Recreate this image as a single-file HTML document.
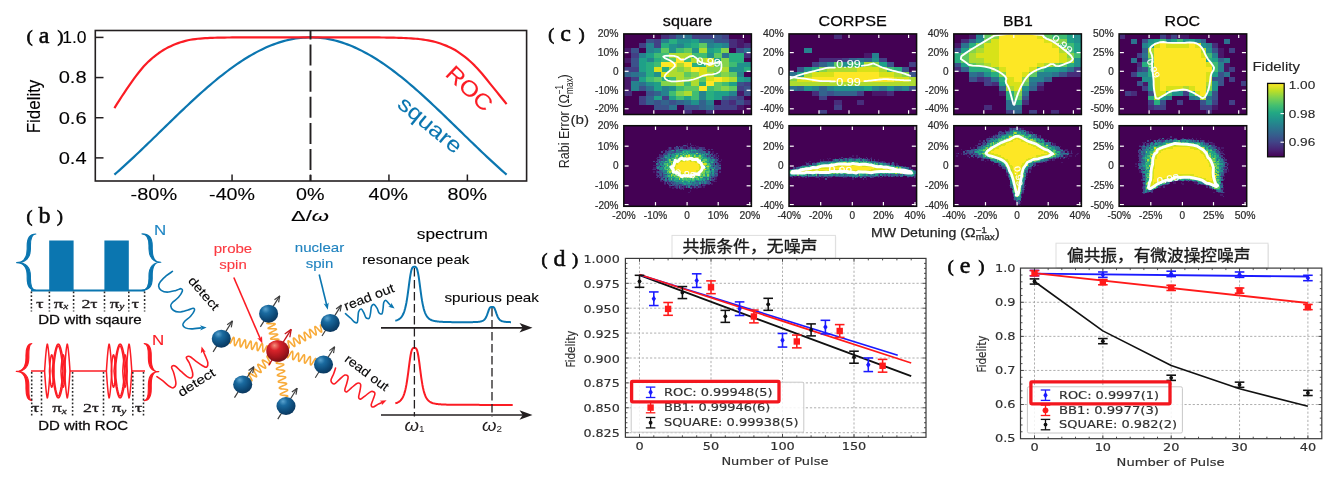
<!DOCTYPE html>
<html lang="zh">
<head>
<meta charset="utf-8">
<title>Figure</title>
<style>
html,body{margin:0;padding:0;background:#fff;}
body{width:1331px;height:492px;overflow:hidden;}
svg{display:block;font-family:"Liberation Sans",sans-serif;filter:blur(0.5px);}
</style>
</head>
<body>
<svg width="1331" height="492" viewBox="0 0 1331 492">
<rect width="1331" height="492" fill="#fff"/>
<g id="panel-a">
<path d="M114.4 174.63 L116.85 172.48 L119.3 170.31 L121.75 168.11 L124.21 165.89 L126.66 163.66 L129.11 161.4 L131.56 159.12 L134.01 156.83 L136.46 154.52 L138.91 152.2 L141.36 149.87 L143.81 147.52 L146.27 145.16 L148.72 142.8 L151.17 140.43 L153.62 138.05 L156.07 135.67 L158.52 133.28 L160.97 130.9 L163.43 128.51 L165.88 126.12 L168.33 123.74 L170.78 121.36 L173.23 118.99 L175.68 116.62 L178.13 114.26 L180.58 111.92 L183.04 109.58 L185.49 107.26 L187.94 104.95 L190.39 102.66 L192.84 100.39 L195.29 98.13 L197.74 95.9 L200.19 93.69 L202.64 91.5 L205.1 89.34 L207.55 87.2 L210 85.1 L212.45 83.02 L214.9 80.97 L217.35 78.96 L219.8 76.98 L222.25 75.03 L224.71 73.12 L227.16 71.25 L229.61 69.41 L232.06 67.62 L234.51 65.87 L236.96 64.16 L239.41 62.49 L241.87 60.87 L244.32 59.3 L246.77 57.77 L249.22 56.29 L251.67 54.86 L254.12 53.48 L256.57 52.15 L259.02 50.88 L261.48 49.65 L263.93 48.48 L266.38 47.37 L268.83 46.31 L271.28 45.31 L273.73 44.36 L276.18 43.48 L278.63 42.65 L281.09 41.88 L283.54 41.17 L285.99 40.52 L288.44 39.93 L290.89 39.4 L293.34 38.93 L295.79 38.53 L298.24 38.18 L300.69 37.9 L303.15 37.68 L305.6 37.53 L308.05 37.43 L310.5 37.4 L312.95 37.43 L315.4 37.53 L317.85 37.68 L320.31 37.9 L322.76 38.18 L325.21 38.53 L327.66 38.93 L330.11 39.4 L332.56 39.93 L335.01 40.52 L337.46 41.17 L339.92 41.88 L342.37 42.65 L344.82 43.48 L347.27 44.36 L349.72 45.31 L352.17 46.31 L354.62 47.37 L357.07 48.48 L359.52 49.65 L361.98 50.88 L364.43 52.15 L366.88 53.48 L369.33 54.86 L371.78 56.29 L374.23 57.77 L376.68 59.3 L379.13 60.87 L381.59 62.49 L384.04 64.16 L386.49 65.87 L388.94 67.62 L391.39 69.41 L393.84 71.25 L396.29 73.12 L398.75 75.03 L401.2 76.98 L403.65 78.96 L406.1 80.97 L408.55 83.02 L411 85.1 L413.45 87.2 L415.9 89.34 L418.36 91.5 L420.81 93.69 L423.26 95.9 L425.71 98.13 L428.16 100.39 L430.61 102.66 L433.06 104.95 L435.51 107.26 L437.97 109.58 L440.42 111.92 L442.87 114.26 L445.32 116.62 L447.77 118.99 L450.22 121.36 L452.67 123.74 L455.12 126.12 L457.57 128.51 L460.03 130.9 L462.48 133.28 L464.93 135.67 L467.38 138.05 L469.83 140.43 L472.28 142.8 L474.73 145.16 L477.19 147.52 L479.64 149.87 L482.09 152.2 L484.54 154.52 L486.99 156.83 L489.44 159.12 L491.89 161.4 L494.34 163.66 L496.8 165.89 L499.25 168.11 L501.7 170.31 L504.15 172.48 L506.6 174.63" fill="none" stroke="#0b76b0" stroke-width="2.2" stroke-linejoin="round"/>
<path d="M114.4 108.08 L116.85 104.16 L119.3 100.3 L121.75 96.5 L124.21 92.77 L126.66 89.09 L129.11 85.51 L131.56 82.02 L134.01 78.62 L136.46 75.37 L138.91 72.24 L141.36 69.2 L143.81 66.34 L146.27 63.73 L148.72 61.33 L151.17 59.11 L153.62 57.03 L156.07 55.1 L158.52 53.27 L160.97 51.56 L163.43 50 L165.88 48.6 L168.33 47.32 L170.78 46.14 L173.23 45.07 L175.68 44.08 L178.13 43.15 L180.58 42.31 L183.04 41.58 L185.49 40.9 L187.94 40.29 L190.39 39.78 L192.84 39.39 L195.29 39.06 L197.74 38.78 L200.19 38.55 L202.64 38.35 L205.1 38.18 L207.55 38.04 L210 37.94 L212.45 37.85 L214.9 37.77 L217.35 37.7 L219.8 37.63 L222.25 37.58 L224.71 37.54 L227.16 37.51 L229.61 37.49 L232.06 37.47 L234.51 37.46 L236.96 37.44 L239.41 37.43 L241.87 37.42 L244.32 37.41 L246.77 37.41 L249.22 37.4 L251.67 37.4 L254.12 37.4 L256.57 37.4 L259.02 37.4 L261.48 37.4 L263.93 37.4 L266.38 37.4 L268.83 37.4 L271.28 37.4 L273.73 37.4 L276.18 37.4 L278.63 37.4 L281.09 37.4 L283.54 37.4 L285.99 37.4 L288.44 37.4 L290.89 37.4 L293.34 37.4 L295.79 37.4 L298.24 37.4 L300.69 37.4 L303.15 37.4 L305.6 37.4 L308.05 37.4 L310.5 37.4 L312.95 37.4 L315.4 37.4 L317.85 37.4 L320.31 37.4 L322.76 37.4 L325.21 37.4 L327.66 37.4 L330.11 37.4 L332.56 37.4 L335.01 37.4 L337.46 37.4 L339.92 37.4 L342.37 37.4 L344.82 37.4 L347.27 37.4 L349.72 37.4 L352.17 37.4 L354.62 37.4 L357.07 37.4 L359.52 37.4 L361.98 37.4 L364.43 37.4 L366.88 37.4 L369.33 37.4 L371.78 37.4 L374.23 37.41 L376.68 37.43 L379.13 37.46 L381.59 37.49 L384.04 37.52 L386.49 37.56 L388.94 37.6 L391.39 37.65 L393.84 37.7 L396.29 37.75 L398.75 37.81 L401.2 37.88 L403.65 37.98 L406.1 38.09 L408.55 38.23 L411 38.39 L413.45 38.56 L415.9 38.75 L418.36 38.97 L420.81 39.25 L423.26 39.59 L425.71 39.98 L428.16 40.42 L430.61 40.9 L433.06 41.42 L435.51 41.98 L437.97 42.69 L440.42 43.54 L442.87 44.46 L445.32 45.4 L447.77 46.39 L450.22 47.47 L452.67 48.67 L455.12 50.03 L457.57 51.59 L460.03 53.29 L462.48 55.07 L464.93 56.92 L467.38 58.9 L469.83 61 L472.28 63.23 L474.73 65.65 L477.19 68.23 L479.64 70.93 L482.09 73.72 L484.54 76.69 L486.99 79.76 L489.44 82.82 L491.89 85.85 L494.34 88.88 L496.8 91.92 L499.25 94.96 L501.7 97.99 L504.15 101.03 L506.6 104.07" fill="none" stroke="#fb1c24" stroke-width="2.2" stroke-linejoin="round"/>
<line x1="310.5" y1="31" x2="310.5" y2="181" stroke="#231f20" stroke-width="1.9" stroke-dasharray="21 5.1" stroke-dashoffset="12.5"/>
<rect x="95.3" y="30.5" width="431.3" height="150.5" fill="none" stroke="#231f20" stroke-width="1.6"/>
<line x1="95.3" y1="37.4" x2="103.5" y2="37.4" stroke="#231f20" stroke-width="1.5" />
<line x1="95.3" y1="77.56" x2="103.5" y2="77.56" stroke="#231f20" stroke-width="1.5" />
<line x1="95.3" y1="117.72" x2="103.5" y2="117.72" stroke="#231f20" stroke-width="1.5" />
<line x1="95.3" y1="157.88" x2="103.5" y2="157.88" stroke="#231f20" stroke-width="1.5" />
<line x1="153.62" y1="181" x2="153.62" y2="174.5" stroke="#231f20" stroke-width="1.5" />
<line x1="232.06" y1="181" x2="232.06" y2="174.5" stroke="#231f20" stroke-width="1.5" />
<line x1="310.5" y1="181" x2="310.5" y2="174.5" stroke="#231f20" stroke-width="1.5" />
<line x1="388.94" y1="181" x2="388.94" y2="174.5" stroke="#231f20" stroke-width="1.5" />
<line x1="467.38" y1="181" x2="467.38" y2="174.5" stroke="#231f20" stroke-width="1.5" />
<text x="62.3" y="43.2" font-size="16" textLength="24.3" lengthAdjust="spacingAndGlyphs" stroke="#231f20" stroke-width="0.12">1.0</text>
<text x="58.7" y="83.36" font-size="16" textLength="27.9" lengthAdjust="spacingAndGlyphs" stroke="#231f20" stroke-width="0.12">0.8</text>
<text x="58.7" y="123.52" font-size="16" textLength="27.9" lengthAdjust="spacingAndGlyphs" stroke="#231f20" stroke-width="0.12">0.6</text>
<text x="58.7" y="163.68" font-size="16" textLength="27.9" lengthAdjust="spacingAndGlyphs" stroke="#231f20" stroke-width="0.12">0.4</text>
<text x="130.6" y="200.2" font-size="16" textLength="46.5" lengthAdjust="spacingAndGlyphs" stroke="#231f20" stroke-width="0.12">-80%</text>
<text x="209.1" y="200.2" font-size="16" textLength="45.9" lengthAdjust="spacingAndGlyphs" stroke="#231f20" stroke-width="0.12">-40%</text>
<text x="296.1" y="200.2" font-size="16" textLength="28.5" lengthAdjust="spacingAndGlyphs" stroke="#231f20" stroke-width="0.12">0%</text>
<text x="368.6" y="200.2" font-size="16" textLength="39.4" lengthAdjust="spacingAndGlyphs" stroke="#231f20" stroke-width="0.12">40%</text>
<text x="447.5" y="200.2" font-size="16" textLength="39.5" lengthAdjust="spacingAndGlyphs" stroke="#231f20" stroke-width="0.12">80%</text>
<text transform="translate(40.3 133.2) rotate(-90)" x="0" y="0" font-size="18.2" textLength="53.5" lengthAdjust="spacingAndGlyphs" stroke="#231f20" stroke-width="0.12">Fidelity</text>
<text x="291" y="221.3" font-size="15.5" textLength="38" lengthAdjust="spacingAndGlyphs" stroke="#231f20" stroke-width="0.12">Δ/<tspan font-style="italic">ω</tspan></text>
<text transform="translate(444.2 75) rotate(43.5)" x="0" y="0" font-size="22" fill="#fb1c24" textLength="55" lengthAdjust="spacingAndGlyphs" stroke="#fb1c24" stroke-width="0.1">ROC</text>
<text transform="translate(396.2 106.2) rotate(39.5)" x="0" y="0" font-size="21.5" fill="#0b76b0" textLength="76" lengthAdjust="spacingAndGlyphs" stroke="#0b76b0" stroke-width="0.1">square</text>
<text y="43.6" font-family='"Liberation Serif", serif' fill="#0a0a0a" stroke="#0a0a0a" stroke-width="0.75"><tspan x="26.8" y="42" font-size="17.6">(</tspan><tspan x="32.8" y="42.7" font-size="24" stroke-width="0.55"> a </tspan><tspan x="57.4" y="42" font-size="17.6">)</tspan></text>
</g>
<g id="panel-b">
<defs>
<radialGradient id="gb" cx="0.38" cy="0.3" r="0.75" fx="0.34" fy="0.24">
<stop offset="0" stop-color="#5aa3cf"/><stop offset="0.3" stop-color="#1a6a9f"/><stop offset="0.7" stop-color="#0d4a78"/><stop offset="1" stop-color="#0a3358"/>
</radialGradient>
<radialGradient id="gr" cx="0.4" cy="0.3" r="0.75" fx="0.36" fy="0.24">
<stop offset="0" stop-color="#f58f7c"/><stop offset="0.3" stop-color="#d8232a"/><stop offset="0.7" stop-color="#a3151c"/><stop offset="1" stop-color="#6e0d12"/>
</radialGradient>
</defs>
<text y="223.4" font-family='"Liberation Serif", serif' fill="#0a0a0a" stroke="#0a0a0a" stroke-width="0.75"><tspan x="26.4" y="221.8" font-size="17.6">(</tspan><tspan x="32.4" y="222.5" font-size="24" stroke-width="0.55"> b </tspan><tspan x="57" y="221.8" font-size="17.6">)</tspan></text>
<rect x="49.2" y="240.5" width="24.4" height="50.5" fill="#0b76b0"/>
<rect x="104.4" y="240.5" width="24.4" height="50.5" fill="#0b76b0"/>
<line x1="31" y1="290.5" x2="145" y2="290.5" stroke="#0b76b0" stroke-width="1.8" />
<path d="M35.8 234C31.06 234 27.19 236.7 27.19 245.71L27.19 249.09C27.19 258.1 22.95 262.6 16.6 262.6C22.95 262.6 27.19 267.1 27.19 276.11L27.19 278.59C27.19 287.6 31.06 290.3 35.8 290.3C32.84 290.3 30.41 287.6 30.41 278.59L30.41 276.11C30.41 267.1 25.4 262.6 17.89 262.6C25.4 262.6 30.41 258.1 30.41 249.09L30.41 245.71C30.41 236.7 32.84 234 35.8 234Z" fill="#0b76b0" stroke="#0b76b0" stroke-width="1.15" stroke-linejoin="round"/>
<path d="M142 233.8C145.84 233.8 148.99 236.51 148.99 245.55L148.99 248.64C148.99 257.68 153.71 262.2 160.8 262.2C153.71 262.2 148.99 266.72 148.99 275.76L148.99 278.55C148.99 287.59 145.84 290.3 142 290.3C147.62 290.3 152.21 287.59 152.21 278.55L152.21 275.76C152.21 266.72 155.13 262.2 159.51 262.2C155.13 262.2 152.21 257.68 152.21 248.64L152.21 245.55C152.21 236.51 147.62 233.8 142 233.8Z" fill="#0b76b0" stroke="#0b76b0" stroke-width="1.15" stroke-linejoin="round"/>
<line x1="31.4" y1="291.5" x2="31.4" y2="311.5" stroke="#2a2a2a" stroke-width="1.55" stroke-dasharray="1.8 2.0"/>
<line x1="49.4" y1="291.5" x2="49.4" y2="311.5" stroke="#2a2a2a" stroke-width="1.55" stroke-dasharray="1.8 2.0"/>
<line x1="73.6" y1="291.5" x2="73.6" y2="311.5" stroke="#2a2a2a" stroke-width="1.55" stroke-dasharray="1.8 2.0"/>
<line x1="104.5" y1="291.5" x2="104.5" y2="311.5" stroke="#2a2a2a" stroke-width="1.55" stroke-dasharray="1.8 2.0"/>
<line x1="128.8" y1="291.5" x2="128.8" y2="311.5" stroke="#2a2a2a" stroke-width="1.55" stroke-dasharray="1.8 2.0"/>
<line x1="144.6" y1="291.5" x2="144.6" y2="311.5" stroke="#2a2a2a" stroke-width="1.55" stroke-dasharray="1.8 2.0"/>
<text x="36" y="308.2" font-size="12.8" font-family='"Liberation Serif", serif' fill="#231f20" stroke="#231f20" stroke-width="0.3" textLength="7.6" lengthAdjust="spacingAndGlyphs">τ</text>
<text x="53.7" y="308.2" font-size="12.8" font-family='"Liberation Serif", serif' fill="#231f20" stroke="#231f20" stroke-width="0.3" textLength="14.6" lengthAdjust="spacingAndGlyphs">π<tspan font-size="7.68" font-style="italic" dy="1.2">x</tspan></text>
<text x="81.4" y="308.2" font-size="12.8" font-family='"Liberation Serif", serif' fill="#231f20" stroke="#231f20" stroke-width="0.3" textLength="16.2" lengthAdjust="spacingAndGlyphs">2τ</text>
<text x="109.7" y="308.2" font-size="12.8" font-family='"Liberation Serif", serif' fill="#231f20" stroke="#231f20" stroke-width="0.3" textLength="14.6" lengthAdjust="spacingAndGlyphs">π<tspan font-size="7.68" font-style="italic" dy="1.2">y</tspan></text>
<text x="131.6" y="308.2" font-size="12.8" font-family='"Liberation Serif", serif' fill="#231f20" stroke="#231f20" stroke-width="0.3" textLength="7.6" lengthAdjust="spacingAndGlyphs">τ</text>
<text x="38.2" y="323.8" font-size="13.6" textLength="103.5" lengthAdjust="spacingAndGlyphs" stroke="#231f20" stroke-width="0.28">DD with sqaure</text>
<text x="153.9" y="234.5" font-size="14.4" fill="#1f86c4" textLength="12.2" lengthAdjust="spacingAndGlyphs" stroke="#1f86c4" stroke-width="0.12">N</text>
<line x1="31" y1="371" x2="44.5" y2="371" stroke="#fb1c24" stroke-width="1.5" />
<line x1="69.8" y1="371" x2="106.6" y2="371" stroke="#fb1c24" stroke-width="1.5" />
<line x1="131.6" y1="371" x2="145" y2="371" stroke="#fb1c24" stroke-width="1.5" />
<path d="M44.6 371 L44.94 365.83 L45.28 361.08 L45.62 356.78 L45.97 352.97 L46.31 349.7 L46.65 347.03 L46.99 345.07 L47.33 344.1 L47.67 345.07 L48.01 347.03 L48.35 349.7 L48.7 352.97 L49.04 356.78 L49.38 361.08 L49.72 365.83 L50.06 371" fill="none" stroke="#fb1c24" stroke-width="1.5" stroke-linejoin="round"/><path d="M44.6 371 L44.94 376.17 L45.28 380.92 L45.62 385.22 L45.97 389.03 L46.31 392.3 L46.65 394.97 L46.99 396.93 L47.33 397.9 L47.67 396.93 L48.01 394.97 L48.35 392.3 L48.7 389.03 L49.04 385.22 L49.38 380.92 L49.72 376.17 L50.06 371" fill="none" stroke="#fb1c24" stroke-width="1.5" stroke-linejoin="round"/><path d="M49.43 371 L49.71 366.63 L50 363.52 L50.28 360.91 L50.57 358.77 L50.85 357.08 L51.14 355.85 L51.43 355.11 L51.71 354.86 L52 355.11 L52.28 355.85 L52.57 357.08 L52.86 358.77 L53.14 360.91 L53.43 363.52 L53.71 366.63 L54 371" fill="none" stroke="#fb1c24" stroke-width="1.5" stroke-linejoin="round"/><path d="M49.43 371 L49.71 375.37 L50 378.48 L50.28 381.09 L50.57 383.23 L50.85 384.92 L51.14 386.15 L51.43 386.89 L51.71 387.14 L52 386.89 L52.28 386.15 L52.57 384.92 L52.86 383.23 L53.14 381.09 L53.43 378.48 L53.71 375.37 L54 371" fill="none" stroke="#fb1c24" stroke-width="1.5" stroke-linejoin="round"/><path d="M52.22 371 L52.98 363.72 L53.74 358.53 L54.51 354.19 L55.27 350.61 L56.03 347.79 L56.79 345.75 L57.55 344.51 L58.32 344.1 L59.08 344.51 L59.84 345.75 L60.6 347.79 L61.36 350.61 L62.13 354.19 L62.89 358.53 L63.65 363.72 L64.41 371" fill="none" stroke="#fb1c24" stroke-width="1.5" stroke-linejoin="round"/><path d="M52.22 371 L52.98 378.28 L53.74 383.47 L54.51 387.81 L55.27 391.39 L56.03 394.21 L56.79 396.25 L57.55 397.49 L58.32 397.9 L59.08 397.49 L59.84 396.25 L60.6 394.21 L61.36 391.39 L62.13 387.81 L62.89 383.47 L63.65 378.28 L64.41 371" fill="none" stroke="#fb1c24" stroke-width="1.5" stroke-linejoin="round"/><path d="M53.49 371 L54.08 364.23 L54.66 359.4 L55.25 355.37 L55.84 352.04 L56.43 349.42 L57.01 347.52 L57.6 346.37 L58.19 345.98 L58.78 346.37 L59.36 347.52 L59.95 349.42 L60.54 352.04 L61.13 355.37 L61.71 359.4 L62.3 364.23 L62.89 371" fill="none" stroke="#fb1c24" stroke-width="1.5" stroke-linejoin="round"/><path d="M53.49 371 L54.08 377.77 L54.66 382.6 L55.25 386.63 L55.84 389.96 L56.43 392.58 L57.01 394.48 L57.6 395.63 L58.19 396.02 L58.78 395.63 L59.36 394.48 L59.95 392.58 L60.54 389.96 L61.13 386.63 L61.71 382.6 L62.3 377.77 L62.89 371" fill="none" stroke="#fb1c24" stroke-width="1.5" stroke-linejoin="round"/><path d="M60.98 371 L61.26 366.63 L61.54 363.52 L61.82 360.91 L62.09 358.77 L62.37 357.08 L62.65 355.85 L62.93 355.11 L63.21 354.86 L63.48 355.11 L63.76 355.85 L64.04 357.08 L64.32 358.77 L64.59 360.91 L64.87 363.52 L65.15 366.63 L65.43 371" fill="none" stroke="#fb1c24" stroke-width="1.5" stroke-linejoin="round"/><path d="M60.98 371 L61.26 375.37 L61.54 378.48 L61.82 381.09 L62.09 383.23 L62.37 384.92 L62.65 386.15 L62.93 386.89 L63.21 387.14 L63.48 386.89 L63.76 386.15 L64.04 384.92 L64.32 383.23 L64.59 381.09 L64.87 378.48 L65.15 375.37 L65.43 371" fill="none" stroke="#fb1c24" stroke-width="1.5" stroke-linejoin="round"/><path d="M64.54 371 L64.88 365.83 L65.22 361.08 L65.56 356.78 L65.9 352.97 L66.25 349.7 L66.59 347.03 L66.93 345.07 L67.27 344.1 L67.61 345.07 L67.95 347.03 L68.29 349.7 L68.63 352.97 L68.98 356.78 L69.32 361.08 L69.66 365.83 L70 371" fill="none" stroke="#fb1c24" stroke-width="1.5" stroke-linejoin="round"/><path d="M64.54 371 L64.88 376.17 L65.22 380.92 L65.56 385.22 L65.9 389.03 L66.25 392.3 L66.59 394.97 L66.93 396.93 L67.27 397.9 L67.61 396.93 L67.95 394.97 L68.29 392.3 L68.63 389.03 L68.98 385.22 L69.32 380.92 L69.66 376.17 L70 371" fill="none" stroke="#fb1c24" stroke-width="1.5" stroke-linejoin="round"/>
<path d="M106.4 371 L106.74 365.83 L107.08 361.08 L107.42 356.78 L107.77 352.97 L108.11 349.7 L108.45 347.03 L108.79 345.07 L109.13 344.1 L109.47 345.07 L109.81 347.03 L110.15 349.7 L110.5 352.97 L110.84 356.78 L111.18 361.08 L111.52 365.83 L111.86 371" fill="none" stroke="#fb1c24" stroke-width="1.5" stroke-linejoin="round"/><path d="M106.4 371 L106.74 376.17 L107.08 380.92 L107.42 385.22 L107.77 389.03 L108.11 392.3 L108.45 394.97 L108.79 396.93 L109.13 397.9 L109.47 396.93 L109.81 394.97 L110.15 392.3 L110.5 389.03 L110.84 385.22 L111.18 380.92 L111.52 376.17 L111.86 371" fill="none" stroke="#fb1c24" stroke-width="1.5" stroke-linejoin="round"/><path d="M111.23 371 L111.51 366.63 L111.8 363.52 L112.08 360.91 L112.37 358.77 L112.65 357.08 L112.94 355.85 L113.23 355.11 L113.51 354.86 L113.8 355.11 L114.08 355.85 L114.37 357.08 L114.66 358.77 L114.94 360.91 L115.23 363.52 L115.51 366.63 L115.8 371" fill="none" stroke="#fb1c24" stroke-width="1.5" stroke-linejoin="round"/><path d="M111.23 371 L111.51 375.37 L111.8 378.48 L112.08 381.09 L112.37 383.23 L112.65 384.92 L112.94 386.15 L113.23 386.89 L113.51 387.14 L113.8 386.89 L114.08 386.15 L114.37 384.92 L114.66 383.23 L114.94 381.09 L115.23 378.48 L115.51 375.37 L115.8 371" fill="none" stroke="#fb1c24" stroke-width="1.5" stroke-linejoin="round"/><path d="M114.02 371 L114.78 363.72 L115.54 358.53 L116.31 354.19 L117.07 350.61 L117.83 347.79 L118.59 345.75 L119.35 344.51 L120.12 344.1 L120.88 344.51 L121.64 345.75 L122.4 347.79 L123.16 350.61 L123.93 354.19 L124.69 358.53 L125.45 363.72 L126.21 371" fill="none" stroke="#fb1c24" stroke-width="1.5" stroke-linejoin="round"/><path d="M114.02 371 L114.78 378.28 L115.54 383.47 L116.31 387.81 L117.07 391.39 L117.83 394.21 L118.59 396.25 L119.35 397.49 L120.12 397.9 L120.88 397.49 L121.64 396.25 L122.4 394.21 L123.16 391.39 L123.93 387.81 L124.69 383.47 L125.45 378.28 L126.21 371" fill="none" stroke="#fb1c24" stroke-width="1.5" stroke-linejoin="round"/><path d="M115.29 371 L115.88 364.23 L116.46 359.4 L117.05 355.37 L117.64 352.04 L118.23 349.42 L118.81 347.52 L119.4 346.37 L119.99 345.98 L120.58 346.37 L121.16 347.52 L121.75 349.42 L122.34 352.04 L122.93 355.37 L123.51 359.4 L124.1 364.23 L124.69 371" fill="none" stroke="#fb1c24" stroke-width="1.5" stroke-linejoin="round"/><path d="M115.29 371 L115.88 377.77 L116.46 382.6 L117.05 386.63 L117.64 389.96 L118.23 392.58 L118.81 394.48 L119.4 395.63 L119.99 396.02 L120.58 395.63 L121.16 394.48 L121.75 392.58 L122.34 389.96 L122.93 386.63 L123.51 382.6 L124.1 377.77 L124.69 371" fill="none" stroke="#fb1c24" stroke-width="1.5" stroke-linejoin="round"/><path d="M122.78 371 L123.06 366.63 L123.34 363.52 L123.62 360.91 L123.89 358.77 L124.17 357.08 L124.45 355.85 L124.73 355.11 L125.01 354.86 L125.28 355.11 L125.56 355.85 L125.84 357.08 L126.12 358.77 L126.39 360.91 L126.67 363.52 L126.95 366.63 L127.23 371" fill="none" stroke="#fb1c24" stroke-width="1.5" stroke-linejoin="round"/><path d="M122.78 371 L123.06 375.37 L123.34 378.48 L123.62 381.09 L123.89 383.23 L124.17 384.92 L124.45 386.15 L124.73 386.89 L125.01 387.14 L125.28 386.89 L125.56 386.15 L125.84 384.92 L126.12 383.23 L126.39 381.09 L126.67 378.48 L126.95 375.37 L127.23 371" fill="none" stroke="#fb1c24" stroke-width="1.5" stroke-linejoin="round"/><path d="M126.34 371 L126.68 365.83 L127.02 361.08 L127.36 356.78 L127.7 352.97 L128.05 349.7 L128.39 347.03 L128.73 345.07 L129.07 344.1 L129.41 345.07 L129.75 347.03 L130.09 349.7 L130.43 352.97 L130.78 356.78 L131.12 361.08 L131.46 365.83 L131.8 371" fill="none" stroke="#fb1c24" stroke-width="1.5" stroke-linejoin="round"/><path d="M126.34 371 L126.68 376.17 L127.02 380.92 L127.36 385.22 L127.7 389.03 L128.05 392.3 L128.39 394.97 L128.73 396.93 L129.07 397.9 L129.41 396.93 L129.75 394.97 L130.09 392.3 L130.43 389.03 L130.78 385.22 L131.12 380.92 L131.46 376.17 L131.8 371" fill="none" stroke="#fb1c24" stroke-width="1.5" stroke-linejoin="round"/>
<path d="M31.8 343.6C28.6 343.6 25.97 346.34 25.97 355.46L25.97 357.72C25.97 366.84 22.1 371.4 16.3 371.4C22.1 371.4 25.97 375.96 25.97 385.08L25.97 388.74C25.97 397.86 28.6 400.6 31.8 400.6C30.16 400.6 28.83 397.86 28.83 388.74L28.83 385.08C28.83 375.96 24.27 371.4 17.44 371.4C24.27 371.4 28.83 366.84 28.83 357.72L28.83 355.46C28.83 346.34 30.16 343.6 31.8 343.6Z" fill="#fb1c24" stroke="#fb1c24" stroke-width="1.15" stroke-linejoin="round"/>
<path d="M144.2 343.6C146.5 343.6 148.37 346.34 148.37 355.46L148.37 357.92C148.37 367.04 152.54 371.6 158.8 371.6C152.54 371.6 148.37 376.16 148.37 385.28L148.37 388.74C148.37 397.86 146.5 400.6 144.2 400.6C148.06 400.6 151.23 397.86 151.23 388.74L151.23 385.28C151.23 376.16 153.8 371.6 157.66 371.6C153.8 371.6 151.23 367.04 151.23 357.92L151.23 355.46C151.23 346.34 148.06 343.6 144.2 343.6Z" fill="#fb1c24" stroke="#fb1c24" stroke-width="1.15" stroke-linejoin="round"/>
<line x1="31.7" y1="372" x2="31.7" y2="416" stroke="#2a2a2a" stroke-width="1.55" stroke-dasharray="1.8 2.0"/>
<line x1="41.5" y1="372" x2="41.5" y2="416" stroke="#2a2a2a" stroke-width="1.55" stroke-dasharray="1.8 2.0"/>
<line x1="72.6" y1="372" x2="72.6" y2="416" stroke="#2a2a2a" stroke-width="1.55" stroke-dasharray="1.8 2.0"/>
<line x1="103.5" y1="372" x2="103.5" y2="416" stroke="#2a2a2a" stroke-width="1.55" stroke-dasharray="1.8 2.0"/>
<line x1="132.8" y1="372" x2="132.8" y2="416" stroke="#2a2a2a" stroke-width="1.55" stroke-dasharray="1.8 2.0"/>
<line x1="143.5" y1="372" x2="143.5" y2="416" stroke="#2a2a2a" stroke-width="1.55" stroke-dasharray="1.8 2.0"/>
<text x="31.8" y="412.4" font-size="12.8" font-family='"Liberation Serif", serif' fill="#231f20" stroke="#231f20" stroke-width="0.3" textLength="7.6" lengthAdjust="spacingAndGlyphs">τ</text>
<text x="52.2" y="412.4" font-size="12.8" font-family='"Liberation Serif", serif' fill="#231f20" stroke="#231f20" stroke-width="0.3" textLength="14.6" lengthAdjust="spacingAndGlyphs">π<tspan font-size="7.68" font-style="italic" dy="1.2">x</tspan></text>
<text x="82.9" y="412.4" font-size="12.8" font-family='"Liberation Serif", serif' fill="#231f20" stroke="#231f20" stroke-width="0.3" textLength="16.2" lengthAdjust="spacingAndGlyphs">2τ</text>
<text x="111.7" y="412.4" font-size="12.8" font-family='"Liberation Serif", serif' fill="#231f20" stroke="#231f20" stroke-width="0.3" textLength="14.6" lengthAdjust="spacingAndGlyphs">π<tspan font-size="7.68" font-style="italic" dy="1.2">y</tspan></text>
<text x="134.8" y="412.4" font-size="12.8" font-family='"Liberation Serif", serif' fill="#231f20" stroke="#231f20" stroke-width="0.3" textLength="7.6" lengthAdjust="spacingAndGlyphs">τ</text>
<text x="38.2" y="430.2" font-size="13.6" textLength="90" lengthAdjust="spacingAndGlyphs" stroke="#231f20" stroke-width="0.28">DD with ROC</text>
<text x="151.9" y="344.8" font-size="14.4" fill="#fb1c24" textLength="12.2" lengthAdjust="spacingAndGlyphs" stroke="#fb1c24" stroke-width="0.12">N</text>
<path d="M172.45 271.41C171.45 272.13 168.42 274 166.41 275.73C164.39 277.45 161.66 280.04 160.36 281.77C159.07 283.5 158.49 284.65 158.64 286.09C158.78 287.53 159.79 289.4 161.23 290.41C162.67 291.41 164.82 292.13 167.27 292.13C169.72 292.13 173.6 290.98 175.91 290.41C178.21 289.83 180.02 288.53 181.09 288.68C182.15 288.82 182.73 289.83 182.3 291.27C181.87 292.71 180.14 295.44 178.5 297.31C176.86 299.19 173.75 301.06 172.45 302.5C171.16 303.93 170.58 304.65 170.73 305.95C170.87 307.25 171.88 309.26 173.32 310.27C174.76 311.28 176.91 312.05 179.36 311.99C181.81 311.94 185.69 310.56 188 309.92C190.3 309.29 192.11 308.08 193.18 308.2C194.24 308.31 194.82 309.26 194.39 310.61C193.96 311.97 192.23 314.5 190.59 316.31C188.95 318.13 185.84 320.05 184.54 321.49C183.25 322.93 182.67 323.88 182.82 324.95C182.96 326.01 183.97 327.22 185.41 327.88C186.85 328.55 188.86 328.92 191.45 328.92C194.04 328.92 199.37 328.06 200.95 327.88" fill="none" stroke="#0b76b0" stroke-width="1.6" stroke-linecap="round" stroke-linejoin="round" />
<path d="M206.6 327.6 L200.18 330.39 L201.73 327.75 L200.02 325.2 Z" fill="#0b76b0"/>
<text transform="translate(187.4 281.2) rotate(49)" x="0" y="0" font-size="12.6" textLength="40" lengthAdjust="spacingAndGlyphs" stroke="#231f20" stroke-width="0.12">detect</text>
<path d="M156.91 376.63C157.92 377.35 160.94 379.37 162.95 380.95C164.97 382.53 167.27 384.98 169 386.13C170.73 387.28 172.16 388.29 173.32 387.86C174.47 387.43 175.82 385.99 175.91 383.54C175.99 381.09 174.55 375.91 173.83 373.18C173.11 370.44 171.39 368.34 171.59 367.13C171.79 365.92 173.46 365.2 175.04 365.92C176.63 366.64 179.07 369.67 181.09 371.45C183.1 373.24 185.41 375.57 187.13 376.63C188.86 377.7 190.53 378.42 191.45 377.84C192.37 377.27 193.03 375.68 192.66 373.18C192.29 370.67 190.27 365.41 189.21 362.82C188.14 360.22 186.18 358.7 186.27 357.63C186.36 356.57 188.14 355.85 189.72 356.42C191.31 357 193.47 359.45 195.77 361.09C198.07 362.73 201.73 365.26 203.54 366.27C205.35 367.28 205.93 367.71 206.65 367.13C207.37 366.56 208.09 364.69 207.86 362.82C207.63 360.94 206.1 357.98 205.27 355.91C204.43 353.83 203.25 351.3 202.85 350.38" fill="none" stroke="#fb1c24" stroke-width="1.6" stroke-linecap="round" stroke-linejoin="round" />
<path d="M201.6 346.6 L205.79 352.21 L202.86 351.31 L200.77 353.55 Z" fill="#fb1c24"/>
<text transform="translate(181.2 397.2) rotate(-32.5)" x="0" y="0" font-size="12.6" textLength="41.5" lengthAdjust="spacingAndGlyphs" stroke="#231f20" stroke-width="0.12">detect</text>
<path d="M275.45 341.77 L275.86 341.28 L277.08 340.59 L278.56 339.83 L278.87 339.36 L278.03 339.17 L276.59 339.13 L274.81 339.17 L273.04 339.21 L271.6 339.17 L270.75 338.98 L270.66 338.61 L271.32 338.06 L272.59 337.36 L274.18 336.57 L275.78 335.79 L277.04 335.09 L277.7 334.54 L277.61 334.17 L276.77 333.98 L275.32 333.94 L273.55 333.98 L271.77 334.02 L270.33 333.98 L269.49 333.79 L269.4 333.42 L270.06 332.86 L271.32 332.16 L272.91 331.38 L274.51 330.6 L275.77 329.89 L276.43 329.34 L276.34 328.97 L275.5 328.78 L274.06 328.74 L272.28 328.78 L270.5 328.82 L269.06 328.78 L268.22 328.59 L268.13 328.22 L268.79 327.67 L270.05 326.96 L271.65 326.18 L273.24 325.4 L274.5 324.7 L275.16 324.14 L275.07 323.77 L274.23 323.59 L272.79 323.54 L271.01 323.58 L269.23 323.62 L267.79 323.58 L266.95 323.4 L267.27 322.93 L268.75 322.17 L269.97 321.48 L270.38 320.99" fill="none" stroke="#f8ab3a" stroke-width="1.6" stroke-linejoin="round" stroke-linecap="round"/>
<path d="M268.42 348.98 L268.08 348.6 L267.83 347.76 L267.62 346.77 L267.36 346.03 L266.95 345.93 L266.35 346.75 L265.58 348.36 L264.8 349.96 L264.1 351.23 L263.53 351.9 L263.12 351.81 L262.88 350.97 L262.77 349.52 L262.73 347.74 L262.7 345.95 L262.59 344.5 L262.35 343.66 L261.94 343.57 L261.37 344.24 L260.67 345.51 L259.89 347.12 L259.12 348.72 L258.41 349.99 L257.84 350.66 L257.44 350.57 L257.2 349.73 L257.09 348.28 L257.05 346.5 L257.01 344.71 L256.9 343.26 L256.66 342.42 L256.26 342.33 L255.69 343 L254.98 344.27 L254.21 345.88 L253.43 347.48 L252.73 348.76 L252.16 349.42 L251.75 349.33 L251.51 348.49 L251.4 347.04 L251.37 345.26 L251.33 343.47 L251.22 342.02 L250.98 341.18 L250.57 341.09 L250 341.76 L249.3 343.03 L248.52 344.64 L247.75 346.24 L247.04 347.52 L246.47 348.18 L246.07 348.09 L245.83 347.25 L245.72 345.8 L245.68 344.02 L245.64 342.23 L245.54 340.78 L245.29 339.94 L244.89 339.85 L244.32 340.52 L243.61 341.79 L242.84 343.4 L242.06 345 L241.36 346.28 L240.79 346.94 L240.38 346.85 L240.14 346.01 L240.03 344.56 L240 342.78 L239.96 340.99 L239.85 339.54 L239.61 338.7 L239.2 338.61 L238.63 339.28 L237.93 340.55 L237.15 342.16 L236.38 343.76 L235.68 345.04 L235.11 345.7 L234.7 345.61 L234.46 344.77 L234.35 343.32 L234.31 341.54 L234.28 339.75 L234.17 338.31 L233.92 337.46 L233.52 337.37 L232.95 338.04 L232.25 339.31 L231.47 340.92 L230.69 342.53 L230.09 343.34 L229.69 343.24 L229.42 342.51 L229.21 341.51 L228.97 340.68 L228.63 340.3" fill="none" stroke="#f8ab3a" stroke-width="1.6" stroke-linejoin="round" stroke-linecap="round"/>
<path d="M286.08 346.52 L286.6 346.57 L287.34 347.05 L288.16 347.66 L288.86 348.04 L289.24 347.84 L289.19 346.82 L288.76 345.08 L288.32 343.35 L288.04 341.92 L288.06 341.03 L288.45 340.83 L289.19 341.3 L290.23 342.32 L291.43 343.65 L292.64 344.97 L293.68 346 L294.42 346.47 L294.81 346.27 L294.82 345.38 L294.55 343.95 L294.11 342.21 L293.68 340.48 L293.4 339.05 L293.42 338.16 L293.8 337.96 L294.55 338.43 L295.59 339.46 L296.79 340.78 L298 342.11 L299.03 343.13 L299.78 343.6 L300.16 343.4 L300.18 342.51 L299.91 341.08 L299.47 339.35 L299.04 337.61 L298.76 336.18 L298.78 335.29 L299.16 335.09 L299.91 335.56 L300.95 336.59 L302.15 337.91 L303.35 339.24 L304.39 340.26 L305.14 340.74 L305.52 340.53 L305.54 339.65 L305.27 338.21 L304.83 336.48 L304.4 334.74 L304.12 333.31 L304.14 332.43 L304.52 332.22 L305.27 332.7 L306.31 333.72 L307.51 335.04 L308.71 336.37 L309.75 337.39 L310.5 337.87 L310.88 337.66 L310.9 336.78 L310.63 335.34 L310.19 333.61 L309.75 331.87 L309.48 330.44 L309.5 329.56 L309.88 329.35 L310.63 329.83 L311.67 330.85 L312.87 332.18 L314.07 333.5 L315.11 334.52 L315.86 335 L316.24 334.79 L316.26 333.91 L315.99 332.48 L315.55 330.74 L315.11 329.01 L314.84 327.57 L314.86 326.69 L315.24 326.48 L315.99 326.96 L317.03 327.98 L318.23 329.31 L319.43 330.63 L320.47 331.65 L321.22 332.13 L321.6 331.93 L321.62 331.04 L321.34 329.61 L320.91 327.87 L320.47 326.14 L320.42 325.12 L320.8 324.92 L321.5 325.3 L322.32 325.91 L323.07 326.38 L323.59 326.44" fill="none" stroke="#f8ab3a" stroke-width="1.6" stroke-linejoin="round" stroke-linecap="round"/>
<path d="M286.81 353.7 L287.11 354.23 L287.23 355.38 L287.28 356.75 L287.44 357.77 L288.02 357.33 L288.84 356.12 L289.76 354.58 L290.67 353.04 L291.49 351.83 L292.13 351.22 L292.55 351.34 L292.75 352.21 L292.78 353.67 L292.71 355.46 L292.64 357.25 L292.66 358.7 L292.86 359.57 L293.28 359.7 L293.92 359.08 L294.74 357.87 L295.66 356.33 L296.57 354.79 L297.39 353.58 L298.03 352.97 L298.45 353.09 L298.66 353.96 L298.68 355.42 L298.61 357.21 L298.54 359 L298.56 360.46 L298.76 361.32 L299.18 361.45 L299.83 360.83 L300.64 359.62 L301.56 358.08 L302.47 356.55 L303.29 355.34 L303.93 354.72 L304.35 354.85 L304.56 355.71 L304.58 357.17 L304.51 358.96 L304.44 360.75 L304.46 362.21 L304.66 363.07 L305.08 363.2 L305.73 362.58 L306.54 361.38 L307.46 359.84 L308.37 358.3 L309.19 357.09 L309.83 356.47 L310.26 356.6 L310.46 357.46 L310.48 358.92 L310.41 360.71 L310.34 362.5 L310.36 363.96 L310.56 364.83 L310.99 364.95 L311.63 364.34 L312.44 363.13 L313.36 361.59 L314.28 360.05 L315.09 358.84 L315.68 358.4 L315.84 359.42 L315.89 360.79 L316.01 361.94 L316.31 362.47" fill="none" stroke="#f8ab3a" stroke-width="1.6" stroke-linejoin="round" stroke-linecap="round"/>
<path d="M270.84 357.57 L270.23 357.58 L269.16 357.11 L267.94 356.49 L266.97 356.13 L267.05 356.86 L267.69 358.18 L268.57 359.74 L269.44 361.31 L270.08 362.62 L270.29 363.49 L269.96 363.8 L269.1 363.56 L267.82 362.86 L266.29 361.92 L264.77 360.97 L263.48 360.28 L262.62 360.03 L262.3 360.34 L262.51 361.21 L263.15 362.53 L264.02 364.09 L264.9 365.66 L265.53 366.97 L265.74 367.84 L265.42 368.15 L264.56 367.9 L263.27 367.21 L261.75 366.27 L260.22 365.32 L258.94 364.63 L258.08 364.38 L257.75 364.69 L257.96 365.56 L258.6 366.88 L259.48 368.44 L260.35 370.01 L260.99 371.32 L261.2 372.19 L260.88 372.5 L260.02 372.25 L258.73 371.56 L257.21 370.62 L255.68 369.67 L254.39 368.98 L253.54 368.73 L253.21 369.04 L253.42 369.91 L254.06 371.23 L254.93 372.79 L255.81 374.35 L256.45 375.67 L256.66 376.54 L256.33 376.85 L255.47 376.6 L254.19 375.91 L252.66 374.97 L251.14 374.02 L249.85 373.33 L248.99 373.08 L248.67 373.39 L248.88 374.26 L249.51 375.58 L250.39 377.14 L251.27 378.7 L251.9 380.02 L251.98 380.75 L251.02 380.39 L249.8 379.77 L248.73 379.3 L248.12 379.31" fill="none" stroke="#f8ab3a" stroke-width="1.6" stroke-linejoin="round" stroke-linecap="round"/>
<path d="M279.12 360.39 L278.85 360.9 L278.03 361.49 L277.03 362.1 L276.33 362.67 L276.39 363.13 L277.81 363.38 L279.6 363.58 L281.38 363.77 L282.83 364.02 L283.66 364.36 L283.73 364.81 L283.03 365.38 L281.73 366.05 L280.08 366.76 L278.43 367.47 L277.12 368.13 L276.43 368.7 L276.5 369.16 L277.33 369.5 L278.77 369.75 L280.56 369.94 L282.34 370.14 L283.79 370.38 L284.62 370.72 L284.69 371.18 L283.99 371.75 L282.69 372.41 L281.04 373.12 L279.39 373.84 L278.08 374.5 L277.39 375.07 L277.46 375.52 L278.29 375.86 L279.73 376.11 L281.52 376.31 L283.3 376.5 L284.75 376.75 L285.58 377.09 L285.65 377.54 L284.95 378.11 L283.65 378.78 L282 379.49 L280.35 380.2 L279.04 380.86 L278.35 381.43 L278.42 381.89 L279.25 382.23 L280.69 382.48 L282.48 382.67 L284.26 382.87 L285.71 383.11 L286.54 383.45 L286.61 383.91 L285.91 384.48 L284.61 385.14 L282.96 385.85 L281.31 386.57 L280 387.23 L279.31 387.8 L279.38 388.25 L280.21 388.59 L281.66 388.84 L283.44 389.04 L285.22 389.23 L286.67 389.48 L287.5 389.82 L287.57 390.27 L286.88 390.84 L285.57 391.51 L283.92 392.22 L282.27 392.93 L280.97 393.59 L280.27 394.16 L280.34 394.62 L281.17 394.96 L282.62 395.21 L284.4 395.4 L286.19 395.6 L287.61 395.85 L287.67 396.3 L286.97 396.87 L285.97 397.49 L285.15 398.08 L284.88 398.58" fill="none" stroke="#f8ab3a" stroke-width="1.6" stroke-linejoin="round" stroke-linecap="round"/>
<line x1="260.39" y1="326.84" x2="279.73" y2="295.89" stroke="#3c3c3c" stroke-width="1.15" /><line x1="279.73" y1="295.89" x2="274.47" y2="299.71" stroke="#3c3c3c" stroke-width="1.15" /><line x1="279.73" y1="295.89" x2="278.6" y2="302.29" stroke="#3c3c3c" stroke-width="1.15" />
<line x1="213.09" y1="351.84" x2="232.43" y2="320.89" stroke="#3c3c3c" stroke-width="1.15" /><line x1="232.43" y1="320.89" x2="227.17" y2="324.71" stroke="#3c3c3c" stroke-width="1.15" /><line x1="232.43" y1="320.89" x2="231.3" y2="327.29" stroke="#3c3c3c" stroke-width="1.15" />
<line x1="321.99" y1="336.04" x2="341.33" y2="305.09" stroke="#3c3c3c" stroke-width="1.15" /><line x1="341.33" y1="305.09" x2="336.07" y2="308.91" stroke="#3c3c3c" stroke-width="1.15" /><line x1="341.33" y1="305.09" x2="340.2" y2="311.49" stroke="#3c3c3c" stroke-width="1.15" />
<line x1="315.29" y1="377.74" x2="334.63" y2="346.79" stroke="#3c3c3c" stroke-width="1.15" /><line x1="334.63" y1="346.79" x2="329.37" y2="350.61" stroke="#3c3c3c" stroke-width="1.15" /><line x1="334.63" y1="346.79" x2="333.5" y2="353.19" stroke="#3c3c3c" stroke-width="1.15" />
<line x1="234.49" y1="397.64" x2="253.83" y2="366.69" stroke="#3c3c3c" stroke-width="1.15" /><line x1="253.83" y1="366.69" x2="248.57" y2="370.51" stroke="#3c3c3c" stroke-width="1.15" /><line x1="253.83" y1="366.69" x2="252.7" y2="373.09" stroke="#3c3c3c" stroke-width="1.15" />
<line x1="277.79" y1="419.14" x2="297.13" y2="388.19" stroke="#3c3c3c" stroke-width="1.15" /><line x1="297.13" y1="388.19" x2="291.87" y2="392.01" stroke="#3c3c3c" stroke-width="1.15" /><line x1="297.13" y1="388.19" x2="296" y2="394.59" stroke="#3c3c3c" stroke-width="1.15" />
<line x1="268.69" y1="365.42" x2="291.21" y2="329.37" stroke="#c4161c" stroke-width="1.3" /><line x1="291.21" y1="329.37" x2="284.74" y2="334.08" stroke="#c4161c" stroke-width="1.3" /><line x1="291.21" y1="329.37" x2="289.82" y2="337.25" stroke="#c4161c" stroke-width="1.3" />
<ellipse cx="268.6" cy="313.7" rx="9.54" ry="9" fill="url(#gb)"/>
<ellipse cx="221.3" cy="338.7" rx="9.54" ry="9" fill="url(#gb)"/>
<ellipse cx="330.2" cy="322.9" rx="9.54" ry="9" fill="url(#gb)"/>
<ellipse cx="323.5" cy="364.6" rx="9.54" ry="9" fill="url(#gb)"/>
<ellipse cx="242.7" cy="384.5" rx="9.54" ry="9" fill="url(#gb)"/>
<ellipse cx="286" cy="406" rx="9.54" ry="9" fill="url(#gb)"/>
<ellipse cx="277.7" cy="351" rx="11.45" ry="10.8" fill="url(#gr)"/>
<text x="233" y="253.2" font-size="12.8" fill="#fb3a41" text-anchor="middle" textLength="38.5" lengthAdjust="spacingAndGlyphs" stroke="#fb3a41" stroke-width="0.12">probe</text>
<text x="233" y="269" font-size="12.8" fill="#fb3a41" text-anchor="middle" textLength="27.5" lengthAdjust="spacingAndGlyphs" stroke="#fb3a41" stroke-width="0.12">spin</text>
<text x="319.5" y="252.2" font-size="12.8" fill="#2083bf" text-anchor="middle" textLength="49.5" lengthAdjust="spacingAndGlyphs" stroke="#2083bf" stroke-width="0.12">nuclear</text>
<text x="319.5" y="268.2" font-size="12.8" fill="#2083bf" text-anchor="middle" textLength="27.5" lengthAdjust="spacingAndGlyphs" stroke="#2083bf" stroke-width="0.12">spin</text>
<line x1="233.8" y1="277.5" x2="260.6" y2="339.5" stroke="#fb1c24" stroke-width="1.6" />
<path d="M262.4 343.5 L257.24 338.1 L260.32 338.68 L262.01 336.04 Z" fill="#fb1c24"/>
<line x1="319.2" y1="274.5" x2="326.8" y2="305.5" stroke="#0b76b0" stroke-width="1.6" />
<path d="M327.8 309.8 L323.62 303.61 L326.56 304.7 L328.67 302.38 Z" fill="#0b76b0"/>
<path d="M345.46 313.66C346.34 314.43 349.2 316.85 350.74 318.28C352.28 319.71 353.6 321.58 354.7 322.24C355.8 322.9 356.79 323.12 357.34 322.24C357.89 321.36 357.78 318.72 358 316.96C358.22 315.2 358.11 313 358.66 311.68C359.21 310.36 360.42 308.82 361.3 309.04C362.18 309.26 363.17 311.57 363.94 313C364.71 314.43 365.04 316.74 365.92 317.62C366.8 318.5 368.45 319.05 369.22 318.28C369.99 317.51 370.17 314.98 370.54 313C370.92 311.02 370.87 307.83 371.47 306.4C372.06 304.97 373.16 304.09 374.11 304.42C375.06 304.75 376.31 306.95 377.15 308.38C377.98 309.81 378.31 312.12 379.13 313C379.94 313.88 381.37 314.43 382.03 313.66C382.69 312.89 382.8 310.25 383.09 308.38C383.37 306.51 383.26 303.76 383.75 302.44C384.23 301.12 385.11 300.24 385.99 300.46C386.87 300.68 388.08 302.77 389.03 303.76C389.97 304.75 391.23 305.96 391.67 306.4" fill="none" stroke="#0b76b0" stroke-width="1.6" stroke-linecap="round" stroke-linejoin="round" />
<path d="M394.6 308.6 L388.18 306.75 L390.94 305.74 L391.25 302.81 Z" fill="#0b76b0"/>
<text transform="translate(345.9 310.8) rotate(-21.4)" x="0" y="0" font-size="12.8" textLength="53" lengthAdjust="spacingAndGlyphs" stroke="#231f20" stroke-width="0.12">read out</text>
<path d="M335.56 368.1C335.23 369.09 334.35 371.95 333.58 374.04C332.81 376.13 330.83 378.99 330.94 380.64C331.05 382.29 332.81 384.16 334.24 383.94C335.67 383.72 337.76 380.8 339.52 379.32C341.28 377.85 343.37 375.54 344.8 375.1C346.23 374.66 347.77 375.32 348.1 376.68C348.43 378.05 347.33 381.08 346.78 383.28C346.23 385.48 344.8 388.45 344.8 389.88C344.8 391.31 345.68 392.19 346.78 391.86C347.88 391.53 349.64 389.33 351.4 387.9C353.16 386.47 355.8 383.83 357.34 383.28C358.88 382.73 360.2 383.39 360.64 384.6C361.08 385.81 360.31 388.45 359.98 390.54C359.65 392.63 358.55 395.72 358.66 397.15C358.77 398.58 359.54 399.35 360.64 399.13C361.74 398.91 363.5 397.1 365.26 395.83C367.02 394.55 369.6 391.91 371.2 391.47C372.81 391.03 374.57 391.91 374.9 393.18C375.23 394.46 373.8 397.15 373.18 399.13C372.57 401.11 371.2 403.75 371.2 405.07C371.2 406.39 372.08 407.16 373.18 407.05C374.28 406.94 376.38 405.15 377.81 404.41C379.24 403.66 381.11 402.87 381.77 402.56" fill="none" stroke="#fb1c24" stroke-width="1.6" stroke-linecap="round" stroke-linejoin="round" />
<path d="M386.6 400.2 L381.77 405.21 L382.18 402.26 L379.65 400.68 Z" fill="#fb1c24"/>
<text transform="translate(343.7 360.8) rotate(36.8)" x="0" y="0" font-size="12.8" textLength="51.5" lengthAdjust="spacingAndGlyphs" stroke="#231f20" stroke-width="0.12">read out</text>
<text x="452.3" y="239.3" font-size="14" text-anchor="middle" textLength="71" lengthAdjust="spacingAndGlyphs" stroke="#231f20" stroke-width="0.12">spectrum</text>
<text x="362.3" y="263.5" font-size="13.4" textLength="107" lengthAdjust="spacingAndGlyphs" stroke="#231f20" stroke-width="0.12">resonance peak</text>
<text x="444.4" y="302.2" font-size="13.4" textLength="94.5" lengthAdjust="spacingAndGlyphs" stroke="#231f20" stroke-width="0.12">spurious peak</text>
<path d="M395.3 320.77 L395.88 320.6 L396.46 320.41 L397.04 320.2 L397.63 319.95 L398.21 319.67 L398.79 319.34 L399.37 318.96 L399.95 318.51 L400.53 317.98 L401.11 317.37 L401.7 316.64 L402.28 315.78 L402.86 314.75 L403.44 313.53 L404.02 312.08 L404.6 310.34 L405.18 308.27 L405.77 305.83 L406.35 302.96 L406.93 299.63 L407.51 295.87 L408.09 291.72 L408.67 287.32 L409.25 282.87 L409.84 278.64 L410.42 274.89 L411 271.84 L411.58 269.58 L412.16 268.1 L412.74 267.28 L413.32 266.91 L413.91 266.81 L414.49 266.8 L415.07 266.82 L415.65 266.98 L416.23 267.46 L416.81 268.47 L417.39 270.17 L417.97 272.66 L418.56 275.94 L419.14 279.86 L419.72 284.19 L420.3 288.65 L420.88 292.99 L421.46 297.03 L422.04 300.67 L422.63 303.85 L423.21 306.59 L423.79 308.92 L424.37 310.89 L424.95 312.53 L425.53 313.92 L426.11 315.07 L426.7 316.05 L427.28 316.87 L427.86 317.56 L428.44 318.15 L429.02 318.65 L429.6 319.07 L430.18 319.44 L430.77 319.76 L431.35 320.03 L431.93 320.26 L432.51 320.47 L433.09 320.65 L433.67 320.81 L434.25 320.95 L434.84 321.07 L435.42 321.18 L436 321.28 L436.58 321.36 L437.16 321.44 L437.74 321.51 L438.32 321.57 L438.91 321.63 L439.49 321.68 L440.07 321.72 L440.65 321.77 L441.23 321.8 L441.81 321.84 L442.39 321.87 L442.98 321.9 L443.56 321.92 L444.14 321.95 L444.72 321.97 L445.3 321.99 L445.88 322.01 L446.46 322.02 L447.05 322.04 L447.63 322.05 L448.21 322.07 L448.79 322.08 L449.37 322.09 L449.95 322.1 L450.53 322.11 L451.12 322.12 L451.7 322.13 L452.28 322.14 L452.86 322.14 L453.44 322.15 L454.02 322.15 L454.6 322.16 L455.18 322.17 L455.77 322.17 L456.35 322.17 L456.93 322.18 L457.51 322.18 L458.09 322.19 L458.67 322.19 L459.25 322.19 L459.84 322.19 L460.42 322.2 L461 322.2 L461.58 322.2 L462.16 322.2 L462.74 322.2 L463.32 322.2 L463.91 322.2 L464.49 322.2 L465.07 322.2 L465.65 322.2 L466.23 322.2 L466.81 322.19 L467.39 322.19 L467.98 322.19 L468.56 322.18 L469.14 322.18 L469.72 322.17 L470.3 322.17 L470.88 322.16 L471.46 322.15 L472.05 322.14 L472.63 322.13 L473.21 322.12 L473.79 322.1 L474.37 322.09 L474.95 322.06 L475.53 322.04 L476.12 322.01 L476.7 321.98 L477.28 321.94 L477.86 321.89 L478.44 321.84 L479.02 321.77 L479.6 321.69 L480.19 321.59 L480.77 321.47 L481.35 321.32 L481.93 321.13 L482.51 320.9 L483.09 320.6 L483.67 320.23 L484.26 319.75 L484.84 319.14 L485.42 318.36 L486 317.37 L486.58 316.15 L487.16 314.69 L487.74 313.03 L488.33 311.31 L488.91 309.71 L489.49 308.42 L490.07 307.55 L490.65 307.09 L491.23 306.92 L491.81 306.89 L492.39 306.89 L492.98 306.96 L493.56 307.22 L494.14 307.81 L494.72 308.84 L495.3 310.26 L495.88 311.93 L496.46 313.65 L497.05 315.24 L497.63 316.62 L498.21 317.76 L498.79 318.67 L499.37 319.38 L499.95 319.95 L500.53 320.38 L501.12 320.73 L501.7 321 L502.28 321.22 L502.86 321.39 L503.44 321.53 L504.02 321.64 L504.6 321.73 L505.19 321.81 L505.77 321.88 L506.35 321.93 L506.93 321.97 L507.51 322.01 L508.09 322.05 L508.67 322.07 L509.26 322.1 L509.84 322.12 L510.42 322.14 L511 322.15" fill="none" stroke="#0b76b0" stroke-width="2" stroke-linejoin="round"/>
<path d="M395.3 403.33 L395.89 403.15 L396.48 402.96 L397.07 402.73 L397.66 402.47 L398.25 402.17 L398.84 401.83 L399.43 401.42 L400.02 400.95 L400.61 400.39 L401.2 399.73 L401.79 398.95 L402.38 398.03 L402.97 396.93 L403.56 395.61 L404.15 394.03 L404.74 392.15 L405.33 389.9 L405.92 387.25 L406.51 384.13 L407.1 380.53 L407.69 376.48 L408.28 372.06 L408.87 367.43 L409.46 362.84 L410.05 358.58 L410.64 354.92 L411.23 352.06 L411.82 350.04 L412.41 348.81 L413 348.18 L413.59 347.94 L414.18 347.9 L414.77 347.9 L415.36 347.98 L415.95 348.29 L416.54 349.05 L417.13 350.47 L417.72 352.69 L418.31 355.76 L418.9 359.59 L419.49 363.96 L420.08 368.59 L420.67 373.18 L421.26 377.53 L421.85 381.47 L422.44 384.95 L423.03 387.95 L423.62 390.5 L424.21 392.65 L424.8 394.45 L425.39 395.96 L425.98 397.22 L426.57 398.27 L427.16 399.16 L427.75 399.91 L428.34 400.54 L428.93 401.07 L429.52 401.53 L430.11 401.92 L430.7 402.25 L431.29 402.54 L431.88 402.79 L432.47 403.01 L433.06 403.2 L433.65 403.37 L434.24 403.51 L434.83 403.64 L435.42 403.75 L436.01 403.86 L436.6 403.95 L437.19 404.03 L437.78 404.1 L438.37 404.16 L438.96 404.22 L439.55 404.27 L440.14 404.32 L440.73 404.36 L441.32 404.4 L441.91 404.44 L442.5 404.47 L443.09 404.5 L443.68 404.52 L444.27 404.55 L444.86 404.57 L445.45 404.59 L446.04 404.61 L446.63 404.63 L447.22 404.64 L447.81 404.66 L448.4 404.67 L448.99 404.69 L449.58 404.7 L450.17 404.71 L450.76 404.72 L451.35 404.73 L451.94 404.74 L452.53 404.75 L453.12 404.75 L453.71 404.76 L454.29 404.77 L454.88 404.77 L455.47 404.78 L456.06 404.79 L456.65 404.79 L457.24 404.8 L457.83 404.8 L458.42 404.81 L459.01 404.81 L459.6 404.81 L460.19 404.82 L460.78 404.82 L461.37 404.82 L461.96 404.83 L462.55 404.83 L463.14 404.83 L463.73 404.84 L464.32 404.84 L464.91 404.84 L465.5 404.84 L466.09 404.85 L466.68 404.85 L467.27 404.85 L467.86 404.85 L468.45 404.85 L469.04 404.85 L469.63 404.86 L470.22 404.86 L470.81 404.86 L471.4 404.86 L471.99 404.86 L472.58 404.86 L473.17 404.86 L473.76 404.87 L474.35 404.87 L474.94 404.87 L475.53 404.87 L476.12 404.87 L476.71 404.87 L477.3 404.87 L477.89 404.87 L478.48 404.87 L479.07 404.87 L479.66 404.88 L480.25 404.88 L480.84 404.88 L481.43 404.88 L482.02 404.88 L482.61 404.88 L483.2 404.88 L483.79 404.88 L484.38 404.88 L484.97 404.88 L485.56 404.88 L486.15 404.88 L486.74 404.88 L487.33 404.88 L487.92 404.88 L488.51 404.88 L489.1 404.88 L489.69 404.88 L490.28 404.89 L490.87 404.89 L491.46 404.89 L492.05 404.89 L492.64 404.89 L493.23 404.89 L493.82 404.89 L494.41 404.89 L495 404.89 L495.59 404.89 L496.18 404.89 L496.77 404.89 L497.36 404.89 L497.95 404.89 L498.54 404.89 L499.13 404.89 L499.72 404.89 L500.31 404.89 L500.9 404.89 L501.49 404.89 L502.08 404.89 L502.67 404.89 L503.26 404.89 L503.85 404.89 L504.44 404.89 L505.03 404.89 L505.62 404.89 L506.21 404.89 L506.8 404.89 L507.39 404.89 L507.98 404.89 L508.57 404.89 L509.16 404.89 L509.75 404.89 L510.34 404.89 L510.93 404.89 L511.52 404.89 L512.11 404.89 L512.7 404.89" fill="none" stroke="#fb1c24" stroke-width="2" stroke-linejoin="round"/>
<line x1="381" y1="327.8" x2="524" y2="327.8" stroke="#231f20" stroke-width="1.7" />
<path d="M532.5 327.8 L519.5 332.6 L522.75 327.8 L519.5 323 Z" fill="#231f20"/>
<line x1="381" y1="415" x2="524" y2="415" stroke="#231f20" stroke-width="1.7" />
<path d="M532.5 415 L519.5 419.8 L522.75 415 L519.5 410.2 Z" fill="#231f20"/>
<line x1="414.4" y1="268" x2="414.4" y2="416.5" stroke="#231f20" stroke-width="1.3" stroke-dasharray="8.5 3.5"/>
<line x1="492" y1="308" x2="492" y2="416.5" stroke="#231f20" stroke-width="1.3" stroke-dasharray="8.5 3.5"/>
<text x="404.5" y="430.5" font-size="17" font-style="italic" fill="#231f20" textLength="20" lengthAdjust="spacingAndGlyphs">ω<tspan font-size="9" font-style="normal" dy="1">1</tspan></text>
<text x="482" y="430.5" font-size="17" font-style="italic" fill="#231f20" textLength="20" lengthAdjust="spacingAndGlyphs">ω<tspan font-size="9" font-style="normal" dy="1">2</tspan></text>
</g>
<g id="panel-c">
<rect x="623.8" y="33.9" width="127.6" height="80.6" fill="#440154"/>
<g shape-rendering="crispEdges"><path fill="#48186a" d="M736.39 38.64H744.09V43.58H736.39ZM736.39 43.38H744.09V48.32H736.39ZM623.8 48.12H631.51V53.06H623.8ZM623.8 57.61H631.51V62.55H623.8ZM623.8 76.57H631.51V81.51H623.8ZM623.8 81.31H631.51V86.25H623.8ZM623.8 86.05H631.51V90.99H623.8ZM736.39 90.79H744.09V95.74H736.39ZM736.39 105.02H744.09V109.96H736.39Z"/><path fill="#472d7b" d="M661.33 33.9H669.04V38.84H661.33ZM728.88 38.64H736.59V43.58H728.88ZM728.88 43.38H736.59V48.32H728.88ZM743.89 43.38H751.6V48.32H743.89ZM743.89 52.86H751.6V57.81H743.89ZM623.8 90.79H631.51V95.74H623.8ZM728.88 100.28H736.59V105.22H728.88ZM743.89 100.28H751.6V105.22H743.89ZM683.85 109.76H691.55V114.7H683.85ZM706.36 109.76H714.07V114.7H706.36Z"/><path fill="#424086" d="M668.84 33.9H676.54V38.84H668.84ZM691.35 33.9H714.07V38.84H691.35ZM721.38 33.9H729.08V38.84H721.38ZM653.82 38.64H661.53V43.58H653.82ZM638.81 43.38H646.52V48.32H638.81ZM653.82 43.38H661.53V48.32H653.82ZM631.31 52.86H639.01V57.81H631.31ZM623.8 67.09H639.01V72.03H623.8ZM631.31 76.57H639.01V81.51H631.31ZM743.89 81.31H751.6V86.25H743.89ZM736.39 86.05H744.09V90.99H736.39ZM638.81 95.54H646.52V100.48H638.81ZM661.33 95.54H669.04V100.48H661.33ZM736.39 95.54H744.09V100.48H736.39ZM638.81 100.28H646.52V105.22H638.81ZM721.38 100.28H729.08V105.22H721.38ZM713.87 105.02H736.59V109.96H713.87Z"/><path fill="#3b528b" d="M713.87 33.9H721.58V38.84H713.87ZM646.32 38.64H654.02V43.58H646.32ZM713.87 38.64H729.08V43.58H713.87ZM631.31 48.12H639.01V53.06H631.31ZM736.39 48.12H744.09V53.06H736.39ZM631.31 57.61H639.01V62.55H631.31ZM631.31 62.35H639.01V67.29H631.31ZM736.39 81.31H744.09V86.25H736.39ZM638.81 86.05H646.52V90.99H638.81ZM743.89 86.05H751.6V90.99H743.89ZM646.32 90.79H654.02V95.74H646.32ZM743.89 90.79H751.6V95.74H743.89ZM728.88 95.54H736.59V100.48H728.88ZM653.82 100.28H661.53V105.22H653.82ZM668.84 100.28H676.54V105.22H668.84ZM736.39 100.28H744.09V105.22H736.39ZM653.82 105.02H669.04V109.96H653.82ZM683.85 105.02H699.06V109.96H683.85Z"/><path fill="#33638d" d="M676.34 33.9H684.05V38.84H676.34ZM623.8 71.83H631.51V76.77H623.8ZM653.82 90.79H661.53V95.74H653.82ZM646.32 95.54H654.02V100.48H646.32ZM721.38 95.54H729.08V100.48H721.38ZM646.32 100.28H654.02V105.22H646.32ZM661.33 100.28H669.04V105.22H661.33ZM676.34 100.28H684.05V105.22H676.34ZM698.86 100.28H706.56V105.22H698.86ZM698.86 105.02H706.56V109.96H698.86Z"/><path fill="#2c728e" d="M683.85 33.9H691.55V38.84H683.85ZM698.86 38.64H714.07V43.58H698.86ZM743.89 48.12H751.6V53.06H743.89ZM721.38 52.86H729.08V57.81H721.38ZM631.31 71.83H639.01V76.77H631.31ZM638.81 81.31H646.52V86.25H638.81ZM646.32 86.05H654.02V90.99H646.32ZM683.85 100.28H691.55V105.22H683.85ZM668.84 105.02H676.54V109.96H668.84ZM706.36 105.02H714.07V109.96H706.36Z"/><path fill="#26828e" d="M661.33 38.64H669.04V43.58H661.33ZM646.32 43.38H654.02V48.32H646.32ZM676.34 43.38H684.05V48.32H676.34ZM706.36 43.38H714.07V48.32H706.36ZM721.38 43.38H729.08V48.32H721.38ZM646.32 48.12H654.02V53.06H646.32ZM638.81 52.86H646.52V57.81H638.81ZM646.32 57.61H654.02V62.55H646.32ZM638.81 71.83H646.52V76.77H638.81ZM736.39 71.83H744.09V76.77H736.39ZM631.31 81.31H639.01V86.25H631.31ZM631.31 86.05H639.01V90.99H631.31ZM661.33 86.05H669.04V90.99H661.33ZM661.33 90.79H669.04V95.74H661.33ZM698.86 90.79H706.56V95.74H698.86ZM728.88 90.79H736.59V95.74H728.88ZM698.86 95.54H706.56V100.48H698.86ZM706.36 100.28H714.07V105.22H706.36Z"/><path fill="#21918c" d="M676.34 38.64H691.55V43.58H676.34ZM668.84 43.38H676.54V48.32H668.84ZM713.87 43.38H721.58V48.32H713.87ZM653.82 48.12H661.53V53.06H653.82ZM668.84 48.12H676.54V53.06H668.84ZM691.35 48.12H699.06V53.06H691.35ZM706.36 52.86H714.07V57.81H706.36ZM736.39 62.35H751.6V67.29H736.39ZM728.88 67.09H744.09V72.03H728.88ZM653.82 71.83H661.53V76.77H653.82ZM743.89 76.57H751.6V81.51H743.89ZM646.32 81.31H654.02V86.25H646.32ZM668.84 86.05H676.54V90.99H668.84ZM691.35 100.28H699.06V105.22H691.35Z"/><path fill="#1fa088" d="M691.35 38.64H699.06V43.58H691.35ZM683.85 43.38H691.55V48.32H683.85ZM706.36 48.12H714.07V53.06H706.36ZM646.32 52.86H654.02V57.81H646.32ZM638.81 57.61H646.52V62.55H638.81ZM713.87 57.61H721.58V62.55H713.87ZM638.81 62.35H646.52V67.29H638.81ZM638.81 67.09H646.52V72.03H638.81ZM638.81 76.57H646.52V81.51H638.81ZM736.39 76.57H744.09V81.51H736.39ZM653.82 81.31H661.53V86.25H653.82ZM728.88 81.31H736.59V86.25H728.88ZM653.82 86.05H661.53V90.99H653.82ZM713.87 90.79H729.08V95.74H713.87ZM653.82 95.54H661.53V100.48H653.82ZM668.84 95.54H676.54V100.48H668.84ZM683.85 95.54H691.55V100.48H683.85ZM713.87 95.54H721.58V100.48H713.87Z"/><path fill="#28ae80" d="M668.84 38.64H676.54V43.58H668.84ZM661.33 43.38H669.04V48.32H661.33ZM691.35 43.38H699.06V48.32H691.35ZM713.87 48.12H721.58V53.06H713.87ZM728.88 52.86H744.09V57.81H728.88ZM653.82 57.61H661.53V62.55H653.82ZM728.88 57.61H744.09V62.55H728.88ZM646.32 62.35H654.02V67.29H646.32ZM691.35 62.35H706.56V67.29H691.35ZM646.32 67.09H654.02V72.03H646.32ZM661.33 67.09H669.04V72.03H661.33ZM743.89 67.09H751.6V72.03H743.89ZM646.32 71.83H654.02V76.77H646.32ZM661.33 76.57H669.04V81.51H661.33ZM698.86 81.31H706.56V86.25H698.86ZM706.36 90.79H714.07V95.74H706.36ZM706.36 95.54H714.07V100.48H706.36Z"/><path fill="#3fbc73" d="M676.34 48.12H684.05V53.06H676.34ZM653.82 52.86H669.04V57.81H653.82ZM691.35 52.86H706.56V57.81H691.35ZM661.33 57.61H669.04V62.55H661.33ZM683.85 57.61H691.55V62.55H683.85ZM653.82 62.35H661.53V67.29H653.82ZM728.88 62.35H736.59V67.29H728.88ZM646.32 76.57H654.02V81.51H646.32ZM668.84 76.57H676.54V81.51H668.84ZM683.85 81.31H691.55V86.25H683.85ZM721.38 81.31H729.08V86.25H721.38ZM676.34 86.05H684.05V90.99H676.34ZM706.36 86.05H714.07V90.99H706.36ZM668.84 90.79H676.54V95.74H668.84ZM691.35 90.79H699.06V95.74H691.35ZM676.34 95.54H684.05V100.48H676.34ZM691.35 95.54H699.06V100.48H691.35Z"/><path fill="#5ec962" d="M698.86 43.38H706.56V48.32H698.86ZM661.33 48.12H669.04V53.06H661.33ZM683.85 48.12H691.55V53.06H683.85ZM713.87 52.86H721.58V57.81H713.87ZM668.84 57.61H676.54V62.55H668.84ZM713.87 62.35H721.58V67.29H713.87ZM683.85 71.83H691.55V76.77H683.85ZM713.87 71.83H721.58V76.77H713.87ZM728.88 71.83H736.59V76.77H728.88ZM653.82 76.57H661.53V81.51H653.82ZM698.86 76.57H706.56V81.51H698.86ZM713.87 81.31H721.58V86.25H713.87ZM683.85 86.05H699.06V90.99H683.85ZM713.87 86.05H721.58V90.99H713.87ZM728.88 86.05H736.59V90.99H728.88Z"/><path fill="#84d44b" d="M721.38 48.12H729.08V53.06H721.38ZM721.38 57.61H729.08V62.55H721.38ZM721.38 62.35H729.08V67.29H721.38ZM676.34 67.09H684.05V72.03H676.34ZM706.36 67.09H721.58V72.03H706.36ZM691.35 71.83H699.06V76.77H691.35ZM721.38 71.83H729.08V76.77H721.38ZM683.85 76.57H691.55V81.51H683.85ZM661.33 81.31H676.54V86.25H661.33ZM721.38 86.05H729.08V90.99H721.38ZM676.34 90.79H684.05V95.74H676.34Z"/><path fill="#addc30" d="M698.86 48.12H706.56V53.06H698.86ZM668.84 52.86H691.55V57.81H668.84ZM691.35 57.61H706.56V62.55H691.35ZM676.34 62.35H684.05V67.29H676.34ZM668.84 67.09H676.54V72.03H668.84ZM683.85 67.09H691.55V72.03H683.85ZM721.38 67.09H729.08V72.03H721.38ZM668.84 71.83H684.05V76.77H668.84ZM706.36 71.83H714.07V76.77H706.36ZM676.34 76.57H684.05V81.51H676.34ZM691.35 76.57H699.06V81.51H691.35ZM728.88 76.57H736.59V81.51H728.88ZM676.34 81.31H684.05V86.25H676.34ZM691.35 81.31H699.06V86.25H691.35ZM683.85 90.79H691.55V95.74H683.85Z"/><path fill="#d8e219" d="M706.36 57.61H714.07V62.55H706.36ZM706.36 62.35H714.07V67.29H706.36ZM653.82 67.09H661.53V72.03H653.82ZM698.86 67.09H706.56V72.03H698.86ZM661.33 71.83H669.04V76.77H661.33ZM698.86 71.83H706.56V76.77H698.86ZM706.36 76.57H714.07V81.51H706.36ZM721.38 76.57H729.08V81.51H721.38Z"/><path fill="#fde725" d="M676.34 57.61H684.05V62.55H676.34ZM661.33 62.35H676.54V67.29H661.33ZM683.85 62.35H691.55V67.29H683.85ZM691.35 67.09H699.06V72.03H691.35ZM713.87 76.57H721.58V81.51H713.87ZM706.36 81.31H714.07V86.25H706.36ZM698.86 86.05H706.56V90.99H698.86Z"/></g>
<rect x="623.8" y="125.7" width="127.6" height="80.6" fill="#440154"/>
<g shape-rendering="crispEdges"><path fill="#48186a" d="M686.93 143.16H688.42V144.66H686.93ZM686.93 144.51H688.42V146H686.93ZM692.3 144.51H693.79V146H692.3ZM694.99 144.51H696.48V146H694.99ZM680.21 145.85H681.71V147.34H680.21ZM682.9 145.85H687.08V147.34H682.9ZM690.96 145.85H692.45V147.34H690.96ZM696.33 145.85H699.17V147.34H696.33ZM668.12 147.19H669.62V148.69H668.12ZM670.81 147.19H672.3V148.69H670.81ZM682.9 147.19H685.74V148.69H682.9ZM694.99 147.19H699.17V148.69H694.99ZM666.78 148.54H669.62V150.03H666.78ZM670.81 148.54H674.99V150.03H670.81ZM662.75 149.88H664.24V151.37H662.75ZM703.05 149.88H704.54V151.37H703.05ZM705.73 149.88H708.57V151.37H705.73ZM705.73 151.22H708.57V152.72H705.73ZM709.76 151.22H711.26V152.72H709.76ZM712.45 151.22H713.94V152.72H712.45ZM662.75 152.57H664.24V154.06H662.75ZM712.45 152.57H713.94V154.06H712.45ZM660.07 153.91H661.56V155.4H660.07ZM715.13 153.91H716.63V155.4H715.13ZM711.11 155.25H712.6V156.75H711.11ZM715.13 155.25H716.63V156.75H715.13ZM713.79 156.6H716.63V158.09H713.79ZM656.04 157.94H657.53V159.43H656.04ZM658.72 157.94H660.22V159.43H658.72ZM717.82 159.28H719.31V160.78H717.82ZM720.51 159.28H722V160.78H720.51ZM716.48 160.63H717.97V162.12H716.48ZM654.69 161.97H656.19V163.46H654.69ZM717.82 161.97H719.31V163.46H717.82ZM719.16 163.31H720.66V164.81H719.16ZM653.35 164.66H657.53V166.15H653.35ZM719.16 166H720.66V167.49H719.16ZM653.35 167.34H656.19V168.84H653.35ZM652.01 168.69H653.5V170.18H652.01ZM656.04 170.03H657.53V171.52H656.04ZM653.35 171.37H654.84V172.87H653.35ZM656.04 172.72H658.87V174.21H656.04ZM658.72 175.4H660.22V176.9H658.72ZM716.48 175.4H717.97V176.9H716.48ZM715.13 176.75H716.63V178.24H715.13ZM660.07 178.09H661.56V179.58H660.07ZM664.09 178.09H665.59V179.58H664.09ZM666.78 178.09H668.27V179.58H666.78ZM715.13 178.09H716.63V179.58H715.13ZM713.79 179.43H715.28V180.93H713.79ZM660.07 180.78H662.9V182.27H660.07ZM712.45 180.78H713.94V182.27H712.45ZM715.13 180.78H716.63V182.27H715.13ZM668.12 182.12H669.62V183.61H668.12ZM664.09 183.46H665.59V184.96H664.09ZM701.7 183.46H703.2V184.96H701.7ZM705.73 183.46H708.57V184.96H705.73ZM711.11 183.46H712.6V184.96H711.11ZM704.39 184.81H705.88V186.3H704.39ZM669.47 186.15H670.96V187.64H669.47ZM673.5 186.15H674.99V187.64H673.5ZM677.53 186.15H679.02V187.64H677.53ZM684.24 186.15H685.74V187.64H684.24ZM689.61 186.15H693.79V187.64H689.61ZM696.33 186.15H697.82V187.64H696.33ZM700.36 186.15H701.85V187.64H700.36ZM703.05 186.15H704.54V187.64H703.05ZM672.15 187.49H673.65V188.99H672.15ZM693.64 187.49H695.14V188.99H693.64ZM696.33 187.49H697.82V188.99H696.33ZM680.21 188.84H681.71V190.33H680.21ZM689.61 190.18H691.11V191.67H689.61ZM688.27 191.52H689.76V193.02H688.27Z"/><path fill="#472d7b" d="M689.61 143.16H691.11V144.66H689.61ZM685.59 144.51H687.08V146H685.59ZM690.96 144.51H692.45V146H690.96ZM681.56 145.85H683.05V147.34H681.56ZM674.84 147.19H676.33V148.69H674.84ZM686.93 147.19H689.76V148.69H686.93ZM692.3 147.19H693.79V148.69H692.3ZM701.7 147.19H704.54V148.69H701.7ZM669.47 148.54H670.96V150.03H669.47ZM696.33 148.54H697.82V150.03H696.33ZM701.7 148.54H703.2V150.03H701.7ZM708.42 148.54H709.91V150.03H708.42ZM711.11 148.54H712.6V150.03H711.11ZM665.44 149.88H666.93V151.37H665.44ZM668.12 149.88H669.62V151.37H668.12ZM674.84 149.88H676.33V151.37H674.84ZM665.44 152.57H666.93V154.06H665.44ZM711.11 152.57H712.6V154.06H711.11ZM716.48 152.57H717.97V154.06H716.48ZM658.72 153.91H660.22V155.4H658.72ZM713.79 153.91H715.28V155.4H713.79ZM658.72 155.25H662.9V156.75H658.72ZM707.08 155.25H708.57V156.75H707.08ZM712.45 155.25H713.94V156.75H712.45ZM717.82 155.25H719.31V156.75H717.82ZM657.38 156.6H658.87V158.09H657.38ZM661.41 156.6H662.9V158.09H661.41ZM709.76 156.6H711.26V158.09H709.76ZM716.48 156.6H717.97V158.09H716.48ZM713.79 157.94H716.63V159.43H713.79ZM657.38 160.63H658.87V162.12H657.38ZM719.16 160.63H720.66V162.12H719.16ZM660.07 166H661.56V167.49H660.07ZM712.45 166H713.94V167.49H712.45ZM653.35 168.69H656.19V170.18H653.35ZM657.38 168.69H658.87V170.18H657.38ZM709.76 168.69H711.26V170.18H709.76ZM719.16 168.69H720.66V170.18H719.16ZM656.04 171.37H657.53V172.87H656.04ZM716.48 171.37H717.97V172.87H716.48ZM719.16 171.37H720.66V172.87H719.16ZM661.41 172.72H662.9V174.21H661.41ZM656.04 174.06H657.53V175.55H656.04ZM661.41 174.06H662.9V175.55H661.41ZM661.41 175.4H662.9V176.9H661.41ZM711.11 175.4H712.6V176.9H711.11ZM656.04 176.75H657.53V178.24H656.04ZM660.07 176.75H661.56V178.24H660.07ZM713.79 176.75H715.28V178.24H713.79ZM662.75 178.09H664.24V179.58H662.75ZM711.11 178.09H712.6V179.58H711.11ZM660.07 179.43H661.56V180.93H660.07ZM708.42 179.43H709.91V180.93H708.42ZM664.09 180.78H665.59V182.27H664.09ZM666.78 180.78H668.27V182.27H666.78ZM670.81 180.78H672.3V182.27H670.81ZM713.79 180.78H715.28V182.27H713.79ZM664.09 182.12H665.59V183.61H664.09ZM669.47 182.12H670.96V183.61H669.47ZM668.12 183.46H670.96V184.96H668.12ZM678.87 183.46H680.36V184.96H678.87ZM703.05 183.46H705.88V184.96H703.05ZM708.42 183.46H709.91V184.96H708.42ZM673.5 184.81H674.99V186.3H673.5ZM677.53 184.81H679.02V186.3H677.53ZM690.96 184.81H692.45V186.3H690.96ZM697.67 184.81H700.51V186.3H697.67ZM701.7 184.81H703.2V186.3H701.7ZM674.84 186.15H676.33V187.64H674.84ZM680.21 186.15H681.71V187.64H680.21ZM682.9 186.15H684.39V187.64H682.9ZM686.93 186.15H688.42V187.64H686.93ZM699.02 186.15H700.51V187.64H699.02ZM676.18 187.49H677.68V188.99H676.18ZM680.21 187.49H684.39V188.99H680.21ZM682.9 188.84H684.39V190.33H682.9Z"/><path fill="#424086" d="M682.9 144.51H684.39V146H682.9ZM678.87 145.85H680.36V147.34H678.87ZM686.93 145.85H688.42V147.34H686.93ZM689.61 145.85H691.11V147.34H689.61ZM669.47 147.19H670.96V148.69H669.47ZM673.5 147.19H674.99V148.69H673.5ZM676.18 147.19H677.68V148.69H676.18ZM680.21 147.19H683.05V148.69H680.21ZM689.61 147.19H691.11V148.69H689.61ZM693.64 147.19H695.14V148.69H693.64ZM699.02 147.19H701.85V148.69H699.02ZM674.84 148.54H676.33V150.03H674.84ZM686.93 148.54H688.42V150.03H686.93ZM689.61 148.54H691.11V150.03H689.61ZM703.05 148.54H705.88V150.03H703.05ZM669.47 149.88H670.96V151.37H669.47ZM680.21 149.88H681.71V151.37H680.21ZM661.41 151.22H662.9V152.72H661.41ZM665.44 151.22H668.27V152.72H665.44ZM673.5 151.22H676.33V152.72H673.5ZM664.09 152.57H665.59V154.06H664.09ZM670.81 152.57H672.3V154.06H670.81ZM664.09 153.91H666.93V155.4H664.09ZM704.39 153.91H705.88V155.4H704.39ZM708.42 153.91H709.91V155.4H708.42ZM662.75 155.25H664.24V156.75H662.75ZM669.47 155.25H670.96V156.75H669.47ZM713.79 155.25H715.28V156.75H713.79ZM658.72 156.6H661.56V158.09H658.72ZM712.45 156.6H713.94V158.09H712.45ZM660.07 157.94H661.56V159.43H660.07ZM664.09 157.94H665.59V159.43H664.09ZM711.11 157.94H712.6V159.43H711.11ZM717.82 157.94H719.31V159.43H717.82ZM657.38 159.28H658.87V160.78H657.38ZM660.07 159.28H662.9V160.78H660.07ZM715.13 159.28H716.63V160.78H715.13ZM653.35 160.63H654.84V162.12H653.35ZM656.04 160.63H657.53V162.12H656.04ZM657.38 161.97H658.87V163.46H657.38ZM716.48 161.97H717.97V163.46H716.48ZM658.72 163.31H660.22V164.81H658.72ZM712.45 163.31H713.94V164.81H712.45ZM716.48 163.31H719.31V164.81H716.48ZM657.38 164.66H658.87V166.15H657.38ZM717.82 164.66H719.31V166.15H717.82ZM656.04 167.34H657.53V168.84H656.04ZM713.79 168.69H715.28V170.18H713.79ZM717.82 168.69H719.31V170.18H717.82ZM658.72 170.03H660.22V171.52H658.72ZM715.13 171.37H716.63V172.87H715.13ZM713.79 172.72H715.28V174.21H713.79ZM658.72 174.06H660.22V175.55H658.72ZM665.44 174.06H666.93V175.55H665.44ZM715.13 174.06H716.63V175.55H715.13ZM657.38 175.4H658.87V176.9H657.38ZM660.07 175.4H661.56V176.9H660.07ZM713.79 175.4H716.63V176.9H713.79ZM661.41 176.75H662.9V178.24H661.41ZM712.45 176.75H713.94V178.24H712.45ZM708.42 178.09H709.91V179.58H708.42ZM713.79 178.09H715.28V179.58H713.79ZM662.75 179.43H664.24V180.93H662.75ZM666.78 179.43H668.27V180.93H666.78ZM711.11 179.43H713.94V180.93H711.11ZM668.12 180.78H669.62V182.27H668.12ZM672.15 182.12H673.65V183.61H672.15ZM708.42 182.12H709.91V183.61H708.42ZM674.84 183.46H676.33V184.96H674.84ZM680.21 183.46H681.71V184.96H680.21ZM680.21 184.81H681.71V186.3H680.21ZM684.24 184.81H685.74V186.3H684.24ZM694.99 184.81H696.48V186.3H694.99ZM703.05 184.81H704.54V186.3H703.05ZM676.18 186.15H677.68V187.64H676.18ZM694.99 186.15H696.48V187.64H694.99ZM678.87 187.49H680.36V188.99H678.87ZM689.61 187.49H691.11V188.99H689.61Z"/><path fill="#3b528b" d="M684.24 144.51H685.74V146H684.24ZM676.18 145.85H677.68V147.34H676.18ZM677.53 147.19H679.02V148.69H677.53ZM676.18 148.54H677.68V150.03H676.18ZM678.87 148.54H680.36V150.03H678.87ZM684.24 148.54H685.74V150.03H684.24ZM699.02 148.54H700.51V150.03H699.02ZM673.5 149.88H674.99V151.37H673.5ZM678.87 149.88H680.36V151.37H678.87ZM681.56 149.88H683.05V151.37H681.56ZM697.67 149.88H699.17V151.37H697.67ZM701.7 149.88H703.2V151.37H701.7ZM668.12 151.22H669.62V152.72H668.12ZM672.15 151.22H673.65V152.72H672.15ZM699.02 151.22H700.51V152.72H699.02ZM704.39 151.22H705.88V152.72H704.39ZM703.05 152.57H704.54V154.06H703.05ZM662.75 153.91H664.24V155.4H662.75ZM666.78 153.91H668.27V155.4H666.78ZM711.11 153.91H712.6V155.4H711.11ZM708.42 155.25H709.91V156.75H708.42ZM712.45 157.94H713.94V159.43H712.45ZM658.72 159.28H660.22V160.78H658.72ZM664.09 159.28H665.59V160.78H664.09ZM716.48 159.28H717.97V160.78H716.48ZM713.79 160.63H716.63V162.12H713.79ZM713.79 161.97H715.28V163.46H713.79ZM657.38 163.31H658.87V164.81H657.38ZM716.48 164.66H717.97V166.15H716.48ZM716.48 166H719.31V167.49H716.48ZM715.13 167.34H719.31V168.84H715.13ZM660.07 170.03H661.56V171.52H660.07ZM715.13 170.03H717.97V171.52H715.13ZM657.38 171.37H662.9V172.87H657.38ZM711.11 171.37H712.6V172.87H711.11ZM658.72 172.72H660.22V174.21H658.72ZM716.48 172.72H717.97V174.21H716.48ZM664.09 174.06H665.59V175.55H664.09ZM716.48 174.06H717.97V175.55H716.48ZM662.75 175.4H664.24V176.9H662.75ZM658.72 176.75H660.22V178.24H658.72ZM711.11 176.75H712.6V178.24H711.11ZM705.73 178.09H707.23V179.58H705.73ZM709.76 178.09H711.26V179.58H709.76ZM664.09 179.43H665.59V180.93H664.09ZM668.12 179.43H669.62V180.93H668.12ZM704.39 179.43H705.88V180.93H704.39ZM707.08 179.43H708.57V180.93H707.08ZM665.44 180.78H666.93V182.27H665.44ZM696.33 180.78H697.82V182.27H696.33ZM703.05 180.78H704.54V182.27H703.05ZM707.08 180.78H709.91V182.27H707.08ZM666.78 182.12H668.27V183.61H666.78ZM700.36 182.12H701.85V183.61H700.36ZM703.05 182.12H704.54V183.61H703.05ZM707.08 182.12H708.57V183.61H707.08ZM709.76 182.12H711.26V183.61H709.76ZM672.15 183.46H673.65V184.96H672.15ZM694.99 183.46H696.48V184.96H694.99ZM697.67 183.46H699.17V184.96H697.67ZM669.47 184.81H670.96V186.3H669.47ZM672.15 184.81H673.65V186.3H672.15ZM674.84 184.81H677.68V186.3H674.84ZM682.9 184.81H684.39V186.3H682.9ZM685.59 184.81H688.42V186.3H685.59ZM693.64 186.15H695.14V187.64H693.64ZM697.67 186.15H699.17V187.64H697.67ZM690.96 187.49H692.45V188.99H690.96Z"/><path fill="#33638d" d="M690.96 147.19H692.45V148.69H690.96ZM685.59 148.54H687.08V150.03H685.59ZM688.27 148.54H689.76V150.03H688.27ZM692.3 148.54H693.79V150.03H692.3ZM700.36 148.54H701.85V150.03H700.36ZM677.53 149.88H679.02V151.37H677.53ZM699.02 149.88H701.85V151.37H699.02ZM669.47 151.22H672.3V152.72H669.47ZM689.61 151.22H691.11V152.72H689.61ZM693.64 151.22H695.14V152.72H693.64ZM700.36 151.22H703.2V152.72H700.36ZM708.42 151.22H709.91V152.72H708.42ZM666.78 152.57H668.27V154.06H666.78ZM669.47 152.57H670.96V154.06H669.47ZM700.36 152.57H701.85V154.06H700.36ZM707.08 152.57H709.91V154.06H707.08ZM709.76 153.91H711.26V155.4H709.76ZM705.73 155.25H707.23V156.75H705.73ZM709.76 155.25H711.26V156.75H709.76ZM662.75 156.6H664.24V158.09H662.75ZM707.08 156.6H708.57V158.09H707.08ZM662.75 157.94H664.24V159.43H662.75ZM709.76 157.94H711.26V159.43H709.76ZM665.44 159.28H666.93V160.78H665.44ZM660.07 160.63H661.56V162.12H660.07ZM660.07 161.97H661.56V163.46H660.07ZM715.13 161.97H716.63V163.46H715.13ZM661.41 163.31H662.9V164.81H661.41ZM658.72 164.66H660.22V166.15H658.72ZM712.45 164.66H713.94V166.15H712.45ZM715.13 164.66H716.63V166.15H715.13ZM719.16 164.66H720.66V166.15H719.16ZM656.04 166H658.87V167.49H656.04ZM661.41 166H662.9V167.49H661.41ZM711.11 166H712.6V167.49H711.11ZM713.79 166H716.63V167.49H713.79ZM658.72 167.34H660.22V168.84H658.72ZM719.16 167.34H720.66V168.84H719.16ZM711.11 168.69H712.6V170.18H711.11ZM661.41 170.03H662.9V171.52H661.41ZM709.76 170.03H711.26V171.52H709.76ZM713.79 170.03H715.28V171.52H713.79ZM713.79 171.37H715.28V172.87H713.79ZM660.07 172.72H661.56V174.21H660.07ZM711.11 172.72H712.6V174.21H711.11ZM660.07 174.06H661.56V175.55H660.07ZM662.75 174.06H664.24V175.55H662.75ZM709.76 174.06H711.26V175.55H709.76ZM713.79 174.06H715.28V175.55H713.79ZM664.09 175.4H665.59V176.9H664.09ZM712.45 175.4H713.94V176.9H712.45ZM664.09 176.75H665.59V178.24H664.09ZM708.42 176.75H709.91V178.24H708.42ZM661.41 178.09H662.9V179.58H661.41ZM701.7 179.43H703.2V180.93H701.7ZM705.73 179.43H707.23V180.93H705.73ZM700.36 180.78H701.85V182.27H700.36ZM670.81 182.12H672.3V183.61H670.81ZM673.5 182.12H676.33V183.61H673.5ZM677.53 182.12H679.02V183.61H677.53ZM689.61 182.12H691.11V183.61H689.61ZM692.3 182.12H693.79V183.61H692.3ZM697.67 182.12H699.17V183.61H697.67ZM705.73 182.12H707.23V183.61H705.73ZM673.5 183.46H674.99V184.96H673.5ZM676.18 183.46H679.02V184.96H676.18ZM681.56 183.46H683.05V184.96H681.56ZM696.33 183.46H697.82V184.96H696.33ZM699.02 183.46H700.51V184.96H699.02ZM678.87 184.81H680.36V186.3H678.87ZM681.56 184.81H683.05V186.3H681.56ZM689.61 184.81H691.11V186.3H689.61ZM692.3 184.81H693.79V186.3H692.3Z"/><path fill="#2c728e" d="M677.53 148.54H679.02V150.03H677.53ZM681.56 148.54H684.39V150.03H681.56ZM693.64 148.54H696.48V150.03H693.64ZM697.67 148.54H699.17V150.03H697.67ZM670.81 149.88H672.3V151.37H670.81ZM689.61 149.88H691.11V151.37H689.61ZM696.33 149.88H697.82V151.37H696.33ZM676.18 151.22H681.71V152.72H676.18ZM692.3 151.22H693.79V152.72H692.3ZM696.33 151.22H699.17V152.72H696.33ZM703.05 151.22H704.54V152.72H703.05ZM668.12 152.57H669.62V154.06H668.12ZM672.15 152.57H674.99V154.06H672.15ZM705.73 152.57H707.23V154.06H705.73ZM670.81 153.91H672.3V155.4H670.81ZM674.84 153.91H676.33V155.4H674.84ZM697.67 153.91H699.17V155.4H697.67ZM700.36 153.91H701.85V155.4H700.36ZM664.09 155.25H665.59V156.75H664.09ZM666.78 155.25H668.27V156.75H666.78ZM704.39 155.25H705.88V156.75H704.39ZM664.09 156.6H665.59V158.09H664.09ZM661.41 157.94H662.9V159.43H661.41ZM665.44 157.94H666.93V159.43H665.44ZM669.47 157.94H670.96V159.43H669.47ZM662.75 159.28H664.24V160.78H662.75ZM711.11 159.28H712.6V160.78H711.11ZM662.75 160.63H664.24V162.12H662.75ZM708.42 160.63H709.91V162.12H708.42ZM712.45 160.63H713.94V162.12H712.45ZM661.41 161.97H662.9V163.46H661.41ZM665.44 161.97H666.93V163.46H665.44ZM709.76 161.97H711.26V163.46H709.76ZM656.04 163.31H657.53V164.81H656.04ZM711.11 163.31H712.6V164.81H711.11ZM713.79 163.31H715.28V164.81H713.79ZM660.07 164.66H661.56V166.15H660.07ZM713.79 164.66H715.28V166.15H713.79ZM664.09 166H665.59V167.49H664.09ZM662.75 167.34H664.24V168.84H662.75ZM712.45 167.34H713.94V168.84H712.45ZM661.41 168.69H662.9V170.18H661.41ZM715.13 168.69H717.97V170.18H715.13ZM662.75 171.37H666.93V172.87H662.75ZM662.75 172.72H664.24V174.21H662.75ZM715.13 172.72H716.63V174.21H715.13ZM668.12 174.06H669.62V175.55H668.12ZM711.11 174.06H712.6V175.55H711.11ZM709.76 175.4H711.26V176.9H709.76ZM665.44 176.75H669.62V178.24H665.44ZM703.05 176.75H705.88V178.24H703.05ZM669.47 180.78H670.96V182.27H669.47ZM672.15 180.78H674.99V182.27H672.15ZM689.61 180.78H691.11V182.27H689.61ZM694.99 180.78H696.48V182.27H694.99ZM697.67 180.78H700.51V182.27H697.67ZM705.73 180.78H707.23V182.27H705.73ZM676.18 182.12H677.68V183.61H676.18ZM696.33 182.12H697.82V183.61H696.33ZM682.9 183.46H684.39V184.96H682.9ZM685.59 183.46H687.08V184.96H685.59ZM688.27 183.46H689.76V184.96H688.27ZM690.96 183.46H695.14V184.96H690.96ZM670.81 184.81H672.3V186.3H670.81ZM693.64 184.81H695.14V186.3H693.64ZM678.87 186.15H680.36V187.64H678.87ZM685.59 186.15H687.08V187.64H685.59Z"/><path fill="#26828e" d="M680.21 148.54H681.71V150.03H680.21ZM676.18 149.88H677.68V151.37H676.18ZM682.9 149.88H684.39V151.37H682.9ZM686.93 149.88H689.76V151.37H686.93ZM694.99 151.22H696.48V152.72H694.99ZM690.96 152.57H692.45V154.06H690.96ZM694.99 152.57H696.48V154.06H694.99ZM697.67 152.57H699.17V154.06H697.67ZM701.7 152.57H703.2V154.06H701.7ZM704.39 152.57H705.88V154.06H704.39ZM673.5 153.91H674.99V155.4H673.5ZM678.87 153.91H680.36V155.4H678.87ZM696.33 153.91H697.82V155.4H696.33ZM707.08 153.91H708.57V155.4H707.08ZM665.44 155.25H666.93V156.75H665.44ZM670.81 155.25H672.3V156.75H670.81ZM703.05 155.25H704.54V156.75H703.05ZM666.78 156.6H668.27V158.09H666.78ZM708.42 156.6H709.91V158.09H708.42ZM711.11 156.6H712.6V158.09H711.11ZM707.08 157.94H708.57V159.43H707.08ZM670.81 159.28H672.3V160.78H670.81ZM708.42 159.28H711.26V160.78H708.42ZM713.79 159.28H715.28V160.78H713.79ZM658.72 160.63H660.22V162.12H658.72ZM664.09 160.63H665.59V162.12H664.09ZM658.72 161.97H660.22V163.46H658.72ZM708.42 161.97H709.91V163.46H708.42ZM662.75 163.31H664.24V164.81H662.75ZM709.76 163.31H711.26V164.81H709.76ZM711.11 164.66H712.6V166.15H711.11ZM660.07 167.34H661.56V168.84H660.07ZM709.76 167.34H711.26V168.84H709.76ZM658.72 168.69H660.22V170.18H658.72ZM664.09 170.03H666.93V171.52H664.09ZM711.11 170.03H712.6V171.52H711.11ZM712.45 174.06H713.94V175.55H712.45ZM665.44 175.4H666.93V176.9H665.44ZM708.42 175.4H709.91V176.9H708.42ZM662.75 176.75H664.24V178.24H662.75ZM705.73 176.75H708.57V178.24H705.73ZM665.44 178.09H666.93V179.58H665.44ZM669.47 178.09H670.96V179.58H669.47ZM672.15 178.09H673.65V179.58H672.15ZM704.39 178.09H705.88V179.58H704.39ZM665.44 179.43H666.93V180.93H665.44ZM669.47 179.43H670.96V180.93H669.47ZM672.15 179.43H673.65V180.93H672.15ZM678.87 179.43H680.36V180.93H678.87ZM694.99 179.43H697.82V180.93H694.99ZM709.76 179.43H711.26V180.93H709.76ZM674.84 180.78H676.33V182.27H674.84ZM678.87 180.78H680.36V182.27H678.87ZM684.24 180.78H685.74V182.27H684.24ZM704.39 180.78H705.88V182.27H704.39ZM678.87 182.12H683.05V183.61H678.87ZM684.24 182.12H687.08V183.61H684.24ZM693.64 182.12H696.48V183.61H693.64ZM701.7 182.12H703.2V183.61H701.7ZM704.39 182.12H705.88V183.61H704.39ZM686.93 183.46H688.42V184.96H686.93ZM688.27 184.81H689.76V186.3H688.27ZM696.33 184.81H697.82V186.3H696.33ZM688.27 186.15H689.76V187.64H688.27Z"/><path fill="#21918c" d="M690.96 148.54H692.45V150.03H690.96ZM684.24 149.88H687.08V151.37H684.24ZM692.3 149.88H695.14V151.37H692.3ZM684.24 151.22H685.74V152.72H684.24ZM690.96 151.22H692.45V152.72H690.96ZM678.87 152.57H680.36V154.06H678.87ZM685.59 152.57H687.08V154.06H685.59ZM688.27 152.57H689.76V154.06H688.27ZM693.64 152.57H695.14V154.06H693.64ZM668.12 153.91H670.96V155.4H668.12ZM680.21 153.91H681.71V155.4H680.21ZM668.12 155.25H669.62V156.75H668.12ZM672.15 155.25H673.65V156.75H672.15ZM668.12 156.6H670.96V158.09H668.12ZM672.15 156.6H673.65V158.09H672.15ZM704.39 156.6H707.23V158.09H704.39ZM666.78 157.94H668.27V159.43H666.78ZM673.5 157.94H674.99V159.43H673.5ZM703.05 157.94H704.54V159.43H703.05ZM708.42 157.94H709.91V159.43H708.42ZM666.78 159.28H668.27V160.78H666.78ZM712.45 159.28H713.94V160.78H712.45ZM709.76 160.63H712.6V162.12H709.76ZM662.75 161.97H665.59V163.46H662.75ZM668.12 161.97H669.62V163.46H668.12ZM707.08 161.97H708.57V163.46H707.08ZM712.45 161.97H713.94V163.46H712.45ZM660.07 163.31H661.56V164.81H660.07ZM661.41 164.66H662.9V166.15H661.41ZM664.09 164.66H665.59V166.15H664.09ZM658.72 166H660.22V167.49H658.72ZM657.38 167.34H658.87V168.84H657.38ZM661.41 167.34H662.9V168.84H661.41ZM711.11 167.34H712.6V168.84H711.11ZM713.79 167.34H715.28V168.84H713.79ZM660.07 168.69H661.56V170.18H660.07ZM662.75 168.69H664.24V170.18H662.75ZM662.75 170.03H664.24V171.52H662.75ZM712.45 171.37H713.94V172.87H712.45ZM664.09 172.72H665.59V174.21H664.09ZM666.78 172.72H668.27V174.21H666.78ZM670.81 172.72H672.3V174.21H670.81ZM708.42 172.72H711.26V174.21H708.42ZM669.47 174.06H670.96V175.55H669.47ZM704.39 174.06H705.88V175.55H704.39ZM709.76 176.75H711.26V178.24H709.76ZM668.12 178.09H669.62V179.58H668.12ZM673.5 178.09H674.99V179.58H673.5ZM701.7 178.09H704.54V179.58H701.7ZM670.81 179.43H672.3V180.93H670.81ZM676.18 179.43H679.02V180.93H676.18ZM677.53 180.78H679.02V182.27H677.53ZM680.21 180.78H681.71V182.27H680.21ZM693.64 180.78H695.14V182.27H693.64ZM701.7 180.78H703.2V182.27H701.7ZM686.93 182.12H688.42V183.61H686.93ZM690.96 182.12H692.45V183.61H690.96ZM689.61 183.46H691.11V184.96H689.61Z"/><path fill="#1fa088" d="M672.15 149.88H673.65V151.37H672.15ZM694.99 149.88H696.48V151.37H694.99ZM681.56 151.22H683.05V152.72H681.56ZM688.27 151.22H689.76V152.72H688.27ZM676.18 152.57H677.68V154.06H676.18ZM681.56 152.57H684.39V154.06H681.56ZM692.3 152.57H693.79V154.06H692.3ZM699.02 152.57H700.51V154.06H699.02ZM672.15 153.91H673.65V155.4H672.15ZM686.93 153.91H688.42V155.4H686.93ZM703.05 153.91H704.54V155.4H703.05ZM673.5 155.25H674.99V156.75H673.5ZM678.87 155.25H680.36V156.75H678.87ZM682.9 155.25H684.39V156.75H682.9ZM701.7 155.25H703.2V156.75H701.7ZM670.81 156.6H672.3V158.09H670.81ZM677.53 156.6H679.02V158.09H677.53ZM703.05 156.6H704.54V158.09H703.05ZM668.12 157.94H669.62V159.43H668.12ZM701.7 157.94H703.2V159.43H701.7ZM705.73 157.94H707.23V159.43H705.73ZM700.36 159.28H701.85V160.78H700.36ZM707.08 159.28H708.57V160.78H707.08ZM661.41 160.63H662.9V162.12H661.41ZM666.78 160.63H669.62V162.12H666.78ZM666.78 161.97H668.27V163.46H666.78ZM703.05 161.97H704.54V163.46H703.05ZM669.47 163.31H670.96V164.81H669.47ZM662.75 164.66H664.24V166.15H662.75ZM704.39 166H705.88V167.49H704.39ZM665.44 167.34H666.93V168.84H665.44ZM708.42 167.34H709.91V168.84H708.42ZM664.09 168.69H665.59V170.18H664.09ZM668.12 168.69H669.62V170.18H668.12ZM712.45 170.03H713.94V171.52H712.45ZM704.39 171.37H705.88V172.87H704.39ZM709.76 171.37H711.26V172.87H709.76ZM665.44 172.72H666.93V174.21H665.44ZM704.39 172.72H705.88V174.21H704.39ZM712.45 172.72H713.94V174.21H712.45ZM666.78 174.06H668.27V175.55H666.78ZM705.73 174.06H707.23V175.55H705.73ZM708.42 174.06H709.91V175.55H708.42ZM666.78 175.4H668.27V176.9H666.78ZM669.47 175.4H670.96V176.9H669.47ZM672.15 175.4H673.65V176.9H672.15ZM700.36 175.4H701.85V176.9H700.36ZM705.73 175.4H707.23V176.9H705.73ZM669.47 176.75H672.3V178.24H669.47ZM673.5 176.75H674.99V178.24H673.5ZM697.67 176.75H700.51V178.24H697.67ZM677.53 178.09H679.02V179.58H677.53ZM694.99 178.09H696.48V179.58H694.99ZM699.02 178.09H700.51V179.58H699.02ZM674.84 179.43H676.33V180.93H674.84ZM680.21 179.43H683.05V180.93H680.21ZM690.96 179.43H692.45V180.93H690.96ZM697.67 179.43H701.85V180.93H697.67ZM703.05 179.43H704.54V180.93H703.05ZM676.18 180.78H677.68V182.27H676.18ZM685.59 180.78H688.42V182.27H685.59ZM690.96 180.78H693.79V182.27H690.96ZM682.9 182.12H684.39V183.61H682.9ZM688.27 182.12H689.76V183.61H688.27ZM699.02 182.12H700.51V183.61H699.02ZM684.24 183.46H685.74V184.96H684.24Z"/><path fill="#28ae80" d="M690.96 149.88H692.45V151.37H690.96ZM685.59 151.22H688.42V152.72H685.59ZM674.84 152.57H676.33V154.06H674.84ZM677.53 152.57H679.02V154.06H677.53ZM689.61 152.57H691.11V154.06H689.61ZM676.18 153.91H677.68V155.4H676.18ZM681.56 153.91H683.05V155.4H681.56ZM684.24 153.91H685.74V155.4H684.24ZM689.61 153.91H691.11V155.4H689.61ZM692.3 153.91H693.79V155.4H692.3ZM699.02 153.91H700.51V155.4H699.02ZM701.7 153.91H703.2V155.4H701.7ZM705.73 153.91H707.23V155.4H705.73ZM674.84 155.25H676.33V156.75H674.84ZM677.53 155.25H679.02V156.75H677.53ZM692.3 155.25H693.79V156.75H692.3ZM696.33 155.25H697.82V156.75H696.33ZM700.36 155.25H701.85V156.75H700.36ZM665.44 156.6H666.93V158.09H665.44ZM673.5 156.6H674.99V158.09H673.5ZM700.36 156.6H701.85V158.09H700.36ZM670.81 157.94H672.3V159.43H670.81ZM704.39 157.94H705.88V159.43H704.39ZM668.12 159.28H669.62V160.78H668.12ZM672.15 159.28H674.99V160.78H672.15ZM701.7 159.28H703.2V160.78H701.7ZM700.36 160.63H701.85V162.12H700.36ZM704.39 160.63H708.57V162.12H704.39ZM711.11 161.97H712.6V163.46H711.11ZM668.12 163.31H669.62V164.81H668.12ZM665.44 164.66H666.93V166.15H665.44ZM669.47 164.66H670.96V166.15H669.47ZM705.73 164.66H707.23V166.15H705.73ZM708.42 164.66H709.91V166.15H708.42ZM662.75 166H664.24V167.49H662.75ZM668.12 166H669.62V167.49H668.12ZM709.76 166H711.26V167.49H709.76ZM666.78 167.34H668.27V168.84H666.78ZM705.73 167.34H707.23V168.84H705.73ZM708.42 168.69H709.91V170.18H708.42ZM666.78 170.03H668.27V171.52H666.78ZM705.73 170.03H708.57V171.52H705.73ZM668.12 171.37H669.62V172.87H668.12ZM708.42 171.37H709.91V172.87H708.42ZM673.5 174.06H674.99V175.55H673.5ZM701.7 174.06H703.2V175.55H701.7ZM697.67 175.4H699.17V176.9H697.67ZM704.39 175.4H705.88V176.9H704.39ZM672.15 176.75H673.65V178.24H672.15ZM681.56 176.75H683.05V178.24H681.56ZM674.84 178.09H677.68V179.58H674.84ZM680.21 178.09H681.71V179.58H680.21ZM686.93 178.09H688.42V179.58H686.93ZM690.96 178.09H692.45V179.58H690.96ZM700.36 178.09H701.85V179.58H700.36ZM707.08 178.09H708.57V179.58H707.08ZM673.5 179.43H674.99V180.93H673.5ZM684.24 179.43H685.74V180.93H684.24ZM688.27 179.43H691.11V180.93H688.27ZM693.64 179.43H695.14V180.93H693.64ZM682.9 180.78H684.39V182.27H682.9Z"/><path fill="#3fbc73" d="M682.9 151.22H684.39V152.72H682.9ZM680.21 152.57H681.71V154.06H680.21ZM684.24 152.57H685.74V154.06H684.24ZM677.53 153.91H679.02V155.4H677.53ZM685.59 153.91H687.08V155.4H685.59ZM690.96 153.91H692.45V155.4H690.96ZM693.64 153.91H696.48V155.4H693.64ZM681.56 155.25H683.05V156.75H681.56ZM697.67 155.25H699.17V156.75H697.67ZM676.18 156.6H677.68V158.09H676.18ZM701.7 156.6H703.2V158.09H701.7ZM677.53 157.94H679.02V159.43H677.53ZM694.99 157.94H696.48V159.43H694.99ZM665.44 160.63H666.93V162.12H665.44ZM672.15 161.97H673.65V163.46H672.15ZM705.73 161.97H707.23V163.46H705.73ZM664.09 163.31H666.93V164.81H664.09ZM707.08 163.31H709.91V164.81H707.08ZM668.12 164.66H669.62V166.15H668.12ZM703.05 164.66H704.54V166.15H703.05ZM709.76 164.66H711.26V166.15H709.76ZM665.44 166H668.27V167.49H665.44ZM703.05 166H704.54V167.49H703.05ZM708.42 166H709.91V167.49H708.42ZM664.09 167.34H665.59V168.84H664.09ZM668.12 167.34H670.96V168.84H668.12ZM704.39 167.34H705.88V168.84H704.39ZM665.44 168.69H666.93V170.18H665.44ZM707.08 168.69H708.57V170.18H707.08ZM712.45 168.69H713.94V170.18H712.45ZM704.39 170.03H705.88V171.52H704.39ZM708.42 170.03H709.91V171.52H708.42ZM673.5 171.37H674.99V172.87H673.5ZM668.12 172.72H670.96V174.21H668.12ZM673.5 172.72H674.99V174.21H673.5ZM705.73 172.72H708.57V174.21H705.73ZM676.18 174.06H677.68V175.55H676.18ZM694.99 174.06H696.48V175.55H694.99ZM668.12 175.4H669.62V176.9H668.12ZM674.84 175.4H677.68V176.9H674.84ZM678.87 175.4H680.36V176.9H678.87ZM684.24 175.4H685.74V176.9H684.24ZM689.61 175.4H691.11V176.9H689.61ZM696.33 175.4H697.82V176.9H696.33ZM701.7 175.4H704.54V176.9H701.7ZM674.84 176.75H676.33V178.24H674.84ZM677.53 176.75H679.02V178.24H677.53ZM682.9 176.75H684.39V178.24H682.9ZM685.59 176.75H687.08V178.24H685.59ZM693.64 176.75H695.14V178.24H693.64ZM684.24 178.09H685.74V179.58H684.24ZM688.27 178.09H689.76V179.58H688.27ZM693.64 178.09H695.14V179.58H693.64ZM696.33 178.09H697.82V179.58H696.33ZM682.9 179.43H684.39V180.93H682.9ZM685.59 179.43H688.42V180.93H685.59ZM692.3 179.43H693.79V180.93H692.3ZM688.27 180.78H689.76V182.27H688.27Z"/><path fill="#5ec962" d="M686.93 152.57H688.42V154.06H686.93ZM684.24 155.25H685.74V156.75H684.24ZM689.61 155.25H692.45V156.75H689.61ZM694.99 155.25H696.48V156.75H694.99ZM681.56 156.6H684.39V158.09H681.56ZM690.96 156.6H692.45V158.09H690.96ZM693.64 156.6H695.14V158.09H693.64ZM699.02 156.6H700.51V158.09H699.02ZM672.15 157.94H673.65V159.43H672.15ZM676.18 157.94H677.68V159.43H676.18ZM692.3 157.94H695.14V159.43H692.3ZM696.33 157.94H697.82V159.43H696.33ZM699.02 157.94H701.85V159.43H699.02ZM676.18 159.28H677.68V160.78H676.18ZM703.05 159.28H707.23V160.78H703.05ZM669.47 160.63H670.96V162.12H669.47ZM669.47 161.97H672.3V163.46H669.47ZM673.5 161.97H674.99V163.46H673.5ZM700.36 161.97H701.85V163.46H700.36ZM704.39 161.97H705.88V163.46H704.39ZM666.78 163.31H668.27V164.81H666.78ZM672.15 163.31H673.65V164.81H672.15ZM707.08 164.66H708.57V166.15H707.08ZM670.81 166H672.3V167.49H670.81ZM707.08 167.34H708.57V168.84H707.08ZM705.73 168.69H707.23V170.18H705.73ZM668.12 170.03H670.96V171.52H668.12ZM672.15 170.03H673.65V171.52H672.15ZM666.78 171.37H668.27V172.87H666.78ZM670.81 171.37H673.65V172.87H670.81ZM705.73 171.37H708.57V172.87H705.73ZM699.02 172.72H701.85V174.21H699.02ZM703.05 172.72H704.54V174.21H703.05ZM672.15 174.06H673.65V175.55H672.15ZM700.36 174.06H701.85V175.55H700.36ZM680.21 175.4H681.71V176.9H680.21ZM693.64 175.4H695.14V176.9H693.64ZM699.02 175.4H700.51V176.9H699.02ZM707.08 175.4H708.57V176.9H707.08ZM676.18 176.75H677.68V178.24H676.18ZM701.7 176.75H703.2V178.24H701.7ZM670.81 178.09H672.3V179.58H670.81ZM681.56 178.09H684.39V179.58H681.56ZM685.59 178.09H687.08V179.58H685.59ZM689.61 178.09H691.11V179.58H689.61ZM692.3 178.09H693.79V179.58H692.3ZM697.67 178.09H699.17V179.58H697.67ZM681.56 180.78H683.05V182.27H681.56Z"/><path fill="#84d44b" d="M696.33 152.57H697.82V154.06H696.33ZM682.9 153.91H684.39V155.4H682.9ZM688.27 153.91H689.76V155.4H688.27ZM676.18 155.25H677.68V156.75H676.18ZM680.21 155.25H681.71V156.75H680.21ZM686.93 155.25H688.42V156.75H686.93ZM699.02 155.25H700.51V156.75H699.02ZM674.84 156.6H676.33V158.09H674.84ZM680.21 156.6H681.71V158.09H680.21ZM685.59 156.6H687.08V158.09H685.59ZM674.84 157.94H676.33V159.43H674.84ZM681.56 157.94H683.05V159.43H681.56ZM669.47 159.28H670.96V160.78H669.47ZM699.02 159.28H700.51V160.78H699.02ZM672.15 160.63H674.99V162.12H672.15ZM703.05 160.63H704.54V162.12H703.05ZM704.39 164.66H705.88V166.15H704.39ZM669.47 166H670.96V167.49H669.47ZM670.81 167.34H672.3V168.84H670.81ZM666.78 168.69H668.27V170.18H666.78ZM669.47 168.69H670.96V170.18H669.47ZM701.7 168.69H704.54V170.18H701.7ZM703.05 170.03H704.54V171.52H703.05ZM700.36 171.37H704.54V172.87H700.36ZM672.15 172.72H673.65V174.21H672.15ZM674.84 172.72H676.33V174.21H674.84ZM701.7 172.72H703.2V174.21H701.7ZM674.84 174.06H676.33V175.55H674.84ZM678.87 174.06H680.36V175.55H678.87ZM699.02 174.06H700.51V175.55H699.02ZM703.05 174.06H704.54V175.55H703.05ZM707.08 174.06H708.57V175.55H707.08ZM670.81 175.4H672.3V176.9H670.81ZM673.5 175.4H674.99V176.9H673.5ZM694.99 175.4H696.48V176.9H694.99ZM678.87 176.75H680.36V178.24H678.87ZM684.24 176.75H685.74V178.24H684.24ZM689.61 176.75H691.11V178.24H689.61ZM694.99 176.75H697.82V178.24H694.99ZM700.36 176.75H701.85V178.24H700.36Z"/><path fill="#addc30" d="M693.64 155.25H695.14V156.75H693.64ZM678.87 156.6H680.36V158.09H678.87ZM692.3 156.6H693.79V158.09H692.3ZM694.99 156.6H699.17V158.09H694.99ZM678.87 157.94H681.71V159.43H678.87ZM682.9 157.94H692.45V159.43H682.9ZM697.67 157.94H699.17V159.43H697.67ZM674.84 159.28H676.33V160.78H674.84ZM677.53 159.28H681.71V160.78H677.53ZM693.64 159.28H697.82V160.78H693.64ZM670.81 160.63H672.3V162.12H670.81ZM674.84 160.63H677.68V162.12H674.84ZM697.67 160.63H699.17V162.12H697.67ZM701.7 160.63H703.2V162.12H701.7ZM674.84 161.97H676.33V163.46H674.84ZM699.02 161.97H700.51V163.46H699.02ZM701.7 161.97H703.2V163.46H701.7ZM670.81 163.31H672.3V164.81H670.81ZM673.5 163.31H674.99V164.81H673.5ZM700.36 163.31H701.85V164.81H700.36ZM705.73 163.31H707.23V164.81H705.73ZM666.78 164.66H668.27V166.15H666.78ZM672.15 164.66H673.65V166.15H672.15ZM701.7 164.66H703.2V166.15H701.7ZM672.15 166H673.65V167.49H672.15ZM701.7 166H703.2V167.49H701.7ZM705.73 166H708.57V167.49H705.73ZM672.15 167.34H673.65V168.84H672.15ZM701.7 167.34H703.2V168.84H701.7ZM670.81 168.69H673.65V170.18H670.81ZM670.81 170.03H672.3V171.52H670.81ZM673.5 170.03H674.99V171.52H673.5ZM700.36 170.03H703.2V171.52H700.36ZM669.47 171.37H670.96V172.87H669.47ZM674.84 171.37H676.33V172.87H674.84ZM699.02 171.37H700.51V172.87H699.02ZM676.18 172.72H679.02V174.21H676.18ZM696.33 172.72H699.17V174.21H696.33ZM670.81 174.06H672.3V175.55H670.81ZM680.21 174.06H684.39V175.55H680.21ZM690.96 174.06H695.14V175.55H690.96ZM697.67 174.06H699.17V175.55H697.67ZM677.53 175.4H679.02V176.9H677.53ZM682.9 175.4H684.39V176.9H682.9ZM685.59 175.4H689.76V176.9H685.59ZM688.27 176.75H689.76V178.24H688.27ZM692.3 176.75H693.79V178.24H692.3ZM678.87 178.09H680.36V179.58H678.87Z"/><path fill="#d8e219" d="M688.27 155.25H689.76V156.75H688.27ZM684.24 156.6H685.74V158.09H684.24ZM681.56 159.28H693.79V160.78H681.56ZM677.53 160.63H685.74V162.12H677.53ZM689.61 160.63H697.82V162.12H689.61ZM699.02 160.63H700.51V162.12H699.02ZM676.18 161.97H680.36V163.46H676.18ZM694.99 161.97H699.17V163.46H694.99ZM674.84 163.31H677.68V164.81H674.84ZM697.67 163.31H700.51V164.81H697.67ZM701.7 163.31H705.88V164.81H701.7ZM673.5 164.66H676.33V166.15H673.5ZM699.02 164.66H701.85V166.15H699.02ZM673.5 166H676.33V167.49H673.5ZM699.02 166H701.85V167.49H699.02ZM673.5 167.34H676.33V168.84H673.5ZM699.02 167.34H701.85V168.84H699.02ZM703.05 167.34H704.54V168.84H703.05ZM673.5 168.69H676.33V170.18H673.5ZM699.02 168.69H701.85V170.18H699.02ZM704.39 168.69H705.88V170.18H704.39ZM674.84 170.03H679.02V171.52H674.84ZM696.33 170.03H700.51V171.52H696.33ZM676.18 171.37H681.71V172.87H676.18ZM693.64 171.37H699.17V172.87H693.64ZM678.87 172.72H696.48V174.21H678.87ZM677.53 174.06H679.02V175.55H677.53ZM684.24 174.06H691.11V175.55H684.24ZM681.56 175.4H683.05V176.9H681.56ZM690.96 175.4H693.79V176.9H690.96Z"/><path fill="#fde725" d="M685.59 155.25H687.08V156.75H685.59ZM686.93 156.6H691.11V158.09H686.93ZM697.67 159.28H699.17V160.78H697.67ZM685.59 160.63H689.76V162.12H685.59ZM680.21 161.97H695.14V163.46H680.21ZM677.53 163.31H697.82V164.81H677.53ZM670.81 164.66H672.3V166.15H670.81ZM676.18 164.66H699.17V166.15H676.18ZM676.18 166H699.17V167.49H676.18ZM676.18 167.34H699.17V168.84H676.18ZM676.18 168.69H699.17V170.18H676.18ZM678.87 170.03H696.48V171.52H678.87ZM681.56 171.37H693.79V172.87H681.56ZM696.33 174.06H697.82V175.55H696.33ZM680.21 176.75H681.71V178.24H680.21ZM686.93 176.75H688.42V178.24H686.93ZM690.96 176.75H692.45V178.24H690.96Z"/></g>
<rect x="789" y="33.9" width="127.6" height="80.6" fill="#440154"/>
<g shape-rendering="crispEdges"><path fill="#48186a" d="M864.06 52.86H871.76V57.81H864.06ZM871.56 90.79H886.78V95.74H871.56Z"/><path fill="#472d7b" d="M834.04 33.9H841.74V38.84H834.04ZM819.02 57.61H841.74V62.55H819.02ZM811.52 90.79H819.22V95.74H811.52ZM886.58 90.79H894.28V95.74H886.58ZM834.04 100.28H841.74V105.22H834.04ZM856.55 100.28H864.26V105.22H856.55Z"/><path fill="#424086" d="M841.54 57.61H849.25V62.55H841.54ZM879.07 57.61H886.78V62.55H879.07ZM811.52 62.35H819.22V67.29H811.52ZM909.09 62.35H916.8V67.29H909.09ZM856.55 90.79H864.26V95.74H856.55ZM819.02 95.54H826.73V100.48H819.02ZM834.04 105.02H841.74V109.96H834.04ZM819.02 109.76H826.73V114.7H819.02Z"/><path fill="#3b528b" d="M886.58 62.35H894.28V67.29H886.58ZM796.51 67.09H804.21V72.03H796.51ZM901.59 67.09H909.29V72.03H901.59ZM909.09 71.83H916.8V76.77H909.09ZM909.09 86.05H916.8V90.99H909.09ZM826.53 90.79H834.24V95.74H826.53Z"/><path fill="#33638d" d="M849.05 57.61H856.75V62.55H849.05ZM864.06 57.61H871.76V62.55H864.06ZM819.02 62.35H826.73V67.29H819.02ZM796.51 86.05H804.21V90.99H796.51ZM819.02 86.05H826.73V90.99H819.02ZM819.02 90.79H826.73V95.74H819.02ZM834.04 90.79H856.75V95.74H834.04Z"/><path fill="#2c728e" d="M856.55 57.61H864.26V62.55H856.55ZM789 71.83H796.71V76.77H789ZM789 86.05H796.71V90.99H789ZM879.07 86.05H886.78V90.99H879.07ZM894.08 86.05H901.79V90.99H894.08Z"/><path fill="#26828e" d="M804.01 48.12H811.72V53.06H804.01ZM871.56 52.86H879.27V57.81H871.56ZM826.53 62.35H834.24V67.29H826.53ZM811.52 86.05H819.22V90.99H811.52ZM826.53 86.05H834.24V90.99H826.53ZM871.56 86.05H879.27V90.99H871.56ZM901.59 86.05H909.29V90.99H901.59Z"/><path fill="#21918c" d="M871.56 57.61H879.27V62.55H871.56ZM841.54 62.35H849.25V67.29H841.54ZM804.01 67.09H811.72V72.03H804.01ZM804.01 86.05H811.72V90.99H804.01ZM834.04 86.05H864.26V90.99H834.04ZM886.58 86.05H894.28V90.99H886.58Z"/><path fill="#1fa088" d="M879.07 62.35H886.78V67.29H879.07ZM796.51 71.83H804.21V76.77H796.51ZM864.06 86.05H871.76V90.99H864.06Z"/><path fill="#28ae80" d="M856.55 62.35H864.26V67.29H856.55ZM811.52 67.09H819.22V72.03H811.52ZM894.08 67.09H901.79V72.03H894.08Z"/><path fill="#3fbc73" d="M849.05 62.35H856.75V67.29H849.05ZM886.58 67.09H894.28V72.03H886.58Z"/><path fill="#5ec962" d="M834.04 62.35H841.74V67.29H834.04Z"/><path fill="#84d44b" d="M871.56 62.35H879.27V67.29H871.56ZM819.02 67.09H826.73V72.03H819.02ZM901.59 71.83H909.29V76.77H901.59ZM789 76.57H796.71V81.51H789Z"/><path fill="#addc30" d="M864.06 62.35H871.76V67.29H864.06ZM826.53 67.09H856.75V72.03H826.53ZM879.07 67.09H886.78V72.03H879.07ZM804.01 71.83H811.72V76.77H804.01ZM894.08 71.83H901.79V76.77H894.08ZM909.09 76.57H916.8V81.51H909.09ZM789 81.31H916.8V86.25H789Z"/><path fill="#d8e219" d="M856.55 67.09H879.27V72.03H856.55ZM811.52 71.83H834.24V76.77H811.52ZM879.07 71.83H894.28V76.77H879.07ZM796.51 76.57H811.72V81.51H796.51ZM894.08 76.57H909.29V81.51H894.08Z"/><path fill="#fde725" d="M834.04 71.83H879.27V76.77H834.04ZM811.52 76.57H894.28V81.51H811.52Z"/></g>
<rect x="789" y="125.7" width="127.6" height="80.6" fill="#440154"/>
<g shape-rendering="crispEdges"><path fill="#48186a" d="M852.13 155.25H853.62V156.75H852.13ZM856.16 155.25H857.65V156.75H856.16ZM850.79 156.6H852.28V158.09H850.79ZM856.16 156.6H857.65V158.09H856.16ZM870.93 156.6H872.43V158.09H870.93ZM826.61 157.94H828.1V159.43H826.61ZM829.29 157.94H830.79V159.43H829.29ZM834.67 157.94H836.16V159.43H834.67ZM840.04 157.94H841.53V159.43H840.04ZM864.22 157.94H865.71V159.43H864.22ZM869.59 157.94H871.08V159.43H869.59ZM819.89 159.28H821.39V160.78H819.89ZM822.58 159.28H824.07V160.78H822.58ZM827.95 159.28H829.44V160.78H827.95ZM831.98 159.28H833.47V160.78H831.98ZM877.65 159.28H879.14V160.78H877.65ZM809.15 160.63H810.64V162.12H809.15ZM877.65 160.63H879.14V162.12H877.65ZM880.33 160.63H881.83V162.12H880.33ZM883.02 160.63H884.51V162.12H883.02ZM805.12 161.97H806.61V163.46H805.12ZM807.8 161.97H809.3V163.46H807.8ZM813.18 161.97H814.67V163.46H813.18ZM815.86 161.97H817.36V163.46H815.86ZM888.39 161.97H889.89V163.46H888.39ZM809.15 163.31H810.64V164.81H809.15ZM893.77 163.31H895.26V164.81H893.77ZM896.45 163.31H897.95V164.81H896.45ZM798.4 166H799.9V167.49H798.4ZM903.17 166H904.66V167.49H903.17ZM794.37 167.34H795.87V168.84H794.37ZM908.54 167.34H910.03V168.84H908.54ZM795.72 175.4H797.21V176.9H795.72ZM798.4 175.4H801.24V176.9H798.4ZM806.46 175.4H807.95V176.9H806.46ZM833.32 175.4H834.82V176.9H833.32ZM885.71 175.4H887.2V176.9H885.71ZM889.74 175.4H891.23V176.9H889.74ZM912.57 175.4H914.06V176.9H912.57ZM798.4 176.75H799.9V178.24H798.4ZM802.43 176.75H803.92V178.24H802.43ZM807.8 176.75H809.3V178.24H807.8ZM814.52 176.75H816.01V178.24H814.52ZM821.24 176.75H822.73V178.24H821.24ZM829.29 176.75H832.13V178.24H829.29ZM844.07 176.75H846.91V178.24H844.07ZM858.84 176.75H860.34V178.24H858.84ZM861.53 176.75H863.02V178.24H861.53ZM865.56 176.75H867.05V178.24H865.56ZM877.65 176.75H879.14V178.24H877.65ZM880.33 176.75H881.83V178.24H880.33ZM907.2 176.75H908.69V178.24H907.2ZM915.26 176.75H916.75V178.24H915.26ZM818.55 178.09H820.04V179.58H818.55ZM852.13 178.09H853.62V179.58H852.13ZM865.56 178.09H867.05V179.58H865.56Z"/><path fill="#472d7b" d="M841.38 156.6H842.88V158.09H841.38ZM849.44 156.6H850.94V158.09H849.44ZM865.56 156.6H867.05V158.09H865.56ZM846.76 157.94H848.25V159.43H846.76ZM853.47 157.94H857.65V159.43H853.47ZM870.93 157.94H872.43V159.43H870.93ZM838.7 159.28H840.19V160.78H838.7ZM868.25 159.28H869.74V160.78H868.25ZM873.62 159.28H875.11V160.78H873.62ZM821.24 160.63H822.73V162.12H821.24ZM876.31 160.63H877.8V162.12H876.31ZM881.68 160.63H883.17V162.12H881.68ZM883.02 161.97H885.86V163.46H883.02ZM891.08 163.31H892.57V164.81H891.08ZM802.43 164.66H803.92V166.15H802.43ZM805.12 164.66H807.95V166.15H805.12ZM904.51 166H906V167.49H904.51ZM909.88 167.34H911.38V168.84H909.88ZM915.26 170.03H916.75V171.52H915.26ZM878.99 174.06H880.48V175.55H878.99ZM789 175.4H790.49V176.9H789ZM791.69 175.4H793.18V176.9H791.69ZM794.37 175.4H795.87V176.9H794.37ZM805.12 175.4H806.61V176.9H805.12ZM814.52 175.4H816.01V176.9H814.52ZM821.24 175.4H822.73V176.9H821.24ZM827.95 175.4H829.44V176.9H827.95ZM848.1 175.4H849.59V176.9H848.1ZM876.31 175.4H877.8V176.9H876.31ZM878.99 175.4H880.48V176.9H878.99ZM884.36 175.4H885.86V176.9H884.36ZM892.42 175.4H895.26V176.9H892.42ZM897.8 175.4H899.29V176.9H897.8ZM915.26 175.4H916.75V176.9H915.26ZM791.69 176.75H793.18V178.24H791.69ZM805.12 176.75H806.61V178.24H805.12ZM815.86 176.75H818.7V178.24H815.86ZM822.58 176.75H824.07V178.24H822.58ZM826.61 176.75H829.44V178.24H826.61ZM842.73 176.75H844.22V178.24H842.73ZM856.16 176.75H857.65V178.24H856.16ZM872.28 176.75H873.77V178.24H872.28ZM862.87 178.09H864.37V179.58H862.87Z"/><path fill="#424086" d="M858.84 156.6H860.34V158.09H858.84ZM838.7 157.94H840.19V159.43H838.7ZM842.73 157.94H845.56V159.43H842.73ZM848.1 157.94H850.94V159.43H848.1ZM852.13 157.94H853.62V159.43H852.13ZM862.87 157.94H864.37V159.43H862.87ZM866.9 157.94H868.4V159.43H866.9ZM842.73 159.28H845.56V160.78H842.73ZM846.76 159.28H848.25V160.78H846.76ZM860.19 159.28H861.68V160.78H860.19ZM827.95 160.63H829.44V162.12H827.95ZM830.64 160.63H832.13V162.12H830.64ZM869.59 160.63H871.08V162.12H869.59ZM874.96 160.63H876.46V162.12H874.96ZM817.21 161.97H818.7V163.46H817.21ZM880.33 161.97H881.83V163.46H880.33ZM806.46 163.31H809.3V164.81H806.46ZM803.77 164.66H805.27V166.15H803.77ZM896.45 164.66H899.29V166.15H896.45ZM799.75 166H801.24V167.49H799.75ZM793.03 167.34H794.52V168.84H793.03ZM790.34 168.69H791.84V170.18H790.34ZM806.46 174.06H807.95V175.55H806.46ZM817.21 174.06H818.7V175.55H817.21ZM873.62 174.06H875.11V175.55H873.62ZM885.71 174.06H887.2V175.55H885.71ZM889.74 174.06H891.23V175.55H889.74ZM897.8 174.06H899.29V175.55H897.8ZM915.26 174.06H916.75V175.55H915.26ZM817.21 175.4H818.7V176.9H817.21ZM822.58 175.4H824.07V176.9H822.58ZM829.29 175.4H830.79V176.9H829.29ZM831.98 175.4H833.47V176.9H831.98ZM834.67 175.4H836.16V176.9H834.67ZM837.35 175.4H838.85V176.9H837.35ZM842.73 175.4H844.22V176.9H842.73ZM858.84 175.4H860.34V176.9H858.84ZM865.56 175.4H868.4V176.9H865.56ZM870.93 175.4H872.43V176.9H870.93ZM896.45 175.4H897.95V176.9H896.45ZM909.88 175.4H911.38V176.9H909.88ZM913.91 175.4H915.41V176.9H913.91ZM852.13 176.75H853.62V178.24H852.13ZM913.91 176.75H915.41V178.24H913.91Z"/><path fill="#3b528b" d="M857.5 157.94H861.68V159.43H857.5ZM833.32 159.28H834.82V160.78H833.32ZM853.47 159.28H854.96V160.78H853.47ZM865.56 159.28H868.4V160.78H865.56ZM870.93 159.28H872.43V160.78H870.93ZM819.89 160.63H821.39V162.12H819.89ZM822.58 160.63H828.1V162.12H822.58ZM861.53 160.63H863.02V162.12H861.53ZM818.55 161.97H820.04V163.46H818.55ZM877.65 161.97H879.14V163.46H877.65ZM881.68 161.97H883.17V163.46H881.68ZM892.42 161.97H893.92V163.46H892.42ZM813.18 163.31H816.01V164.81H813.18ZM887.05 163.31H889.89V164.81H887.05ZM892.42 163.31H893.92V164.81H892.42ZM807.8 164.66H809.3V166.15H807.8ZM892.42 164.66H893.92V166.15H892.42ZM895.11 166H896.6V167.49H895.11ZM900.48 166H901.98V167.49H900.48ZM795.72 167.34H797.21V168.84H795.72ZM909.88 168.69H912.72V170.18H909.88ZM913.91 170.03H915.41V171.52H913.91ZM844.07 174.06H845.56V175.55H844.07ZM877.65 174.06H879.14V175.55H877.65ZM881.68 174.06H884.51V175.55H881.68ZM891.08 174.06H892.57V175.55H891.08ZM899.14 174.06H901.98V175.55H899.14ZM903.17 174.06H904.66V175.55H903.17ZM790.34 175.4H791.84V176.9H790.34ZM801.09 175.4H802.58V176.9H801.09ZM803.77 175.4H805.27V176.9H803.77ZM811.83 175.4H813.33V176.9H811.83ZM818.55 175.4H820.04V176.9H818.55ZM825.27 175.4H826.76V176.9H825.27ZM836.01 175.4H837.5V176.9H836.01ZM840.04 175.4H841.53V176.9H840.04ZM844.07 175.4H848.25V176.9H844.07ZM850.79 175.4H852.28V176.9H850.79ZM857.5 175.4H858.99V176.9H857.5ZM862.87 175.4H865.71V176.9H862.87ZM872.28 175.4H873.77V176.9H872.28ZM874.96 175.4H876.46V176.9H874.96ZM877.65 175.4H879.14V176.9H877.65ZM888.39 175.4H889.89V176.9H888.39ZM901.83 175.4H903.32V176.9H901.83ZM908.54 175.4H910.03V176.9H908.54ZM864.22 176.75H865.71V178.24H864.22ZM869.59 176.75H872.43V178.24H869.59ZM825.27 178.09H826.76V179.58H825.27Z"/><path fill="#33638d" d="M850.79 157.94H852.28V159.43H850.79ZM837.35 159.28H838.85V160.78H837.35ZM841.38 159.28H842.88V160.78H841.38ZM848.1 159.28H849.59V160.78H848.1ZM854.81 159.28H856.31V160.78H854.81ZM864.22 159.28H865.71V160.78H864.22ZM829.29 160.63H830.79V162.12H829.29ZM833.32 160.63H836.16V162.12H833.32ZM837.35 160.63H838.85V162.12H837.35ZM872.28 160.63H875.11V162.12H872.28ZM819.89 161.97H821.39V163.46H819.89ZM823.92 161.97H825.42V163.46H823.92ZM826.61 161.97H828.1V163.46H826.61ZM872.28 161.97H873.77V163.46H872.28ZM876.31 161.97H877.8V163.46H876.31ZM815.86 163.31H817.36V164.81H815.86ZM877.65 163.31H879.14V164.81H877.65ZM885.71 163.31H887.2V164.81H885.71ZM811.83 164.66H813.33V166.15H811.83ZM889.74 164.66H891.23V166.15H889.74ZM893.77 164.66H895.26V166.15H893.77ZM899.14 166H900.63V167.49H899.14ZM901.83 166H903.32V167.49H901.83ZM797.06 167.34H799.9V168.84H797.06ZM901.83 167.34H903.32V168.84H901.83ZM905.85 167.34H908.69V168.84H905.85ZM908.54 168.69H910.03V170.18H908.54ZM912.57 170.03H914.06V171.52H912.57ZM809.15 174.06H810.64V175.55H809.15ZM826.61 174.06H828.1V175.55H826.61ZM838.7 174.06H840.19V175.55H838.7ZM869.59 174.06H871.08V175.55H869.59ZM887.05 174.06H888.54V175.55H887.05ZM892.42 174.06H895.26V175.55H892.42ZM913.91 174.06H915.41V175.55H913.91ZM807.8 175.4H811.98V176.9H807.8ZM813.18 175.4H814.67V176.9H813.18ZM815.86 175.4H817.36V176.9H815.86ZM830.64 175.4H832.13V176.9H830.64ZM838.7 175.4H840.19V176.9H838.7ZM841.38 175.4H842.88V176.9H841.38ZM854.81 175.4H856.31V176.9H854.81ZM860.19 175.4H863.02V176.9H860.19ZM868.25 175.4H869.74V176.9H868.25ZM881.68 175.4H883.17V176.9H881.68ZM891.08 175.4H892.57V176.9H891.08ZM907.2 175.4H908.69V176.9H907.2Z"/><path fill="#2c728e" d="M845.41 157.94H846.91V159.43H845.41ZM836.01 159.28H837.5V160.78H836.01ZM845.41 159.28H846.91V160.78H845.41ZM852.13 159.28H853.62V160.78H852.13ZM836.01 160.63H837.5V162.12H836.01ZM840.04 160.63H841.53V162.12H840.04ZM866.9 160.63H869.74V162.12H866.9ZM822.58 161.97H824.07V163.46H822.58ZM870.93 161.97H872.43V163.46H870.93ZM878.99 161.97H880.48V163.46H878.99ZM811.83 163.31H813.33V164.81H811.83ZM883.02 163.31H884.51V164.81H883.02ZM810.49 164.66H811.98V166.15H810.49ZM807.8 166H809.3V167.49H807.8ZM801.09 167.34H802.58V168.84H801.09ZM904.51 167.34H906V168.84H904.51ZM793.03 168.69H794.52V170.18H793.03ZM913.91 171.37H915.41V172.87H913.91ZM789 174.06H790.49V175.55H789ZM794.37 174.06H795.87V175.55H794.37ZM798.4 174.06H799.9V175.55H798.4ZM810.49 174.06H811.98V175.55H810.49ZM819.89 174.06H824.07V175.55H819.89ZM833.32 174.06H836.16V175.55H833.32ZM840.04 174.06H841.53V175.55H840.04ZM845.41 174.06H846.91V175.55H845.41ZM857.5 174.06H858.99V175.55H857.5ZM868.25 174.06H869.74V175.55H868.25ZM884.36 174.06H885.86V175.55H884.36ZM888.39 174.06H889.89V175.55H888.39ZM895.11 174.06H897.95V175.55H895.11ZM802.43 175.4H803.92V176.9H802.43ZM819.89 175.4H821.39V176.9H819.89ZM823.92 175.4H825.42V176.9H823.92ZM826.61 175.4H828.1V176.9H826.61ZM849.44 175.4H850.94V176.9H849.44ZM853.47 175.4H854.96V176.9H853.47ZM869.59 175.4H871.08V176.9H869.59ZM873.62 175.4H875.11V176.9H873.62ZM900.48 175.4H901.98V176.9H900.48ZM911.23 175.4H912.72V176.9H911.23ZM860.19 176.75H861.68V178.24H860.19Z"/><path fill="#26828e" d="M840.04 159.28H841.53V160.78H840.04ZM857.5 159.28H858.99V160.78H857.5ZM861.53 159.28H863.02V160.78H861.53ZM831.98 160.63H833.47V162.12H831.98ZM846.76 160.63H848.25V162.12H846.76ZM870.93 160.63H872.43V162.12H870.93ZM825.27 161.97H826.76V163.46H825.27ZM825.27 163.31H826.76V164.81H825.27ZM878.99 163.31H880.48V164.81H878.99ZM884.36 163.31H885.86V164.81H884.36ZM814.52 164.66H816.01V166.15H814.52ZM884.36 164.66H887.2V166.15H884.36ZM801.09 166H805.27V167.49H801.09ZM897.8 166H899.29V167.49H897.8ZM903.17 167.34H904.66V168.84H903.17ZM791.69 168.69H793.18V170.18H791.69ZM794.37 168.69H795.87V170.18H794.37ZM789 170.03H790.49V171.52H789ZM915.26 171.37H916.75V172.87H915.26ZM913.91 172.72H916.75V174.21H913.91ZM795.72 174.06H797.21V175.55H795.72ZM802.43 174.06H803.92V175.55H802.43ZM823.92 174.06H825.42V175.55H823.92ZM827.95 174.06H829.44V175.55H827.95ZM837.35 174.06H838.85V175.55H837.35ZM841.38 174.06H842.88V175.55H841.38ZM848.1 174.06H850.94V175.55H848.1ZM853.47 174.06H854.96V175.55H853.47ZM856.16 174.06H857.65V175.55H856.16ZM864.22 174.06H865.71V175.55H864.22ZM872.28 174.06H873.77V175.55H872.28ZM904.51 174.06H910.03V175.55H904.51ZM854.81 176.75H856.31V178.24H854.81Z"/><path fill="#21918c" d="M834.67 159.28H836.16V160.78H834.67ZM849.44 159.28H852.28V160.78H849.44ZM856.16 159.28H857.65V160.78H856.16ZM858.84 159.28H860.34V160.78H858.84ZM862.87 159.28H864.37V160.78H862.87ZM848.1 160.63H849.59V162.12H848.1ZM852.13 160.63H853.62V162.12H852.13ZM857.5 160.63H858.99V162.12H857.5ZM864.22 160.63H865.71V162.12H864.22ZM821.24 161.97H822.73V163.46H821.24ZM827.95 161.97H830.79V163.46H827.95ZM837.35 161.97H838.85V163.46H837.35ZM858.84 161.97H860.34V163.46H858.84ZM873.62 161.97H876.46V163.46H873.62ZM819.89 163.31H822.73V164.81H819.89ZM826.61 163.31H829.44V164.81H826.61ZM874.96 163.31H876.46V164.81H874.96ZM881.68 163.31H883.17V164.81H881.68ZM813.18 164.66H814.67V166.15H813.18ZM888.39 164.66H889.89V166.15H888.39ZM896.45 166H897.95V167.49H896.45ZM799.75 167.34H801.24V168.84H799.75ZM907.2 168.69H908.69V170.18H907.2ZM908.54 170.03H910.03V171.52H908.54ZM912.57 171.37H914.06V172.87H912.57ZM818.55 172.72H820.04V174.21H818.55ZM821.24 172.72H822.73V174.21H821.24ZM840.04 172.72H841.53V174.21H840.04ZM880.33 172.72H881.83V174.21H880.33ZM884.36 172.72H885.86V174.21H884.36ZM887.05 172.72H888.54V174.21H887.05ZM889.74 172.72H891.23V174.21H889.74ZM899.14 172.72H900.63V174.21H899.14ZM901.83 172.72H903.32V174.21H901.83ZM790.34 174.06H793.18V175.55H790.34ZM803.77 174.06H805.27V175.55H803.77ZM813.18 174.06H814.67V175.55H813.18ZM825.27 174.06H826.76V175.55H825.27ZM829.29 174.06H832.13V175.55H829.29ZM836.01 174.06H837.5V175.55H836.01ZM842.73 174.06H844.22V175.55H842.73ZM846.76 174.06H848.25V175.55H846.76ZM850.79 174.06H853.62V175.55H850.79ZM862.87 174.06H864.37V175.55H862.87ZM870.93 174.06H872.43V175.55H870.93ZM880.33 174.06H881.83V175.55H880.33ZM909.88 174.06H912.72V175.55H909.88ZM852.13 175.4H853.62V176.9H852.13ZM856.16 175.4H857.65V176.9H856.16Z"/><path fill="#1fa088" d="M841.38 160.63H844.22V162.12H841.38ZM860.19 160.63H861.68V162.12H860.19ZM830.64 161.97H832.13V163.46H830.64ZM833.32 161.97H836.16V163.46H833.32ZM853.47 161.97H856.31V163.46H853.47ZM866.9 161.97H868.4V163.46H866.9ZM817.21 163.31H818.7V164.81H817.21ZM822.58 163.31H825.42V164.81H822.58ZM836.01 163.31H837.5V164.81H836.01ZM865.56 163.31H867.05V164.81H865.56ZM868.25 163.31H869.74V164.81H868.25ZM872.28 163.31H873.77V164.81H872.28ZM809.15 164.66H810.64V166.15H809.15ZM883.02 164.66H884.51V166.15H883.02ZM891.08 164.66H892.57V166.15H891.08ZM805.12 166H807.95V167.49H805.12ZM809.15 166H810.64V167.49H809.15ZM883.02 166H884.51V167.49H883.02ZM891.08 166H893.92V167.49H891.08ZM803.77 167.34H805.27V168.84H803.77ZM897.8 167.34H899.29V168.84H897.8ZM900.48 167.34H901.98V168.84H900.48ZM797.06 168.69H798.55V170.18H797.06ZM903.17 168.69H906V170.18H903.17ZM877.65 171.37H879.14V172.87H877.65ZM789 172.72H790.49V174.21H789ZM825.27 172.72H826.76V174.21H825.27ZM848.1 172.72H849.59V174.21H848.1ZM852.13 172.72H853.62V174.21H852.13ZM872.28 172.72H880.48V174.21H872.28ZM888.39 172.72H889.89V174.21H888.39ZM799.75 174.06H801.24V175.55H799.75ZM814.52 174.06H816.01V175.55H814.52ZM818.55 174.06H820.04V175.55H818.55ZM831.98 174.06H833.47V175.55H831.98ZM854.81 174.06H856.31V175.55H854.81ZM861.53 174.06H863.02V175.55H861.53ZM866.9 174.06H868.4V175.55H866.9ZM874.96 174.06H877.8V175.55H874.96ZM901.83 174.06H903.32V175.55H901.83ZM912.57 174.06H914.06V175.55H912.57Z"/><path fill="#28ae80" d="M838.7 160.63H840.19V162.12H838.7ZM844.07 160.63H846.91V162.12H844.07ZM849.44 160.63H852.28V162.12H849.44ZM853.47 160.63H854.96V162.12H853.47ZM856.16 160.63H857.65V162.12H856.16ZM858.84 160.63H860.34V162.12H858.84ZM831.98 161.97H833.47V163.46H831.98ZM838.7 161.97H840.19V163.46H838.7ZM846.76 161.97H848.25V163.46H846.76ZM849.44 161.97H850.94V163.46H849.44ZM869.59 161.97H871.08V163.46H869.59ZM829.29 163.31H830.79V164.81H829.29ZM831.98 163.31H833.47V164.81H831.98ZM869.59 163.31H871.08V164.81H869.59ZM880.33 163.31H881.83V164.81H880.33ZM815.86 164.66H817.36V166.15H815.86ZM873.62 164.66H875.11V166.15H873.62ZM877.65 164.66H879.14V166.15H877.65ZM880.33 164.66H881.83V166.15H880.33ZM811.83 166H813.33V167.49H811.83ZM887.05 166H889.89V167.49H887.05ZM893.77 166H895.26V167.49H893.77ZM802.43 167.34H803.92V168.84H802.43ZM806.46 167.34H807.95V168.84H806.46ZM893.77 167.34H895.26V168.84H893.77ZM795.72 168.69H797.21V170.18H795.72ZM798.4 168.69H799.9V170.18H798.4ZM905.85 168.69H907.35V170.18H905.85ZM791.69 170.03H793.18V171.52H791.69ZM909.88 170.03H912.72V171.52H909.88ZM789 171.37H790.49V172.87H789ZM873.62 171.37H875.11V172.87H873.62ZM891.08 171.37H892.57V172.87H891.08ZM911.23 171.37H912.72V172.87H911.23ZM790.34 172.72H793.18V174.21H790.34ZM802.43 172.72H803.92V174.21H802.43ZM810.49 172.72H811.98V174.21H810.49ZM814.52 172.72H816.01V174.21H814.52ZM827.95 172.72H829.44V174.21H827.95ZM834.67 172.72H836.16V174.21H834.67ZM841.38 172.72H844.22V174.21H841.38ZM846.76 172.72H848.25V174.21H846.76ZM860.19 172.72H861.68V174.21H860.19ZM881.68 172.72H883.17V174.21H881.68ZM891.08 172.72H892.57V174.21H891.08ZM893.77 172.72H895.26V174.21H893.77ZM896.45 172.72H897.95V174.21H896.45ZM908.54 172.72H910.03V174.21H908.54ZM911.23 172.72H912.72V174.21H911.23ZM793.03 174.06H794.52V175.55H793.03ZM801.09 174.06H802.58V175.55H801.09ZM805.12 174.06H806.61V175.55H805.12ZM807.8 174.06H809.3V175.55H807.8ZM811.83 174.06H813.33V175.55H811.83ZM860.19 174.06H861.68V175.55H860.19ZM865.56 174.06H867.05V175.55H865.56Z"/><path fill="#3fbc73" d="M854.81 160.63H856.31V162.12H854.81ZM862.87 160.63H864.37V162.12H862.87ZM865.56 160.63H867.05V162.12H865.56ZM850.79 161.97H853.62V163.46H850.79ZM860.19 161.97H867.05V163.46H860.19ZM868.25 161.97H869.74V163.46H868.25ZM818.55 163.31H820.04V164.81H818.55ZM862.87 163.31H864.37V164.81H862.87ZM866.9 163.31H868.4V164.81H866.9ZM876.31 163.31H877.8V164.81H876.31ZM818.55 164.66H820.04V166.15H818.55ZM822.58 164.66H826.76V166.15H822.58ZM881.68 164.66H883.17V166.15H881.68ZM887.05 164.66H888.54V166.15H887.05ZM810.49 166H811.98V167.49H810.49ZM814.52 166H816.01V167.49H814.52ZM809.15 167.34H810.64V168.84H809.15ZM891.08 167.34H892.57V168.84H891.08ZM799.75 168.69H801.24V170.18H799.75ZM790.34 170.03H791.84V171.52H790.34ZM794.37 170.03H795.87V171.52H794.37ZM826.61 171.37H828.1V172.87H826.61ZM836.01 171.37H837.5V172.87H836.01ZM888.39 171.37H891.23V172.87H888.39ZM893.77 171.37H895.26V172.87H893.77ZM896.45 171.37H897.95V172.87H896.45ZM793.03 172.72H794.52V174.21H793.03ZM801.09 172.72H802.58V174.21H801.09ZM803.77 172.72H805.27V174.21H803.77ZM817.21 172.72H818.7V174.21H817.21ZM819.89 172.72H821.39V174.21H819.89ZM823.92 172.72H825.42V174.21H823.92ZM826.61 172.72H828.1V174.21H826.61ZM831.98 172.72H833.47V174.21H831.98ZM838.7 172.72H840.19V174.21H838.7ZM844.07 172.72H845.56V174.21H844.07ZM857.5 172.72H858.99V174.21H857.5ZM864.22 172.72H865.71V174.21H864.22ZM868.25 172.72H871.08V174.21H868.25ZM883.02 172.72H884.51V174.21H883.02ZM885.71 172.72H887.2V174.21H885.71ZM892.42 172.72H893.92V174.21H892.42ZM897.8 172.72H899.29V174.21H897.8ZM907.2 172.72H908.69V174.21H907.2ZM912.57 172.72H914.06V174.21H912.57Z"/><path fill="#5ec962" d="M836.01 161.97H837.5V163.46H836.01ZM840.04 161.97H842.88V163.46H840.04ZM857.5 161.97H858.99V163.46H857.5ZM833.32 163.31H834.82V164.81H833.32ZM838.7 163.31H840.19V164.81H838.7ZM870.93 163.31H872.43V164.81H870.93ZM873.62 163.31H875.11V164.81H873.62ZM819.89 164.66H822.73V166.15H819.89ZM878.99 164.66H880.48V166.15H878.99ZM813.18 166H814.67V167.49H813.18ZM817.21 166H818.7V167.49H817.21ZM889.74 166H891.23V167.49H889.74ZM805.12 167.34H806.61V168.84H805.12ZM895.11 167.34H896.6V168.84H895.11ZM899.14 168.69H903.32V170.18H899.14ZM795.72 170.03H797.21V171.52H795.72ZM830.64 171.37H832.13V172.87H830.64ZM837.35 171.37H838.85V172.87H837.35ZM840.04 171.37H841.53V172.87H840.04ZM869.59 171.37H871.08V172.87H869.59ZM878.99 171.37H880.48V172.87H878.99ZM884.36 171.37H885.86V172.87H884.36ZM900.48 171.37H901.98V172.87H900.48ZM794.37 172.72H797.21V174.21H794.37ZM807.8 172.72H810.64V174.21H807.8ZM815.86 172.72H817.36V174.21H815.86ZM822.58 172.72H824.07V174.21H822.58ZM830.64 172.72H832.13V174.21H830.64ZM836.01 172.72H838.85V174.21H836.01ZM845.41 172.72H846.91V174.21H845.41ZM854.81 172.72H856.31V174.21H854.81ZM858.84 172.72H860.34V174.21H858.84ZM861.53 172.72H864.37V174.21H861.53ZM866.9 172.72H868.4V174.21H866.9ZM903.17 172.72H904.66V174.21H903.17ZM797.06 174.06H798.55V175.55H797.06ZM815.86 174.06H817.36V175.55H815.86ZM858.84 174.06H860.34V175.55H858.84Z"/><path fill="#84d44b" d="M845.41 161.97H846.91V163.46H845.41ZM848.1 161.97H849.59V163.46H848.1ZM856.16 161.97H857.65V163.46H856.16ZM830.64 163.31H832.13V164.81H830.64ZM837.35 163.31H838.85V164.81H837.35ZM817.21 164.66H818.7V166.15H817.21ZM826.61 164.66H830.79V166.15H826.61ZM807.8 167.34H809.3V168.84H807.8ZM899.14 167.34H900.63V168.84H899.14ZM907.2 170.03H908.69V171.52H907.2ZM790.34 171.37H791.84V172.87H790.34ZM822.58 171.37H826.76V172.87H822.58ZM831.98 171.37H833.47V172.87H831.98ZM834.67 171.37H836.16V172.87H834.67ZM838.7 171.37H840.19V172.87H838.7ZM842.73 171.37H844.22V172.87H842.73ZM845.41 171.37H846.91V172.87H845.41ZM865.56 171.37H867.05V172.87H865.56ZM868.25 171.37H869.74V172.87H868.25ZM870.93 171.37H872.43V172.87H870.93ZM892.42 171.37H893.92V172.87H892.42ZM899.14 171.37H900.63V172.87H899.14ZM797.06 172.72H799.9V174.21H797.06ZM805.12 172.72H807.95V174.21H805.12ZM811.83 172.72H814.67V174.21H811.83ZM829.29 172.72H830.79V174.21H829.29ZM833.32 172.72H834.82V174.21H833.32ZM849.44 172.72H852.28V174.21H849.44ZM853.47 172.72H854.96V174.21H853.47ZM856.16 172.72H857.65V174.21H856.16ZM904.51 172.72H907.35V174.21H904.51Z"/><path fill="#addc30" d="M842.73 161.97H844.22V163.46H842.73ZM834.67 163.31H836.16V164.81H834.67ZM840.04 163.31H863.02V164.81H840.04ZM830.64 164.66H836.16V166.15H830.64ZM866.9 164.66H873.77V166.15H866.9ZM819.89 166H825.42V167.49H819.89ZM876.31 166H883.17V167.49H876.31ZM811.83 167.34H816.01V168.84H811.83ZM887.05 167.34H891.23V168.84H887.05ZM896.45 167.34H897.95V168.84H896.45ZM802.43 168.69H809.3V170.18H802.43ZM892.42 168.69H899.29V170.18H892.42ZM797.06 170.03H801.24V171.52H797.06ZM877.65 170.03H889.89V171.52H877.65ZM901.83 170.03H907.35V171.52H901.83ZM791.69 171.37H794.52V172.87H791.69ZM803.77 171.37H822.73V172.87H803.77ZM827.95 171.37H829.44V172.87H827.95ZM833.32 171.37H834.82V172.87H833.32ZM846.76 171.37H865.71V172.87H846.76ZM866.9 171.37H868.4V172.87H866.9ZM876.31 171.37H877.8V172.87H876.31ZM880.33 171.37H881.83V172.87H880.33ZM885.71 171.37H888.54V172.87H885.71ZM895.11 171.37H896.6V172.87H895.11ZM897.8 171.37H899.29V172.87H897.8ZM901.83 171.37H911.38V172.87H901.83ZM799.75 172.72H801.24V174.21H799.75ZM865.56 172.72H867.05V174.21H865.56ZM870.93 172.72H872.43V174.21H870.93ZM895.11 172.72H896.6V174.21H895.11ZM900.48 172.72H901.98V174.21H900.48Z"/><path fill="#d8e219" d="M844.07 161.97H845.56V163.46H844.07ZM864.22 163.31H865.71V164.81H864.22ZM836.01 164.66H867.05V166.15H836.01ZM874.96 164.66H877.8V166.15H874.96ZM815.86 166H817.36V167.49H815.86ZM825.27 166H841.53V167.49H825.27ZM861.53 166H876.46V167.49H861.53ZM885.71 166H887.2V167.49H885.71ZM810.49 167.34H811.98V168.84H810.49ZM815.86 167.34H829.44V168.84H815.86ZM873.62 167.34H887.2V168.84H873.62ZM801.09 168.69H802.58V170.18H801.09ZM809.15 168.69H818.7V170.18H809.15ZM834.67 168.69H841.53V170.18H834.67ZM870.93 168.69H892.57V170.18H870.93ZM793.03 170.03H794.52V171.52H793.03ZM801.09 170.03H877.8V171.52H801.09ZM889.74 170.03H901.98V171.52H889.74ZM794.37 171.37H803.92V172.87H794.37ZM829.29 171.37H830.79V172.87H829.29ZM841.38 171.37H842.88V172.87H841.38ZM844.07 171.37H845.56V172.87H844.07ZM872.28 171.37H873.77V172.87H872.28ZM874.96 171.37H876.46V172.87H874.96ZM881.68 171.37H884.51V172.87H881.68ZM909.88 172.72H911.38V174.21H909.88Z"/><path fill="#fde725" d="M818.55 166H820.04V167.49H818.55ZM841.38 166H861.68V167.49H841.38ZM884.36 166H885.86V167.49H884.36ZM829.29 167.34H873.77V168.84H829.29ZM892.42 167.34H893.92V168.84H892.42ZM818.55 168.69H834.82V170.18H818.55ZM841.38 168.69H871.08V170.18H841.38Z"/></g>
<rect x="953.8" y="33.9" width="127.6" height="80.6" fill="#440154"/>
<g shape-rendering="crispEdges"><path fill="#48186a" d="M968.81 33.9H976.52V38.84H968.81ZM953.8 43.38H961.51V48.32H953.8ZM1036.36 86.05H1044.07V90.99H1036.36ZM998.84 90.79H1006.54V95.74H998.84Z"/><path fill="#472d7b" d="M961.31 38.64H969.01V43.58H961.31ZM953.8 67.09H961.51V72.03H953.8ZM1066.39 71.83H1081.6V76.77H1066.39ZM976.32 76.57H984.02V81.51H976.32ZM991.33 81.31H999.04V86.25H991.33ZM1021.35 100.28H1029.06V105.22H1021.35ZM983.82 105.02H991.53V109.96H983.82ZM1051.38 109.76H1059.08V114.7H1051.38Z"/><path fill="#424086" d="M1073.89 67.09H1081.6V72.03H1073.89ZM983.82 76.57H991.53V81.51H983.82ZM983.82 81.31H991.53V86.25H983.82ZM1036.36 81.31H1044.07V86.25H1036.36ZM1006.34 109.76H1014.05V114.7H1006.34ZM1028.86 109.76H1036.56V114.7H1028.86Z"/><path fill="#3b528b" d="M953.8 48.12H961.51V53.06H953.8ZM953.8 62.35H961.51V67.29H953.8ZM1058.88 71.83H1066.59V76.77H1058.88ZM968.81 76.57H976.52V81.51H968.81ZM1021.35 95.54H1029.06V100.48H1021.35Z"/><path fill="#33638d" d="M968.81 38.64H976.52V43.58H968.81ZM961.31 67.09H969.01V72.03H961.31ZM976.32 71.83H984.02V76.77H976.32ZM1043.87 76.57H1051.58V81.51H1043.87ZM998.84 86.05H1006.54V90.99H998.84ZM1028.86 86.05H1036.56V90.99H1028.86ZM1013.85 109.76H1021.55V114.7H1013.85Z"/><path fill="#2c728e" d="M961.31 43.38H969.01V48.32H961.31ZM1066.39 67.09H1074.09V72.03H1066.39ZM968.81 71.83H976.52V76.77H968.81ZM1051.38 71.83H1059.08V76.77H1051.38ZM991.33 76.57H999.04V81.51H991.33ZM1028.86 81.31H1036.56V86.25H1028.86ZM1021.35 90.79H1029.06V95.74H1021.35ZM1006.34 100.28H1014.05V105.22H1006.34ZM1006.34 105.02H1021.55V109.96H1006.34Z"/><path fill="#26828e" d="M976.32 33.9H984.02V38.84H976.32ZM1036.36 71.83H1051.58V76.77H1036.36ZM1028.86 76.57H1044.07V81.51H1028.86Z"/><path fill="#21918c" d="M1073.89 33.9H1081.6V38.84H1073.89ZM976.32 38.64H984.02V43.58H976.32ZM1073.89 38.64H1081.6V43.58H1073.89ZM1073.89 57.61H1081.6V62.55H1073.89ZM1073.89 62.35H1081.6V67.29H1073.89ZM1058.88 67.09H1066.59V72.03H1058.88ZM983.82 71.83H991.53V76.77H983.82ZM1021.35 86.05H1029.06V90.99H1021.35Z"/><path fill="#1fa088" d="M1066.39 33.9H1074.09V38.84H1066.39ZM1066.39 38.64H1074.09V43.58H1066.39ZM1073.89 43.38H1081.6V48.32H1073.89ZM961.31 48.12H969.01V53.06H961.31ZM1073.89 48.12H1081.6V53.06H1073.89ZM961.31 62.35H969.01V67.29H961.31ZM1043.87 67.09H1059.08V72.03H1043.87ZM998.84 81.31H1006.54V86.25H998.84Z"/><path fill="#28ae80" d="M968.81 43.38H976.52V48.32H968.81ZM953.8 52.86H961.51V57.81H953.8ZM953.8 57.61H961.51V62.55H953.8ZM1066.39 62.35H1074.09V67.29H1066.39ZM968.81 67.09H991.53V72.03H968.81ZM991.33 71.83H999.04V76.77H991.33ZM998.84 76.57H1006.54V81.51H998.84ZM1006.34 90.79H1014.05V95.74H1006.34ZM1006.34 95.54H1014.05V100.48H1006.34ZM1013.85 100.28H1021.55V105.22H1013.85Z"/><path fill="#3fbc73" d="M1051.38 33.9H1066.59V38.84H1051.38ZM1058.88 43.38H1074.09V48.32H1058.88ZM1066.39 48.12H1074.09V53.06H1066.39ZM1073.89 52.86H1081.6V57.81H1073.89ZM1036.36 67.09H1044.07V72.03H1036.36Z"/><path fill="#5ec962" d="M983.82 33.9H991.53V38.84H983.82ZM1043.87 33.9H1051.58V38.84H1043.87ZM961.31 52.86H969.01V57.81H961.31ZM961.31 57.61H969.01V62.55H961.31ZM968.81 62.35H976.52V67.29H968.81ZM1058.88 62.35H1066.59V67.29H1058.88ZM1028.86 71.83H1036.56V76.77H1028.86ZM1021.35 81.31H1029.06V86.25H1021.35ZM1013.85 95.54H1021.55V100.48H1013.85Z"/><path fill="#84d44b" d="M991.33 33.9H999.04V38.84H991.33ZM983.82 38.64H991.53V43.58H983.82ZM1051.38 38.64H1066.59V43.58H1051.38ZM976.32 43.38H984.02V48.32H976.32ZM968.81 48.12H976.52V53.06H968.81ZM1066.39 52.86H1074.09V57.81H1066.39ZM976.32 62.35H984.02V67.29H976.32ZM1051.38 62.35H1059.08V67.29H1051.38ZM991.33 67.09H999.04V72.03H991.33ZM998.84 71.83H1006.54V76.77H998.84ZM1021.35 76.57H1029.06V81.51H1021.35ZM1013.85 90.79H1021.55V95.74H1013.85Z"/><path fill="#addc30" d="M976.32 48.12H984.02V53.06H976.32ZM1058.88 48.12H1066.59V53.06H1058.88ZM968.81 52.86H976.52V57.81H968.81ZM968.81 57.61H984.02V62.55H968.81ZM1066.39 57.61H1074.09V62.55H1066.39ZM983.82 62.35H991.53V67.29H983.82ZM1043.87 62.35H1051.58V67.29H1043.87ZM1006.34 86.05H1014.05V90.99H1006.34Z"/><path fill="#d8e219" d="M1036.36 33.9H1044.07V38.84H1036.36ZM991.33 38.64H999.04V43.58H991.33ZM1043.87 38.64H1051.58V43.58H1043.87ZM983.82 43.38H999.04V48.32H983.82ZM1051.38 43.38H1059.08V48.32H1051.38ZM983.82 48.12H999.04V53.06H983.82ZM976.32 52.86H999.04V57.81H976.32ZM1058.88 52.86H1066.59V57.81H1058.88ZM983.82 57.61H999.04V62.55H983.82ZM1058.88 57.61H1066.59V62.55H1058.88ZM991.33 62.35H999.04V67.29H991.33ZM1036.36 62.35H1044.07V67.29H1036.36ZM998.84 67.09H1006.54V72.03H998.84ZM1028.86 67.09H1036.56V72.03H1028.86ZM1021.35 71.83H1029.06V76.77H1021.35ZM1006.34 76.57H1014.05V81.51H1006.34ZM1006.34 81.31H1021.55V86.25H1006.34ZM1013.85 86.05H1021.55V90.99H1013.85Z"/><path fill="#fde725" d="M998.84 33.9H1036.56V38.84H998.84ZM998.84 38.64H1044.07V43.58H998.84ZM998.84 43.38H1051.58V48.32H998.84ZM998.84 48.12H1059.08V53.06H998.84ZM998.84 52.86H1059.08V57.81H998.84ZM998.84 57.61H1059.08V62.55H998.84ZM998.84 62.35H1036.56V67.29H998.84ZM1006.34 67.09H1029.06V72.03H1006.34ZM1006.34 71.83H1021.55V76.77H1006.34ZM1013.85 76.57H1021.55V81.51H1013.85Z"/></g>
<rect x="953.8" y="125.7" width="127.6" height="80.6" fill="#440154"/>
<g shape-rendering="crispEdges"><path fill="#48186a" d="M1015.59 125.7H1017.08V127.19H1015.59ZM1008.87 127.04H1010.36V128.54H1008.87ZM1020.96 128.39H1023.79V129.88H1020.96ZM1007.53 129.73H1009.02V131.22H1007.53ZM1023.64 131.07H1025.14V132.57H1023.64ZM1030.36 131.07H1031.85V132.57H1030.36ZM999.47 132.42H1000.96V133.91H999.47ZM1003.5 132.42H1006.33V133.91H1003.5ZM1029.02 132.42H1030.51V133.91H1029.02ZM995.44 133.76H996.93V135.25H995.44ZM994.09 135.1H995.59V136.6H994.09ZM1038.42 135.1H1039.91V136.6H1038.42ZM988.72 136.45H990.22V137.94H988.72ZM991.41 136.45H992.9V137.94H991.41ZM995.44 136.45H996.93V137.94H995.44ZM1037.08 136.45H1039.91V137.94H1037.08ZM986.04 137.79H987.53V139.28H986.04ZM1042.45 137.79H1043.94V139.28H1042.45ZM1045.13 139.13H1046.63V140.63H1045.13ZM979.32 140.48H980.81V141.97H979.32ZM986.04 140.48H987.53V141.97H986.04ZM980.66 141.82H982.16V143.31H980.66ZM1050.51 141.82H1053.34V143.31H1050.51ZM1053.19 143.16H1056.03V144.66H1053.19ZM975.29 144.51H976.78V146H975.29ZM1059.91 145.85H1061.4V147.34H1059.91ZM972.6 147.19H975.44V148.69H972.6ZM960.52 148.54H962.01V150.03H960.52ZM1065.28 148.54H1068.12V150.03H1065.28ZM1062.6 149.88H1064.09V151.37H1062.6ZM1066.63 149.88H1068.12V151.37H1066.63ZM1070.65 149.88H1072.15V151.37H1070.65ZM956.49 152.57H957.98V154.06H956.49ZM960.52 152.57H962.01V154.06H960.52ZM1069.31 152.57H1070.8V154.06H1069.31ZM1072 152.57H1073.49V154.06H1072ZM1077.37 152.57H1078.86V154.06H1077.37ZM960.52 153.91H962.01V155.4H960.52ZM964.55 153.91H966.04V155.4H964.55ZM971.26 153.91H972.75V155.4H971.26ZM1076.03 153.91H1077.52V155.4H1076.03ZM956.49 155.25H957.98V156.75H956.49ZM967.23 155.25H968.72V156.75H967.23ZM972.6 155.25H974.1V156.75H972.6ZM1062.6 155.25H1064.09V156.75H1062.6ZM1065.28 155.25H1068.12V156.75H1065.28ZM1069.31 155.25H1072.15V156.75H1069.31ZM1074.68 155.25H1076.18V156.75H1074.68ZM1061.25 156.6H1062.75V158.09H1061.25ZM1065.28 156.6H1066.78V158.09H1065.28ZM976.63 157.94H978.13V159.43H976.63ZM980.66 157.94H982.16V159.43H980.66ZM1055.88 157.94H1058.72V159.43H1055.88ZM1063.94 157.94H1065.43V159.43H1063.94ZM1067.97 157.94H1069.46V159.43H1067.97ZM987.38 159.28H988.87V160.78H987.38ZM1049.16 159.28H1050.66V160.78H1049.16ZM1053.19 159.28H1054.69V160.78H1053.19ZM984.69 160.63H986.19V162.12H984.69ZM1045.13 161.97H1046.63V163.46H1045.13ZM1061.25 161.97H1062.75V163.46H1061.25ZM992.75 163.31H994.24V164.81H992.75ZM1037.08 164.66H1038.57V166.15H1037.08ZM1003.5 168.69H1006.33V170.18H1003.5ZM1027.67 168.69H1029.17V170.18H1027.67ZM1030.36 168.69H1031.85V170.18H1030.36ZM1029.02 170.03H1030.51V171.52H1029.02ZM1006.18 172.72H1007.68V174.21H1006.18ZM1026.33 172.72H1027.82V174.21H1026.33ZM1006.18 174.06H1007.68V175.55H1006.18ZM1026.33 174.06H1027.82V175.55H1026.33ZM1026.33 176.75H1027.82V178.24H1026.33ZM1023.64 183.46H1025.14V184.96H1023.64ZM1008.87 184.81H1010.36V186.3H1008.87ZM1023.64 184.81H1025.14V186.3H1023.64ZM1011.56 188.84H1013.05V190.33H1011.56ZM1011.56 192.87H1013.05V194.36H1011.56ZM1022.3 192.87H1023.79V194.36H1022.3ZM1020.96 194.21H1022.45V195.7H1020.96ZM1012.9 198.24H1014.39V199.73H1012.9ZM1014.24 199.58H1015.74V201.08H1014.24ZM1020.96 200.93H1022.45V202.42H1020.96ZM1019.61 202.27H1021.11V203.76H1019.61ZM1018.27 203.61H1019.76V205.11H1018.27ZM1016.93 204.96H1018.42V206.45H1016.93ZM1019.61 204.96H1021.11V206.45H1019.61Z"/><path fill="#472d7b" d="M1008.87 128.39H1010.36V129.88H1008.87ZM1011.56 128.39H1013.05V129.88H1011.56ZM1016.93 128.39H1019.76V129.88H1016.93ZM1004.84 129.73H1006.33V131.22H1004.84ZM1008.87 129.73H1010.36V131.22H1008.87ZM1000.81 131.07H1002.3V132.57H1000.81ZM1031.7 132.42H1033.2V133.91H1031.7ZM1031.7 133.76H1033.2V135.25H1031.7ZM1034.39 133.76H1035.88V135.25H1034.39ZM992.75 135.1H994.24V136.6H992.75ZM999.47 135.1H1000.96V136.6H999.47ZM1039.76 135.1H1041.26V136.6H1039.76ZM1039.76 137.79H1041.26V139.28H1039.76ZM987.38 139.13H990.22V140.63H987.38ZM1039.76 139.13H1041.26V140.63H1039.76ZM982.01 141.82H984.84V143.31H982.01ZM977.98 143.16H980.81V144.66H977.98ZM982.01 143.16H983.5V144.66H982.01ZM984.69 143.16H986.19V144.66H984.69ZM976.63 144.51H978.13V146H976.63ZM1051.85 144.51H1054.69V146H1051.85ZM976.63 145.85H978.13V147.34H976.63ZM969.92 147.19H971.41V148.69H969.92ZM1061.25 148.54H1062.75V150.03H1061.25ZM964.55 149.88H967.38V151.37H964.55ZM1063.94 149.88H1066.78V151.37H1063.94ZM965.89 151.22H967.38V152.72H965.89ZM972.6 151.22H974.1V152.72H972.6ZM1067.97 151.22H1069.46V152.72H1067.97ZM1070.65 151.22H1072.15V152.72H1070.65ZM963.2 152.57H964.7V154.06H963.2ZM967.23 152.57H968.72V154.06H967.23ZM972.6 152.57H974.1V154.06H972.6ZM1070.65 152.57H1072.15V154.06H1070.65ZM965.89 153.91H967.38V155.4H965.89ZM968.57 153.91H970.07V155.4H968.57ZM976.63 155.25H978.13V156.75H976.63ZM972.6 156.6H974.1V158.09H972.6ZM979.32 156.6H980.81V158.09H979.32ZM1059.91 156.6H1061.4V158.09H1059.91ZM1062.6 156.6H1064.09V158.09H1062.6ZM982.01 157.94H983.5V159.43H982.01ZM1053.19 157.94H1054.69V159.43H1053.19ZM1062.6 157.94H1064.09V159.43H1062.6ZM980.66 159.28H983.5V160.78H980.66ZM1051.85 159.28H1053.34V160.78H1051.85ZM991.41 160.63H992.9V162.12H991.41ZM1045.13 160.63H1046.63V162.12H1045.13ZM1041.11 161.97H1042.6V163.46H1041.11ZM998.12 163.31H999.62V164.81H998.12ZM998.12 164.66H999.62V166.15H998.12ZM999.47 166H1002.3V167.49H999.47ZM1033.05 166H1034.54V167.49H1033.05ZM1030.36 167.34H1031.85V168.84H1030.36ZM1029.02 171.37H1030.51V172.87H1029.02ZM1007.53 174.06H1009.02V175.55H1007.53ZM1007.53 176.75H1009.02V178.24H1007.53ZM1024.99 176.75H1026.48V178.24H1024.99ZM1024.99 184.81H1026.48V186.3H1024.99ZM1023.64 186.15H1025.14V187.64H1023.64ZM1023.64 188.84H1025.14V190.33H1023.64ZM1022.3 191.52H1023.79V193.02H1022.3ZM1012.9 195.55H1014.39V197.05H1012.9ZM1020.96 195.55H1022.45V197.05H1020.96ZM1015.59 202.27H1017.08V203.76H1015.59Z"/><path fill="#424086" d="M1016.93 127.04H1018.42V128.54H1016.93ZM1024.99 129.73H1026.48V131.22H1024.99ZM999.47 131.07H1000.96V132.57H999.47ZM1004.84 131.07H1010.36V132.57H1004.84ZM1026.33 131.07H1029.17V132.57H1026.33ZM998.12 132.42H999.62V133.91H998.12ZM1000.81 132.42H1003.65V133.91H1000.81ZM1026.33 132.42H1027.82V133.91H1026.33ZM1000.81 133.76H1002.3V135.25H1000.81ZM995.44 135.1H996.93V136.6H995.44ZM1035.73 135.1H1037.23V136.6H1035.73ZM994.09 136.45H995.59V137.94H994.09ZM1039.76 136.45H1041.26V137.94H1039.76ZM987.38 137.79H990.22V139.28H987.38ZM992.75 137.79H994.24V139.28H992.75ZM1041.11 137.79H1042.6V139.28H1041.11ZM986.04 139.13H987.53V140.63H986.04ZM994.09 139.13H995.59V140.63H994.09ZM1042.45 139.13H1043.94V140.63H1042.45ZM983.35 140.48H984.84V141.97H983.35ZM1043.79 140.48H1045.28V141.97H1043.79ZM1047.82 140.48H1049.31V141.97H1047.82ZM1051.85 143.16H1053.34V144.66H1051.85ZM1054.54 144.51H1056.03V146H1054.54ZM977.98 145.85H979.47V147.34H977.98ZM982.01 145.85H983.5V147.34H982.01ZM971.26 148.54H974.1V150.03H971.26ZM968.57 149.88H970.07V151.37H968.57ZM967.23 151.22H968.72V152.72H967.23ZM1061.25 151.22H1062.75V152.72H1061.25ZM1066.63 151.22H1068.12V152.72H1066.63ZM957.83 152.57H959.32V154.06H957.83ZM971.26 152.57H972.75V154.06H971.26ZM975.29 152.57H976.78V154.06H975.29ZM963.2 153.91H964.7V155.4H963.2ZM973.95 153.91H975.44V155.4H973.95ZM1065.28 153.91H1066.78V155.4H1065.28ZM1067.97 153.91H1069.46V155.4H1067.97ZM975.29 155.25H976.78V156.75H975.29ZM1059.91 155.25H1061.4V156.75H1059.91ZM968.57 156.6H970.07V158.09H968.57ZM976.63 156.6H978.13V158.09H976.63ZM984.69 157.94H986.19V159.43H984.69ZM1047.82 157.94H1049.31V159.43H1047.82ZM1059.91 157.94H1061.4V159.43H1059.91ZM1047.82 159.28H1049.31V160.78H1047.82ZM1039.76 161.97H1041.26V163.46H1039.76ZM1033.05 163.31H1035.88V164.81H1033.05ZM1029.02 164.66H1030.51V166.15H1029.02ZM1034.39 164.66H1035.88V166.15H1034.39ZM1002.15 167.34H1003.65V168.84H1002.15ZM1004.84 167.34H1006.33V168.84H1004.84ZM1027.67 167.34H1030.51V168.84H1027.67ZM1006.18 171.37H1007.68V172.87H1006.18ZM1023.64 182.12H1025.14V183.61H1023.64ZM1022.3 187.49H1023.79V188.99H1022.3ZM1022.3 190.18H1023.79V191.67H1022.3ZM1011.56 191.52H1013.05V193.02H1011.56ZM1012.9 194.21H1014.39V195.7H1012.9ZM1020.96 196.9H1022.45V198.39H1020.96ZM1018.27 199.58H1019.76V201.08H1018.27Z"/><path fill="#3b528b" d="M1015.59 127.04H1017.08V128.54H1015.59ZM1010.21 128.39H1011.71V129.88H1010.21ZM1012.9 128.39H1017.08V129.88H1012.9ZM1019.61 128.39H1021.11V129.88H1019.61ZM1011.56 129.73H1013.05V131.22H1011.56ZM1018.27 129.73H1019.76V131.22H1018.27ZM1027.67 132.42H1029.17V133.91H1027.67ZM1002.15 133.76H1003.65V135.25H1002.15ZM1035.73 133.76H1037.23V135.25H1035.73ZM996.78 135.1H998.27V136.6H996.78ZM1034.39 135.1H1035.88V136.6H1034.39ZM998.12 136.45H999.62V137.94H998.12ZM1034.39 136.45H1035.88V137.94H1034.39ZM996.78 137.79H998.27V139.28H996.78ZM1038.42 137.79H1039.91V139.28H1038.42ZM990.07 139.13H991.56V140.63H990.07ZM987.38 140.48H988.87V141.97H987.38ZM991.41 140.48H992.9V141.97H991.41ZM1041.11 140.48H1042.6V141.97H1041.11ZM988.72 141.82H990.22V143.31H988.72ZM983.35 143.16H984.84V144.66H983.35ZM986.04 143.16H987.53V144.66H986.04ZM980.66 144.51H982.16V146H980.66ZM983.35 144.51H984.84V146H983.35ZM979.32 145.85H980.81V147.34H979.32ZM1054.54 145.85H1056.03V147.34H1054.54ZM1057.22 145.85H1058.72V147.34H1057.22ZM976.63 147.19H979.47V148.69H976.63ZM973.95 148.54H975.44V150.03H973.95ZM976.63 148.54H978.13V150.03H976.63ZM969.92 149.88H971.41V151.37H969.92ZM972.6 149.88H975.44V151.37H972.6ZM1057.22 149.88H1061.4V151.37H1057.22ZM963.2 151.22H964.7V152.72H963.2ZM968.57 151.22H970.07V152.72H968.57ZM1062.6 151.22H1065.43V152.72H1062.6ZM964.55 152.57H966.04V154.06H964.55ZM968.57 152.57H971.41V154.06H968.57ZM1066.63 152.57H1068.12V154.06H1066.63ZM969.92 153.91H971.41V155.4H969.92ZM976.63 153.91H978.13V155.4H976.63ZM1062.6 153.91H1065.43V155.4H1062.6ZM977.98 155.25H979.47V156.75H977.98ZM980.66 155.25H982.16V156.75H980.66ZM980.66 156.6H983.5V158.09H980.66ZM1055.88 156.6H1058.72V158.09H1055.88ZM983.35 157.94H984.84V159.43H983.35ZM1050.51 157.94H1053.34V159.43H1050.51ZM1054.54 157.94H1056.03V159.43H1054.54ZM990.07 159.28H991.56V160.78H990.07ZM992.75 160.63H994.24V162.12H992.75ZM1039.76 160.63H1041.26V162.12H1039.76ZM1042.45 160.63H1043.94V162.12H1042.45ZM994.09 161.97H995.59V163.46H994.09ZM1035.73 161.97H1037.23V163.46H1035.73ZM1038.42 161.97H1039.91V163.46H1038.42ZM999.47 163.31H1000.96V164.81H999.47ZM1002.15 166H1003.65V167.49H1002.15ZM1003.5 167.34H1004.99V168.84H1003.5ZM1024.99 171.37H1027.82V172.87H1024.99ZM1007.53 175.4H1009.02V176.9H1007.53ZM1008.87 178.09H1010.36V179.58H1008.87ZM1024.99 178.09H1026.48V179.58H1024.99ZM1010.21 186.15H1011.71V187.64H1010.21ZM1012.9 192.87H1014.39V194.36H1012.9ZM1015.59 200.93H1017.08V202.42H1015.59ZM1018.27 200.93H1019.76V202.42H1018.27ZM1018.27 202.27H1019.76V203.76H1018.27Z"/><path fill="#33638d" d="M1010.21 129.73H1011.71V131.22H1010.21ZM1015.59 129.73H1017.08V131.22H1015.59ZM1019.61 129.73H1022.45V131.22H1019.61ZM1023.64 129.73H1025.14V131.22H1023.64ZM1020.96 131.07H1022.45V132.57H1020.96ZM1024.99 131.07H1026.48V132.57H1024.99ZM1007.53 132.42H1009.02V133.91H1007.53ZM998.12 133.76H1000.96V135.25H998.12ZM1003.5 133.76H1006.33V135.25H1003.5ZM998.12 135.1H999.62V136.6H998.12ZM1033.05 135.1H1034.54V136.6H1033.05ZM992.75 136.45H994.24V137.94H992.75ZM996.78 136.45H998.27V137.94H996.78ZM1033.05 136.45H1034.54V137.94H1033.05ZM994.09 137.79H995.59V139.28H994.09ZM1037.08 140.48H1038.57V141.97H1037.08ZM984.69 141.82H986.19V143.31H984.69ZM987.38 141.82H988.87V143.31H987.38ZM990.07 141.82H991.56V143.31H990.07ZM1045.13 141.82H1049.31V143.31H1045.13ZM1045.13 143.16H1046.63V144.66H1045.13ZM1049.16 143.16H1050.66V144.66H1049.16ZM982.01 144.51H983.5V146H982.01ZM1050.51 144.51H1052V146H1050.51ZM986.04 145.85H987.53V147.34H986.04ZM1049.16 145.85H1050.66V147.34H1049.16ZM1055.88 145.85H1057.37V147.34H1055.88ZM979.32 147.19H980.81V148.69H979.32ZM1054.54 147.19H1056.03V148.69H1054.54ZM1057.22 147.19H1060.06V148.69H1057.22ZM1057.22 148.54H1061.4V150.03H1057.22ZM967.23 149.88H968.72V151.37H967.23ZM971.26 149.88H972.75V151.37H971.26ZM975.29 149.88H976.78V151.37H975.29ZM969.92 151.22H972.75V152.72H969.92ZM965.89 152.57H967.38V154.06H965.89ZM973.95 152.57H975.44V154.06H973.95ZM976.63 152.57H978.13V154.06H976.63ZM1059.91 152.57H1062.75V154.06H1059.91ZM975.29 153.91H976.78V155.4H975.29ZM980.66 153.91H982.16V155.4H980.66ZM1061.25 153.91H1062.75V155.4H1061.25ZM971.26 155.25H972.75V156.75H971.26ZM979.32 155.25H980.81V156.75H979.32ZM982.01 155.25H983.5V156.75H982.01ZM1053.19 156.6H1054.69V158.09H1053.19ZM1043.79 159.28H1045.28V160.78H1043.79ZM1046.48 159.28H1047.97V160.78H1046.48ZM1041.11 160.63H1042.6V162.12H1041.11ZM1034.39 161.97H1035.88V163.46H1034.39ZM1037.08 161.97H1038.57V163.46H1037.08ZM1030.36 163.31H1031.85V164.81H1030.36ZM1030.36 166H1031.85V167.49H1030.36ZM1024.99 170.03H1027.82V171.52H1024.99ZM1008.87 176.75H1010.36V178.24H1008.87ZM1023.64 176.75H1025.14V178.24H1023.64ZM1023.64 180.78H1025.14V182.27H1023.64ZM1010.21 183.46H1011.71V184.96H1010.21ZM1011.56 184.81H1013.05V186.3H1011.56ZM1011.56 186.15H1013.05V187.64H1011.56ZM1022.3 186.15H1023.79V187.64H1022.3ZM1011.56 190.18H1013.05V191.67H1011.56ZM1020.96 191.52H1022.45V193.02H1020.96ZM1020.96 192.87H1022.45V194.36H1020.96ZM1014.24 198.24H1017.08V199.73H1014.24ZM1019.61 199.58H1021.11V201.08H1019.61ZM1016.93 200.93H1018.42V202.42H1016.93Z"/><path fill="#2c728e" d="M1014.24 129.73H1015.74V131.22H1014.24ZM1016.93 129.73H1018.42V131.22H1016.93ZM1022.3 129.73H1023.79V131.22H1022.3ZM1011.56 131.07H1013.05V132.57H1011.56ZM1006.18 132.42H1007.68V133.91H1006.18ZM1008.87 132.42H1010.36V133.91H1008.87ZM1011.56 132.42H1013.05V133.91H1011.56ZM1020.96 132.42H1022.45V133.91H1020.96ZM1024.99 133.76H1027.82V135.25H1024.99ZM1000.81 135.1H1002.3V136.6H1000.81ZM1030.36 135.1H1031.85V136.6H1030.36ZM999.47 136.45H1000.96V137.94H999.47ZM1030.36 136.45H1033.2V137.94H1030.36ZM1035.73 136.45H1037.23V137.94H1035.73ZM990.07 137.79H992.9V139.28H990.07ZM995.44 137.79H996.93V139.28H995.44ZM1035.73 137.79H1037.23V139.28H1035.73ZM988.72 140.48H990.22V141.97H988.72ZM995.44 140.48H996.93V141.97H995.44ZM1039.76 141.82H1042.6V143.31H1039.76ZM1049.16 141.82H1050.66V143.31H1049.16ZM1043.79 143.16H1045.28V144.66H1043.79ZM984.69 144.51H986.19V146H984.69ZM1047.82 144.51H1049.31V146H1047.82ZM980.66 145.85H982.16V147.34H980.66ZM1050.51 145.85H1052V147.34H1050.51ZM1053.19 145.85H1054.69V147.34H1053.19ZM1055.88 147.19H1057.37V148.69H1055.88ZM1055.88 148.54H1057.37V150.03H1055.88ZM1055.88 149.88H1057.37V151.37H1055.88ZM973.95 151.22H975.44V152.72H973.95ZM1059.91 151.22H1061.4V152.72H1059.91ZM1057.22 152.57H1058.72V154.06H1057.22ZM1063.94 152.57H1065.43V154.06H1063.94ZM1067.97 152.57H1069.46V154.06H1067.97ZM972.6 153.91H974.1V155.4H972.6ZM1055.88 155.25H1057.37V156.75H1055.88ZM1058.57 155.25H1060.06V156.75H1058.57ZM1061.25 155.25H1062.75V156.75H1061.25ZM977.98 156.6H979.47V158.09H977.98ZM984.69 156.6H987.53V158.09H984.69ZM986.04 157.94H988.87V159.43H986.04ZM995.44 159.28H996.93V160.78H995.44ZM1041.11 159.28H1042.6V160.78H1041.11ZM1045.13 159.28H1046.63V160.78H1045.13ZM995.44 160.63H996.93V162.12H995.44ZM1043.79 160.63H1045.28V162.12H1043.79ZM996.78 161.97H999.62V163.46H996.78ZM1000.81 163.31H1002.3V164.81H1000.81ZM1000.81 164.66H1004.99V166.15H1000.81ZM1003.5 166H1004.99V167.49H1003.5ZM1006.18 170.03H1007.68V171.52H1006.18ZM1023.64 174.06H1026.48V175.55H1023.64ZM1023.64 179.43H1025.14V180.93H1023.64ZM1022.3 184.81H1023.79V186.3H1022.3ZM1020.96 188.84H1023.79V190.33H1020.96ZM1014.24 192.87H1015.74V194.36H1014.24ZM1014.24 196.9H1015.74V198.39H1014.24ZM1019.61 196.9H1021.11V198.39H1019.61ZM1016.93 199.58H1018.42V201.08H1016.93Z"/><path fill="#26828e" d="M1010.21 131.07H1011.71V132.57H1010.21ZM1018.27 131.07H1021.11V132.57H1018.27ZM1022.3 131.07H1023.79V132.57H1022.3ZM1010.21 132.42H1011.71V133.91H1010.21ZM1022.3 132.42H1025.14V133.91H1022.3ZM1008.87 133.76H1010.36V135.25H1008.87ZM1030.36 133.76H1031.85V135.25H1030.36ZM1033.05 133.76H1034.54V135.25H1033.05ZM1002.15 135.1H1004.99V136.6H1002.15ZM1024.99 135.1H1027.82V136.6H1024.99ZM1031.7 135.1H1033.2V136.6H1031.7ZM1000.81 136.45H1002.3V137.94H1000.81ZM1029.02 136.45H1030.51V137.94H1029.02ZM1033.05 137.79H1034.54V139.28H1033.05ZM1037.08 137.79H1038.57V139.28H1037.08ZM991.41 139.13H992.9V140.63H991.41ZM990.07 140.48H991.56V141.97H990.07ZM992.75 140.48H994.24V141.97H992.75ZM1043.79 141.82H1045.28V143.31H1043.79ZM1047.82 143.16H1049.31V144.66H1047.82ZM1049.16 144.51H1050.66V146H1049.16ZM980.66 147.19H983.5V148.69H980.66ZM1051.85 147.19H1053.34V148.69H1051.85ZM1054.54 148.54H1056.03V150.03H1054.54ZM977.98 149.88H979.47V151.37H977.98ZM1061.25 149.88H1062.75V151.37H1061.25ZM980.66 151.22H982.16V152.72H980.66ZM1062.6 152.57H1064.09V154.06H1062.6ZM1065.28 152.57H1066.78V154.06H1065.28ZM977.98 153.91H979.47V155.4H977.98ZM1059.91 153.91H1061.4V155.4H1059.91ZM1054.54 156.6H1056.03V158.09H1054.54ZM1063.94 156.6H1065.43V158.09H1063.94ZM1046.48 157.94H1047.97V159.43H1046.48ZM991.41 159.28H992.9V160.78H991.41ZM994.09 160.63H995.59V162.12H994.09ZM995.44 161.97H996.93V163.46H995.44ZM1031.7 161.97H1034.54V163.46H1031.7ZM1030.36 164.66H1031.85V166.15H1030.36ZM1026.33 168.69H1027.82V170.18H1026.33ZM1020.96 178.09H1022.45V179.58H1020.96ZM1023.64 178.09H1025.14V179.58H1023.64ZM1022.3 182.12H1023.79V183.61H1022.3ZM1010.21 184.81H1011.71V186.3H1010.21ZM1011.56 187.49H1013.05V188.99H1011.56ZM1015.59 196.9H1017.08V198.39H1015.59ZM1018.27 196.9H1019.76V198.39H1018.27ZM1019.61 198.24H1021.11V199.73H1019.61ZM1015.59 199.58H1017.08V201.08H1015.59Z"/><path fill="#21918c" d="M1015.59 131.07H1017.08V132.57H1015.59ZM1016.93 132.42H1018.42V133.91H1016.93ZM1006.18 133.76H1007.68V135.25H1006.18ZM1027.67 133.76H1030.51V135.25H1027.67ZM1006.18 135.1H1007.68V136.6H1006.18ZM1027.67 135.1H1029.17V136.6H1027.67ZM1004.84 136.45H1006.33V137.94H1004.84ZM1030.36 137.79H1031.85V139.28H1030.36ZM992.75 139.13H994.24V140.63H992.75ZM996.78 139.13H998.27V140.63H996.78ZM1026.33 139.13H1027.82V140.63H1026.33ZM1035.73 139.13H1038.57V140.63H1035.73ZM1038.42 140.48H1041.26V141.97H1038.42ZM1042.45 140.48H1043.94V141.97H1042.45ZM994.09 141.82H995.59V143.31H994.09ZM987.38 143.16H990.22V144.66H987.38ZM1046.48 143.16H1047.97V144.66H1046.48ZM988.72 144.51H990.22V146H988.72ZM1045.13 144.51H1046.63V146H1045.13ZM984.69 145.85H986.19V147.34H984.69ZM983.35 147.19H984.84V148.69H983.35ZM1053.19 147.19H1054.69V148.69H1053.19ZM975.29 148.54H976.78V150.03H975.29ZM977.98 148.54H979.47V150.03H977.98ZM1049.16 148.54H1050.66V150.03H1049.16ZM976.63 149.88H978.13V151.37H976.63ZM1050.51 149.88H1052V151.37H1050.51ZM979.32 151.22H980.81V152.72H979.32ZM1055.88 151.22H1057.37V152.72H1055.88ZM977.98 152.57H979.47V154.06H977.98ZM982.01 153.91H983.5V155.4H982.01ZM1058.57 153.91H1060.06V155.4H1058.57ZM1066.63 153.91H1068.12V155.4H1066.63ZM1057.22 155.25H1058.72V156.75H1057.22ZM983.35 156.6H984.84V158.09H983.35ZM988.72 157.94H990.22V159.43H988.72ZM992.75 157.94H994.24V159.43H992.75ZM1042.45 157.94H1043.94V159.43H1042.45ZM1049.16 157.94H1050.66V159.43H1049.16ZM994.09 159.28H995.59V160.78H994.09ZM998.12 159.28H999.62V160.78H998.12ZM1042.45 159.28H1043.94V160.78H1042.45ZM1037.08 160.63H1039.91V162.12H1037.08ZM1000.81 161.97H1002.3V163.46H1000.81ZM1029.02 163.31H1030.51V164.81H1029.02ZM1031.7 163.31H1033.2V164.81H1031.7ZM1031.7 164.66H1033.2V166.15H1031.7ZM1026.33 166H1027.82V167.49H1026.33ZM1029.02 166H1030.51V167.49H1029.02ZM1026.33 167.34H1027.82V168.84H1026.33ZM1006.18 168.69H1007.68V170.18H1006.18ZM1023.64 168.69H1025.14V170.18H1023.64ZM1023.64 171.37H1025.14V172.87H1023.64ZM1007.53 172.72H1009.02V174.21H1007.53ZM1008.87 174.06H1010.36V175.55H1008.87ZM1023.64 175.4H1026.48V176.9H1023.64ZM1010.21 176.75H1011.71V178.24H1010.21ZM1010.21 178.09H1011.71V179.58H1010.21ZM1022.3 178.09H1023.79V179.58H1022.3ZM1010.21 179.43H1011.71V180.93H1010.21ZM1022.3 179.43H1023.79V180.93H1022.3ZM1010.21 182.12H1011.71V183.61H1010.21ZM1022.3 183.46H1023.79V184.96H1022.3ZM1020.96 184.81H1022.45V186.3H1020.96ZM1020.96 187.49H1022.45V188.99H1020.96ZM1020.96 190.18H1022.45V191.67H1020.96ZM1019.61 194.21H1021.11V195.7H1019.61ZM1014.24 195.55H1015.74V197.05H1014.24ZM1016.93 196.9H1018.42V198.39H1016.93ZM1016.93 198.24H1019.76V199.73H1016.93Z"/><path fill="#1fa088" d="M1012.9 129.73H1014.39V131.22H1012.9ZM1012.9 131.07H1015.74V132.57H1012.9ZM1016.93 131.07H1018.42V132.57H1016.93ZM1018.27 132.42H1019.76V133.91H1018.27ZM1024.99 132.42H1026.48V133.91H1024.99ZM1007.53 133.76H1009.02V135.25H1007.53ZM1010.21 133.76H1013.05V135.25H1010.21ZM1014.24 133.76H1015.74V135.25H1014.24ZM1022.3 133.76H1023.79V135.25H1022.3ZM1004.84 135.1H1006.33V136.6H1004.84ZM1011.56 135.1H1013.05V136.6H1011.56ZM1006.18 136.45H1007.68V137.94H1006.18ZM999.47 137.79H1000.96V139.28H999.47ZM1002.15 137.79H1003.65V139.28H1002.15ZM995.44 139.13H996.93V140.63H995.44ZM1038.42 139.13H1039.91V140.63H1038.42ZM1041.11 139.13H1042.6V140.63H1041.11ZM994.09 140.48H995.59V141.97H994.09ZM996.78 140.48H998.27V141.97H996.78ZM1000.81 140.48H1002.3V141.97H1000.81ZM1029.02 140.48H1030.51V141.97H1029.02ZM1035.73 140.48H1037.23V141.97H1035.73ZM998.12 141.82H999.62V143.31H998.12ZM1038.42 141.82H1039.91V143.31H1038.42ZM1042.45 141.82H1043.94V143.31H1042.45ZM991.41 143.16H992.9V144.66H991.41ZM986.04 144.51H987.53V146H986.04ZM1043.79 144.51H1045.28V146H1043.79ZM983.35 145.85H984.84V147.34H983.35ZM987.38 145.85H990.22V147.34H987.38ZM1046.48 145.85H1049.31V147.34H1046.48ZM1051.85 145.85H1053.34V147.34H1051.85ZM1047.82 147.19H1049.31V148.69H1047.82ZM1050.51 147.19H1052V148.69H1050.51ZM979.32 148.54H983.5V150.03H979.32ZM1051.85 148.54H1053.34V150.03H1051.85ZM1051.85 149.88H1053.34V151.37H1051.85ZM975.29 151.22H978.13V152.72H975.29ZM982.01 151.22H983.5V152.72H982.01ZM1058.57 151.22H1060.06V152.72H1058.57ZM1058.57 152.57H1060.06V154.06H1058.57ZM987.38 155.25H988.87V156.75H987.38ZM987.38 156.6H988.87V158.09H987.38ZM994.09 157.94H995.59V159.43H994.09ZM1043.79 157.94H1046.63V159.43H1043.79ZM992.75 159.28H994.24V160.78H992.75ZM1039.76 159.28H1041.26V160.78H1039.76ZM998.12 160.63H1000.96V162.12H998.12ZM999.47 161.97H1000.96V163.46H999.47ZM1002.15 163.31H1004.99V164.81H1002.15ZM1024.99 164.66H1026.48V166.15H1024.99ZM1007.53 167.34H1009.02V168.84H1007.53ZM1024.99 167.34H1026.48V168.84H1024.99ZM1007.53 171.37H1009.02V172.87H1007.53ZM1024.99 172.72H1026.48V174.21H1024.99ZM1008.87 175.4H1010.36V176.9H1008.87ZM1011.56 179.43H1013.05V180.93H1011.56ZM1010.21 180.78H1011.71V182.27H1010.21ZM1022.3 180.78H1023.79V182.27H1022.3ZM1012.9 184.81H1014.39V186.3H1012.9ZM1019.61 195.55H1021.11V197.05H1019.61Z"/><path fill="#28ae80" d="M1019.61 132.42H1021.11V133.91H1019.61ZM1019.61 133.76H1021.11V135.25H1019.61ZM1023.64 133.76H1025.14V135.25H1023.64ZM1007.53 135.1H1009.02V136.6H1007.53ZM1023.64 135.1H1025.14V136.6H1023.64ZM1002.15 136.45H1003.65V137.94H1002.15ZM1023.64 136.45H1025.14V137.94H1023.64ZM1026.33 136.45H1027.82V137.94H1026.33ZM998.12 137.79H999.62V139.28H998.12ZM1003.5 137.79H1006.33V139.28H1003.5ZM1027.67 137.79H1030.51V139.28H1027.67ZM1034.39 137.79H1035.88V139.28H1034.39ZM999.47 139.13H1000.96V140.63H999.47ZM1004.84 139.13H1006.33V140.63H1004.84ZM1033.05 139.13H1034.54V140.63H1033.05ZM1002.15 140.48H1003.65V141.97H1002.15ZM991.41 141.82H992.9V143.31H991.41ZM995.44 143.16H996.93V144.66H995.44ZM991.41 144.51H992.9V146H991.41ZM1041.11 144.51H1042.6V146H1041.11ZM987.38 147.19H988.87V148.69H987.38ZM1050.51 148.54H1052V150.03H1050.51ZM1053.19 148.54H1054.69V150.03H1053.19ZM979.32 149.88H980.81V151.37H979.32ZM977.98 151.22H979.47V152.72H977.98ZM983.35 151.22H986.19V152.72H983.35ZM1054.54 151.22H1056.03V152.72H1054.54ZM1057.22 151.22H1058.72V152.72H1057.22ZM979.32 152.57H982.16V154.06H979.32ZM979.32 153.91H980.81V155.4H979.32ZM1057.22 153.91H1058.72V155.4H1057.22ZM983.35 155.25H984.84V156.75H983.35ZM986.04 155.25H987.53V156.75H986.04ZM988.72 155.25H990.22V156.75H988.72ZM990.07 156.6H991.56V158.09H990.07ZM1050.51 156.6H1053.34V158.09H1050.51ZM996.78 160.63H998.27V162.12H996.78ZM1029.02 160.63H1030.51V162.12H1029.02ZM1031.7 160.63H1034.54V162.12H1031.7ZM1035.73 160.63H1037.23V162.12H1035.73ZM1027.67 163.31H1029.17V164.81H1027.67ZM1027.67 164.66H1029.17V166.15H1027.67ZM1004.84 166H1006.33V167.49H1004.84ZM1027.67 166H1029.17V167.49H1027.67ZM1006.18 167.34H1007.68V168.84H1006.18ZM1007.53 168.69H1009.02V170.18H1007.53ZM1024.99 168.69H1026.48V170.18H1024.99ZM1007.53 170.03H1009.02V171.52H1007.53ZM1022.3 170.03H1025.14V171.52H1022.3ZM1022.3 172.72H1025.14V174.21H1022.3ZM1020.96 179.43H1022.45V180.93H1020.96ZM1020.96 180.78H1022.45V182.27H1020.96ZM1011.56 182.12H1013.05V183.61H1011.56ZM1011.56 183.46H1013.05V184.96H1011.56ZM1012.9 186.15H1014.39V187.64H1012.9ZM1020.96 186.15H1022.45V187.64H1020.96ZM1012.9 187.49H1014.39V188.99H1012.9ZM1012.9 191.52H1014.39V193.02H1012.9ZM1019.61 191.52H1021.11V193.02H1019.61ZM1014.24 194.21H1015.74V195.7H1014.24ZM1018.27 195.55H1019.76V197.05H1018.27Z"/><path fill="#3fbc73" d="M1012.9 132.42H1014.39V133.91H1012.9ZM1015.59 133.76H1017.08V135.25H1015.59ZM1020.96 133.76H1022.45V135.25H1020.96ZM1008.87 135.1H1011.71V136.6H1008.87ZM1018.27 135.1H1019.76V136.6H1018.27ZM1029.02 135.1H1030.51V136.6H1029.02ZM1003.5 136.45H1004.99V137.94H1003.5ZM1007.53 136.45H1009.02V137.94H1007.53ZM1011.56 136.45H1013.05V137.94H1011.56ZM1022.3 136.45H1023.79V137.94H1022.3ZM1027.67 136.45H1029.17V137.94H1027.67ZM1000.81 137.79H1002.3V139.28H1000.81ZM1007.53 137.79H1009.02V139.28H1007.53ZM1031.7 137.79H1033.2V139.28H1031.7ZM998.12 139.13H999.62V140.63H998.12ZM1002.15 139.13H1003.65V140.63H1002.15ZM1029.02 139.13H1030.51V140.63H1029.02ZM1034.39 139.13H1035.88V140.63H1034.39ZM998.12 140.48H999.62V141.97H998.12ZM1031.7 140.48H1033.2V141.97H1031.7ZM995.44 141.82H996.93V143.31H995.44ZM1031.7 141.82H1033.2V143.31H1031.7ZM1037.08 141.82H1038.57V143.31H1037.08ZM994.09 143.16H995.59V144.66H994.09ZM1039.76 143.16H1043.94V144.66H1039.76ZM987.38 144.51H988.87V146H987.38ZM990.07 144.51H991.56V146H990.07ZM1042.45 144.51H1043.94V146H1042.45ZM1043.79 145.85H1046.63V147.34H1043.79ZM984.69 147.19H986.19V148.69H984.69ZM1049.16 147.19H1050.66V148.69H1049.16ZM986.04 148.54H987.53V150.03H986.04ZM980.66 149.88H983.5V151.37H980.66ZM984.69 149.88H986.19V151.37H984.69ZM1047.82 149.88H1049.31V151.37H1047.82ZM1050.51 151.22H1053.34V152.72H1050.51ZM1055.88 152.57H1057.37V154.06H1055.88ZM1054.54 153.91H1057.37V155.4H1054.54ZM1050.51 155.25H1052V156.75H1050.51ZM1053.19 155.25H1056.03V156.75H1053.19ZM991.41 156.6H994.24V158.09H991.41ZM1049.16 156.6H1050.66V158.09H1049.16ZM990.07 157.94H991.56V159.43H990.07ZM1000.81 160.63H1002.3V162.12H1000.81ZM1002.15 161.97H1003.65V163.46H1002.15ZM1004.84 163.31H1006.33V164.81H1004.84ZM1024.99 166H1026.48V167.49H1024.99ZM1023.64 167.34H1025.14V168.84H1023.64ZM1008.87 170.03H1010.36V171.52H1008.87ZM1008.87 171.37H1010.36V172.87H1008.87ZM1008.87 172.72H1010.36V174.21H1008.87ZM1022.3 174.06H1023.79V175.55H1022.3ZM1011.56 176.75H1013.05V178.24H1011.56ZM1022.3 176.75H1023.79V178.24H1022.3ZM1011.56 180.78H1013.05V182.27H1011.56ZM1020.96 182.12H1022.45V183.61H1020.96ZM1019.61 187.49H1021.11V188.99H1019.61ZM1012.9 188.84H1014.39V190.33H1012.9ZM1012.9 190.18H1014.39V191.67H1012.9ZM1014.24 191.52H1015.74V193.02H1014.24ZM1019.61 192.87H1021.11V194.36H1019.61ZM1018.27 194.21H1019.76V195.7H1018.27Z"/><path fill="#5ec962" d="M1016.93 133.76H1019.76V135.25H1016.93ZM1020.96 135.1H1022.45V136.6H1020.96ZM1024.99 136.45H1026.48V137.94H1024.99ZM1000.81 139.13H1002.3V140.63H1000.81ZM1027.67 139.13H1029.17V140.63H1027.67ZM999.47 140.48H1000.96V141.97H999.47ZM1034.39 140.48H1035.88V141.97H1034.39ZM990.07 143.16H991.56V144.66H990.07ZM1038.42 143.16H1039.91V144.66H1038.42ZM992.75 144.51H995.59V146H992.75ZM1045.13 147.19H1047.97V148.69H1045.13ZM983.35 148.54H984.84V150.03H983.35ZM1049.16 149.88H1050.66V151.37H1049.16ZM1053.19 149.88H1056.03V151.37H1053.19ZM1053.19 151.22H1054.69V152.72H1053.19ZM983.35 153.91H986.19V155.4H983.35ZM988.72 156.6H990.22V158.09H988.72ZM1045.13 156.6H1046.63V158.09H1045.13ZM991.41 157.94H992.9V159.43H991.41ZM996.78 157.94H998.27V159.43H996.78ZM1039.76 157.94H1041.26V159.43H1039.76ZM996.78 159.28H998.27V160.78H996.78ZM1037.08 159.28H1039.91V160.78H1037.08ZM1002.15 160.63H1003.65V162.12H1002.15ZM1034.39 160.63H1035.88V162.12H1034.39ZM1027.67 161.97H1031.85V163.46H1027.67ZM1006.18 164.66H1007.68V166.15H1006.18ZM1010.21 174.06H1011.71V175.55H1010.21ZM1010.21 175.4H1011.71V176.9H1010.21ZM1020.96 175.4H1022.45V176.9H1020.96ZM1011.56 178.09H1013.05V179.58H1011.56ZM1012.9 182.12H1014.39V183.61H1012.9ZM1019.61 186.15H1021.11V187.64H1019.61ZM1014.24 188.84H1015.74V190.33H1014.24ZM1014.24 190.18H1015.74V191.67H1014.24Z"/><path fill="#84d44b" d="M1015.59 132.42H1017.08V133.91H1015.59ZM1012.9 133.76H1014.39V135.25H1012.9ZM1012.9 135.1H1014.39V136.6H1012.9ZM1015.59 135.1H1018.42V136.6H1015.59ZM1019.61 135.1H1021.11V136.6H1019.61ZM1022.3 135.1H1023.79V136.6H1022.3ZM1006.18 137.79H1007.68V139.28H1006.18ZM1024.99 137.79H1027.82V139.28H1024.99ZM1003.5 140.48H1004.99V141.97H1003.5ZM1030.36 140.48H1031.85V141.97H1030.36ZM1033.05 140.48H1034.54V141.97H1033.05ZM996.78 141.82H998.27V143.31H996.78ZM999.47 141.82H1000.96V143.31H999.47ZM1033.05 141.82H1034.54V143.31H1033.05ZM992.75 143.16H994.24V144.66H992.75ZM996.78 143.16H998.27V144.66H996.78ZM1034.39 143.16H1038.57V144.66H1034.39ZM1038.42 144.51H1039.91V146H1038.42ZM992.75 145.85H994.24V147.34H992.75ZM1042.45 145.85H1043.94V147.34H1042.45ZM986.04 147.19H987.53V148.69H986.04ZM988.72 147.19H990.22V148.69H988.72ZM984.69 148.54H986.19V150.03H984.69ZM1046.48 148.54H1049.31V150.03H1046.48ZM983.35 149.88H984.84V151.37H983.35ZM982.01 152.57H984.84V154.06H982.01ZM1051.85 152.57H1056.03V154.06H1051.85ZM986.04 153.91H987.53V155.4H986.04ZM984.69 155.25H986.19V156.75H984.69ZM1051.85 155.25H1053.34V156.75H1051.85ZM1046.48 156.6H1049.31V158.09H1046.48ZM995.44 157.94H996.93V159.43H995.44ZM998.12 157.94H999.62V159.43H998.12ZM1038.42 157.94H1039.91V159.43H1038.42ZM999.47 159.28H1000.96V160.78H999.47ZM1034.39 159.28H1037.23V160.78H1034.39ZM1004.84 164.66H1006.33V166.15H1004.84ZM1007.53 166H1009.02V167.49H1007.53ZM1022.3 171.37H1023.79V172.87H1022.3ZM1010.21 172.72H1011.71V174.21H1010.21ZM1020.96 174.06H1022.45V175.55H1020.96ZM1022.3 175.4H1023.79V176.9H1022.3ZM1020.96 176.75H1022.45V178.24H1020.96ZM1019.61 182.12H1021.11V183.61H1019.61ZM1012.9 183.46H1014.39V184.96H1012.9ZM1019.61 183.46H1021.11V184.96H1019.61ZM1019.61 190.18H1021.11V191.67H1019.61ZM1018.27 191.52H1019.76V193.02H1018.27ZM1018.27 192.87H1019.76V194.36H1018.27ZM1015.59 194.21H1017.08V195.7H1015.59ZM1015.59 195.55H1017.08V197.05H1015.59Z"/><path fill="#addc30" d="M1014.24 132.42H1015.74V133.91H1014.24ZM1014.24 135.1H1015.74V136.6H1014.24ZM1010.21 136.45H1011.71V137.94H1010.21ZM1012.9 136.45H1015.74V137.94H1012.9ZM1018.27 136.45H1021.11V137.94H1018.27ZM1008.87 137.79H1013.05V139.28H1008.87ZM1020.96 137.79H1023.79V139.28H1020.96ZM1003.5 139.13H1004.99V140.63H1003.5ZM1006.18 139.13H1010.36V140.63H1006.18ZM1023.64 139.13H1026.48V140.63H1023.64ZM1030.36 139.13H1033.2V140.63H1030.36ZM1004.84 140.48H1007.68V141.97H1004.84ZM1026.33 140.48H1029.17V141.97H1026.33ZM992.75 141.82H994.24V143.31H992.75ZM1002.15 141.82H1004.99V143.31H1002.15ZM1030.36 141.82H1031.85V143.31H1030.36ZM1034.39 141.82H1037.23V143.31H1034.39ZM999.47 143.16H1002.3V144.66H999.47ZM1031.7 143.16H1034.54V144.66H1031.7ZM996.78 144.51H999.62V146H996.78ZM1034.39 144.51H1037.23V146H1034.39ZM1039.76 144.51H1041.26V146H1039.76ZM1046.48 144.51H1047.97V146H1046.48ZM990.07 145.85H992.9V147.34H990.07ZM994.09 145.85H996.93V147.34H994.09ZM1038.42 145.85H1042.6V147.34H1038.42ZM990.07 147.19H994.24V148.69H990.07ZM1039.76 147.19H1042.6V148.69H1039.76ZM990.07 148.54H991.56V150.03H990.07ZM1043.79 148.54H1046.63V150.03H1043.79ZM986.04 149.88H990.22V151.37H986.04ZM1045.13 149.88H1047.97V151.37H1045.13ZM986.04 151.22H987.53V152.72H986.04ZM1047.82 151.22H1050.66V152.72H1047.82ZM986.04 152.57H987.53V154.06H986.04ZM1050.51 152.57H1052V154.06H1050.51ZM987.38 153.91H990.22V155.4H987.38ZM1049.16 153.91H1053.34V155.4H1049.16ZM991.41 155.25H994.24V156.75H991.41ZM1045.13 155.25H1050.66V156.75H1045.13ZM995.44 156.6H999.62V158.09H995.44ZM1038.42 156.6H1045.28V158.09H1038.42ZM999.47 157.94H1000.96V159.43H999.47ZM1034.39 157.94H1038.57V159.43H1034.39ZM1041.11 157.94H1042.6V159.43H1041.11ZM1000.81 159.28H1003.65V160.78H1000.81ZM1030.36 159.28H1033.2V160.78H1030.36ZM1003.5 160.63H1004.99V162.12H1003.5ZM1027.67 160.63H1029.17V162.12H1027.67ZM1030.36 160.63H1031.85V162.12H1030.36ZM1003.5 161.97H1006.33V163.46H1003.5ZM1026.33 161.97H1027.82V163.46H1026.33ZM1006.18 163.31H1007.68V164.81H1006.18ZM1024.99 163.31H1027.82V164.81H1024.99ZM1007.53 164.66H1009.02V166.15H1007.53ZM1023.64 164.66H1025.14V166.15H1023.64ZM1006.18 166H1007.68V167.49H1006.18ZM1008.87 166H1010.36V167.49H1008.87ZM1008.87 167.34H1010.36V168.84H1008.87ZM1022.3 167.34H1023.79V168.84H1022.3ZM1010.21 168.69H1011.71V170.18H1010.21ZM1022.3 168.69H1023.79V170.18H1022.3ZM1010.21 170.03H1011.71V171.52H1010.21ZM1020.96 170.03H1022.45V171.52H1020.96ZM1010.21 171.37H1011.71V172.87H1010.21ZM1020.96 171.37H1022.45V172.87H1020.96ZM1011.56 172.72H1013.05V174.21H1011.56ZM1020.96 172.72H1022.45V174.21H1020.96ZM1011.56 174.06H1013.05V175.55H1011.56ZM1011.56 175.4H1013.05V176.9H1011.56ZM1019.61 176.75H1021.11V178.24H1019.61ZM1012.9 178.09H1014.39V179.58H1012.9ZM1019.61 178.09H1021.11V179.58H1019.61ZM1012.9 179.43H1014.39V180.93H1012.9ZM1019.61 179.43H1021.11V180.93H1019.61ZM1012.9 180.78H1014.39V182.27H1012.9ZM1019.61 180.78H1021.11V182.27H1019.61ZM1014.24 183.46H1015.74V184.96H1014.24ZM1018.27 183.46H1019.76V184.96H1018.27ZM1020.96 183.46H1022.45V184.96H1020.96ZM1014.24 184.81H1015.74V186.3H1014.24ZM1018.27 184.81H1021.11V186.3H1018.27ZM1014.24 186.15H1015.74V187.64H1014.24ZM1018.27 186.15H1019.76V187.64H1018.27ZM1014.24 187.49H1015.74V188.99H1014.24ZM1018.27 187.49H1019.76V188.99H1018.27ZM1018.27 188.84H1021.11V190.33H1018.27ZM1015.59 190.18H1017.08V191.67H1015.59ZM1018.27 190.18H1019.76V191.67H1018.27ZM1015.59 191.52H1017.08V193.02H1015.59ZM1015.59 192.87H1018.42V194.36H1015.59ZM1016.93 194.21H1018.42V195.7H1016.93Z"/><path fill="#d8e219" d="M1008.87 136.45H1010.36V137.94H1008.87ZM1015.59 136.45H1018.42V137.94H1015.59ZM1012.9 137.79H1021.11V139.28H1012.9ZM1023.64 137.79H1025.14V139.28H1023.64ZM1010.21 139.13H1015.74V140.63H1010.21ZM1018.27 139.13H1023.79V140.63H1018.27ZM1007.53 140.48H1013.05V141.97H1007.53ZM1020.96 140.48H1026.48V141.97H1020.96ZM1000.81 141.82H1002.3V143.31H1000.81ZM1004.84 141.82H1009.02V143.31H1004.84ZM1024.99 141.82H1030.51V143.31H1024.99ZM998.12 143.16H999.62V144.66H998.12ZM1002.15 143.16H1006.33V144.66H1002.15ZM1027.67 143.16H1031.85V144.66H1027.67ZM995.44 144.51H996.93V146H995.44ZM999.47 144.51H1004.99V146H999.47ZM1030.36 144.51H1034.54V146H1030.36ZM1037.08 144.51H1038.57V146H1037.08ZM996.78 145.85H1000.96V147.34H996.78ZM1033.05 145.85H1038.57V147.34H1033.05ZM994.09 147.19H999.62V148.69H994.09ZM1035.73 147.19H1039.91V148.69H1035.73ZM1043.79 147.19H1045.28V148.69H1043.79ZM988.72 148.54H990.22V150.03H988.72ZM991.41 148.54H995.59V150.03H991.41ZM1038.42 148.54H1043.94V150.03H1038.42ZM990.07 149.88H994.24V151.37H990.07ZM1041.11 149.88H1045.28V151.37H1041.11ZM987.38 151.22H991.56V152.72H987.38ZM1043.79 151.22H1047.97V152.72H1043.79ZM984.69 152.57H986.19V154.06H984.69ZM987.38 152.57H994.24V154.06H987.38ZM1046.48 152.57H1050.66V154.06H1046.48ZM990.07 153.91H998.27V155.4H990.07ZM1041.11 153.91H1049.31V155.4H1041.11ZM990.07 155.25H991.56V156.75H990.07ZM994.09 155.25H1000.96V156.75H994.09ZM1035.73 155.25H1045.28V156.75H1035.73ZM994.09 156.6H995.59V158.09H994.09ZM999.47 156.6H1003.65V158.09H999.47ZM1031.7 156.6H1038.57V158.09H1031.7ZM1000.81 157.94H1004.99V159.43H1000.81ZM1027.67 157.94H1034.54V159.43H1027.67ZM1003.5 159.28H1007.68V160.78H1003.5ZM1026.33 159.28H1030.51V160.78H1026.33ZM1004.84 160.63H1009.02V162.12H1004.84ZM1024.99 160.63H1027.82V162.12H1024.99ZM1006.18 161.97H1009.02V163.46H1006.18ZM1023.64 161.97H1026.48V163.46H1023.64ZM1007.53 163.31H1010.36V164.81H1007.53ZM1022.3 163.31H1025.14V164.81H1022.3ZM1008.87 164.66H1011.71V166.15H1008.87ZM1020.96 164.66H1023.79V166.15H1020.96ZM1026.33 164.66H1027.82V166.15H1026.33ZM1010.21 166H1013.05V167.49H1010.21ZM1020.96 166H1023.79V167.49H1020.96ZM1010.21 167.34H1013.05V168.84H1010.21ZM1020.96 167.34H1022.45V168.84H1020.96ZM1008.87 168.69H1010.36V170.18H1008.87ZM1011.56 168.69H1013.05V170.18H1011.56ZM1019.61 168.69H1022.45V170.18H1019.61ZM1011.56 170.03H1014.39V171.52H1011.56ZM1019.61 170.03H1021.11V171.52H1019.61ZM1011.56 171.37H1014.39V172.87H1011.56ZM1018.27 171.37H1021.11V172.87H1018.27ZM1012.9 172.72H1014.39V174.21H1012.9ZM1018.27 172.72H1021.11V174.21H1018.27ZM1012.9 174.06H1015.74V175.55H1012.9ZM1018.27 174.06H1021.11V175.55H1018.27ZM1012.9 175.4H1015.74V176.9H1012.9ZM1018.27 175.4H1021.11V176.9H1018.27ZM1012.9 176.75H1015.74V178.24H1012.9ZM1018.27 176.75H1019.76V178.24H1018.27ZM1014.24 178.09H1015.74V179.58H1014.24ZM1016.93 178.09H1019.76V179.58H1016.93ZM1014.24 179.43H1019.76V180.93H1014.24ZM1014.24 180.78H1019.76V182.27H1014.24ZM1014.24 182.12H1019.76V183.61H1014.24ZM1015.59 183.46H1018.42V184.96H1015.59ZM1015.59 184.81H1018.42V186.3H1015.59ZM1015.59 186.15H1018.42V187.64H1015.59ZM1015.59 187.49H1018.42V188.99H1015.59ZM1015.59 188.84H1018.42V190.33H1015.59ZM1016.93 190.18H1018.42V191.67H1016.93ZM1016.93 191.52H1018.42V193.02H1016.93Z"/><path fill="#fde725" d="M1020.96 136.45H1022.45V137.94H1020.96ZM1015.59 139.13H1018.42V140.63H1015.59ZM1012.9 140.48H1021.11V141.97H1012.9ZM1008.87 141.82H1025.14V143.31H1008.87ZM1006.18 143.16H1027.82V144.66H1006.18ZM1004.84 144.51H1030.51V146H1004.84ZM1000.81 145.85H1033.2V147.34H1000.81ZM999.47 147.19H1035.88V148.69H999.47ZM1042.45 147.19H1043.94V148.69H1042.45ZM987.38 148.54H988.87V150.03H987.38ZM995.44 148.54H1038.57V150.03H995.44ZM994.09 149.88H1041.26V151.37H994.09ZM991.41 151.22H1043.94V152.72H991.41ZM994.09 152.57H1046.63V154.06H994.09ZM998.12 153.91H1041.26V155.4H998.12ZM1053.19 153.91H1054.69V155.4H1053.19ZM1000.81 155.25H1035.88V156.75H1000.81ZM1003.5 156.6H1031.85V158.09H1003.5ZM1004.84 157.94H1027.82V159.43H1004.84ZM1007.53 159.28H1026.48V160.78H1007.53ZM1033.05 159.28H1034.54V160.78H1033.05ZM1008.87 160.63H1025.14V162.12H1008.87ZM1008.87 161.97H1023.79V163.46H1008.87ZM1010.21 163.31H1022.45V164.81H1010.21ZM1011.56 164.66H1021.11V166.15H1011.56ZM1012.9 166H1021.11V167.49H1012.9ZM1023.64 166H1025.14V167.49H1023.64ZM1012.9 167.34H1021.11V168.84H1012.9ZM1012.9 168.69H1019.76V170.18H1012.9ZM1014.24 170.03H1019.76V171.52H1014.24ZM1014.24 171.37H1018.42V172.87H1014.24ZM1014.24 172.72H1018.42V174.21H1014.24ZM1015.59 174.06H1018.42V175.55H1015.59ZM1015.59 175.4H1018.42V176.9H1015.59ZM1015.59 176.75H1018.42V178.24H1015.59ZM1015.59 178.09H1017.08V179.58H1015.59ZM1016.93 195.55H1018.42V197.05H1016.93Z"/></g>
<rect x="1119.1" y="33.9" width="127.6" height="80.6" fill="#440154"/>
<g shape-rendering="crispEdges"><path fill="#48186a" d="M1165.5 33.9H1171.5V38.84H1165.5ZM1177.1 33.9H1188.9V38.84H1177.1ZM1217.7 48.12H1223.7V53.06H1217.7ZM1217.7 52.86H1223.7V57.81H1217.7ZM1223.5 62.35H1229.5V67.29H1223.5ZM1223.5 67.09H1229.5V72.03H1223.5ZM1142.3 81.31H1148.3V86.25H1142.3ZM1211.9 105.02H1217.9V109.96H1211.9Z"/><path fill="#472d7b" d="M1119.1 33.9H1125.1V38.84H1119.1ZM1211.9 43.38H1217.9V48.32H1211.9ZM1136.5 62.35H1142.5V67.29H1136.5ZM1130.7 90.79H1136.7V95.74H1130.7ZM1148.1 105.02H1154.1V109.96H1148.1ZM1206.1 109.76H1212.1V114.7H1206.1Z"/><path fill="#424086" d="M1159.7 33.9H1165.7V38.84H1159.7ZM1171.3 33.9H1177.3V38.84H1171.3ZM1229.3 48.12H1235.3V53.06H1229.3ZM1136.5 52.86H1142.5V57.81H1136.5ZM1136.5 67.09H1142.5V72.03H1136.5ZM1229.3 67.09H1235.3V72.03H1229.3ZM1130.7 71.83H1136.7V76.77H1130.7ZM1229.3 76.57H1235.3V81.51H1229.3ZM1240.9 81.31H1246.9V86.25H1240.9ZM1142.3 86.05H1148.3V90.99H1142.3ZM1124.9 90.79H1130.9V95.74H1124.9ZM1182.9 90.79H1188.9V95.74H1182.9ZM1148.1 100.28H1154.1V105.22H1148.1ZM1177.1 100.28H1183.1V105.22H1177.1ZM1211.9 100.28H1217.9V105.22H1211.9ZM1229.3 100.28H1235.3V105.22H1229.3ZM1153.9 105.02H1165.7V109.96H1153.9ZM1200.3 105.02H1212.1V109.96H1200.3Z"/><path fill="#3b528b" d="M1142.3 38.64H1148.3V43.58H1142.3ZM1211.9 48.12H1217.9V53.06H1211.9ZM1142.3 67.09H1148.3V72.03H1142.3ZM1217.7 71.83H1223.7V76.77H1217.7ZM1211.9 76.57H1223.7V81.51H1211.9ZM1136.5 81.31H1142.5V86.25H1136.5ZM1217.7 81.31H1223.7V86.25H1217.7ZM1148.1 90.79H1154.1V95.74H1148.1ZM1211.9 90.79H1217.9V95.74H1211.9ZM1211.9 95.54H1217.9V100.48H1211.9ZM1159.7 100.28H1165.7V105.22H1159.7ZM1200.3 100.28H1206.3V105.22H1200.3Z"/><path fill="#33638d" d="M1200.3 38.64H1206.3V43.58H1200.3ZM1142.3 48.12H1148.3V53.06H1142.3ZM1142.3 57.61H1148.3V62.55H1142.3ZM1217.7 57.61H1223.7V62.55H1217.7Z"/><path fill="#2c728e" d="M1130.7 38.64H1136.7V43.58H1130.7ZM1223.5 38.64H1229.5V43.58H1223.5ZM1142.3 52.86H1148.3V57.81H1142.3ZM1130.7 57.61H1136.7V62.55H1130.7ZM1223.5 71.83H1229.5V76.77H1223.5ZM1188.7 95.54H1194.7V100.48H1188.7ZM1206.1 95.54H1212.1V100.48H1206.1Z"/><path fill="#26828e" d="M1165.5 38.64H1171.5V43.58H1165.5ZM1194.5 38.64H1200.5V43.58H1194.5ZM1142.3 43.38H1148.3V48.32H1142.3ZM1206.1 43.38H1212.1V48.32H1206.1ZM1211.9 52.86H1217.9V57.81H1211.9ZM1223.5 57.61H1229.5V62.55H1223.5ZM1217.7 62.35H1223.7V67.29H1217.7ZM1217.7 67.09H1223.7V72.03H1217.7ZM1136.5 71.83H1148.3V76.77H1136.5ZM1165.5 95.54H1171.5V100.48H1165.5ZM1194.5 95.54H1200.5V100.48H1194.5ZM1206.1 100.28H1212.1V105.22H1206.1Z"/><path fill="#21918c" d="M1148.1 38.64H1154.1V43.58H1148.1ZM1182.9 38.64H1188.9V43.58H1182.9ZM1200.3 43.38H1206.3V48.32H1200.3ZM1206.1 48.12H1212.1V53.06H1206.1ZM1142.3 76.57H1154.1V81.51H1142.3ZM1148.1 81.31H1154.1V86.25H1148.1ZM1211.9 81.31H1217.9V86.25H1211.9ZM1148.1 86.05H1154.1V90.99H1148.1ZM1211.9 86.05H1217.9V90.99H1211.9ZM1171.3 90.79H1183.1V95.74H1171.3Z"/><path fill="#1fa088" d="M1153.9 38.64H1159.9V43.58H1153.9ZM1171.3 38.64H1177.3V43.58H1171.3ZM1188.7 38.64H1194.7V43.58H1188.7ZM1148.1 43.38H1154.1V48.32H1148.1ZM1211.9 57.61H1217.9V62.55H1211.9ZM1211.9 71.83H1217.9V76.77H1211.9ZM1159.7 95.54H1165.7V100.48H1159.7Z"/><path fill="#28ae80" d="M1206.1 57.61H1212.1V62.55H1206.1ZM1142.3 62.35H1148.3V67.29H1142.3ZM1148.1 67.09H1154.1V72.03H1148.1ZM1148.1 71.83H1154.1V76.77H1148.1ZM1188.7 90.79H1194.7V95.74H1188.7ZM1206.1 90.79H1212.1V95.74H1206.1ZM1148.1 95.54H1154.1V100.48H1148.1ZM1153.9 100.28H1159.9V105.22H1153.9Z"/><path fill="#3fbc73" d="M1159.7 38.64H1165.7V43.58H1159.7ZM1177.1 38.64H1183.1V43.58H1177.1ZM1206.1 52.86H1212.1V57.81H1206.1ZM1148.1 57.61H1154.1V62.55H1148.1ZM1211.9 62.35H1217.9V67.29H1211.9ZM1211.9 67.09H1217.9V72.03H1211.9ZM1165.5 90.79H1171.5V95.74H1165.5Z"/><path fill="#5ec962" d="M1148.1 62.35H1154.1V67.29H1148.1Z"/><path fill="#84d44b" d="M1148.1 52.86H1154.1V57.81H1148.1ZM1206.1 86.05H1212.1V90.99H1206.1Z"/><path fill="#addc30" d="M1148.1 48.12H1154.1V53.06H1148.1ZM1200.3 48.12H1206.3V53.06H1200.3ZM1206.1 81.31H1212.1V86.25H1206.1ZM1182.9 86.05H1188.9V90.99H1182.9ZM1153.9 95.54H1159.9V100.48H1153.9ZM1200.3 95.54H1206.3V100.48H1200.3Z"/><path fill="#d8e219" d="M1153.9 43.38H1159.9V48.32H1153.9ZM1165.5 43.38H1188.9V48.32H1165.5ZM1194.5 43.38H1200.5V48.32H1194.5ZM1200.3 52.86H1206.3V57.81H1200.3ZM1206.1 62.35H1212.1V67.29H1206.1ZM1206.1 71.83H1212.1V76.77H1206.1ZM1153.9 76.57H1159.9V81.51H1153.9ZM1206.1 76.57H1212.1V81.51H1206.1ZM1153.9 81.31H1159.9V86.25H1153.9ZM1153.9 86.05H1159.9V90.99H1153.9ZM1165.5 86.05H1183.1V90.99H1165.5ZM1188.7 86.05H1194.7V90.99H1188.7ZM1153.9 90.79H1165.7V95.74H1153.9ZM1194.5 90.79H1200.5V95.74H1194.5Z"/><path fill="#fde725" d="M1159.7 43.38H1165.7V48.32H1159.7ZM1188.7 43.38H1194.7V48.32H1188.7ZM1153.9 48.12H1200.5V53.06H1153.9ZM1153.9 52.86H1200.5V57.81H1153.9ZM1153.9 57.61H1206.3V62.55H1153.9ZM1153.9 62.35H1206.3V67.29H1153.9ZM1153.9 67.09H1212.1V72.03H1153.9ZM1153.9 71.83H1206.3V76.77H1153.9ZM1159.7 76.57H1206.3V81.51H1159.7ZM1159.7 81.31H1206.3V86.25H1159.7ZM1159.7 86.05H1165.7V90.99H1159.7ZM1194.5 86.05H1206.3V90.99H1194.5ZM1200.3 90.79H1206.3V95.74H1200.3Z"/></g>
<rect x="1119.1" y="125.7" width="127.6" height="80.6" fill="#440154"/>
<g shape-rendering="crispEdges"><path fill="#48186a" d="M1159.39 137.79H1160.89V139.28H1159.39ZM1167.45 137.79H1170.29V139.28H1167.45ZM1187.6 137.79H1189.09V139.28H1187.6ZM1195.66 137.79H1197.15V139.28H1195.66ZM1199.69 137.79H1201.18V139.28H1199.69ZM1149.99 139.13H1151.49V140.63H1149.99ZM1162.08 139.13H1164.92V140.63H1162.08ZM1171.48 139.13H1172.98V140.63H1171.48ZM1176.86 139.13H1178.35V140.63H1176.86ZM1191.63 139.13H1193.12V140.63H1191.63ZM1195.66 139.13H1197.15V140.63H1195.66ZM1152.68 140.48H1154.17V141.97H1152.68ZM1155.37 140.48H1156.86V141.97H1155.37ZM1203.72 140.48H1205.21V141.97H1203.72ZM1207.75 140.48H1209.24V141.97H1207.75ZM1141.93 141.82H1144.77V143.31H1141.93ZM1148.65 141.82H1151.49V143.31H1148.65ZM1154.02 141.82H1155.52V143.31H1154.02ZM1205.06 141.82H1209.24V143.31H1205.06ZM1211.78 141.82H1213.27V143.31H1211.78ZM1148.65 143.16H1150.14V144.66H1148.65ZM1210.43 143.16H1214.61V144.66H1210.43ZM1139.25 144.51H1140.74V146H1139.25ZM1215.81 147.19H1218.64V148.69H1215.81ZM1221.18 147.19H1224.02V148.69H1221.18ZM1217.15 148.54H1218.64V150.03H1217.15ZM1219.84 148.54H1221.33V150.03H1219.84ZM1219.84 149.88H1221.33V151.37H1219.84ZM1222.52 149.88H1224.02V151.37H1222.52ZM1219.84 151.22H1222.67V152.72H1219.84ZM1137.9 153.91H1139.4V155.4H1137.9ZM1222.52 153.91H1224.02V155.4H1222.52ZM1221.18 156.6H1222.67V158.09H1221.18ZM1223.87 156.6H1225.36V158.09H1223.87ZM1137.9 157.94H1139.4V159.43H1137.9ZM1139.25 161.97H1140.74V163.46H1139.25ZM1135.22 163.31H1136.71V164.81H1135.22ZM1225.21 163.31H1226.7V164.81H1225.21ZM1227.9 163.31H1229.39V164.81H1227.9ZM1135.22 166H1136.71V167.49H1135.22ZM1225.21 167.34H1226.7V168.84H1225.21ZM1137.9 168.69H1139.4V170.18H1137.9ZM1227.9 168.69H1229.39V170.18H1227.9ZM1139.25 170.03H1140.74V171.52H1139.25ZM1227.9 170.03H1229.39V171.52H1227.9ZM1139.25 171.37H1140.74V172.87H1139.25ZM1223.87 172.72H1225.36V174.21H1223.87ZM1143.28 174.06H1144.77V175.55H1143.28ZM1222.52 175.4H1225.36V176.9H1222.52ZM1141.93 178.09H1143.43V179.58H1141.93ZM1223.87 178.09H1225.36V179.58H1223.87ZM1174.17 180.78H1175.66V182.27H1174.17ZM1182.23 180.78H1183.72V182.27H1182.23ZM1191.63 180.78H1193.12V182.27H1191.63ZM1141.93 182.12H1143.43V183.61H1141.93ZM1172.83 182.12H1175.66V183.61H1172.83ZM1180.89 182.12H1182.38V183.61H1180.89ZM1194.32 182.12H1198.5V183.61H1194.32ZM1221.18 182.12H1222.67V183.61H1221.18ZM1167.45 183.46H1168.95V184.96H1167.45ZM1182.23 183.46H1183.72V184.96H1182.23ZM1199.69 183.46H1201.18V184.96H1199.69ZM1162.08 184.81H1164.92V186.3H1162.08ZM1205.06 184.81H1206.56V186.3H1205.06ZM1222.52 184.81H1224.02V186.3H1222.52ZM1141.93 186.15H1143.43V187.64H1141.93ZM1159.39 186.15H1160.89V187.64H1159.39ZM1209.09 187.49H1210.58V188.99H1209.09ZM1221.18 187.49H1224.02V188.99H1221.18ZM1222.52 188.84H1224.02V190.33H1222.52ZM1213.12 191.52H1214.61V193.02H1213.12ZM1223.87 191.52H1225.36V193.02H1223.87ZM1219.84 194.21H1222.67V195.7H1219.84Z"/><path fill="#472d7b" d="M1170.14 136.45H1171.63V137.94H1170.14ZM1174.17 137.79H1177.01V139.28H1174.17ZM1182.23 137.79H1183.72V139.28H1182.23ZM1160.74 139.13H1162.23V140.63H1160.74ZM1166.11 139.13H1167.6V140.63H1166.11ZM1168.8 139.13H1170.29V140.63H1168.8ZM1172.83 139.13H1174.32V140.63H1172.83ZM1179.54 139.13H1181.04V140.63H1179.54ZM1187.6 139.13H1189.09V140.63H1187.6ZM1190.29 139.13H1191.78V140.63H1190.29ZM1192.97 139.13H1194.47V140.63H1192.97ZM1158.05 140.48H1159.54V141.97H1158.05ZM1162.08 140.48H1163.57V141.97H1162.08ZM1195.66 140.48H1197.15V141.97H1195.66ZM1201.03 140.48H1202.53V141.97H1201.03ZM1152.68 141.82H1154.17V143.31H1152.68ZM1209.09 141.82H1211.93V143.31H1209.09ZM1143.28 143.16H1144.77V144.66H1143.28ZM1145.96 143.16H1147.46V144.66H1145.96ZM1141.93 144.51H1143.43V146H1141.93ZM1145.96 144.51H1147.46V146H1145.96ZM1207.75 144.51H1209.24V146H1207.75ZM1211.78 144.51H1213.27V146H1211.78ZM1148.65 145.85H1150.14V147.34H1148.65ZM1140.59 147.19H1142.08V148.69H1140.59ZM1218.49 147.19H1219.99V148.69H1218.49ZM1218.49 148.54H1219.99V150.03H1218.49ZM1215.81 149.88H1217.3V151.37H1215.81ZM1139.25 151.22H1140.74V152.72H1139.25ZM1221.18 152.57H1224.02V154.06H1221.18ZM1139.25 153.91H1140.74V155.4H1139.25ZM1219.84 153.91H1221.33V155.4H1219.84ZM1223.87 153.91H1225.36V155.4H1223.87ZM1137.9 155.25H1139.4V156.75H1137.9ZM1223.87 159.28H1226.7V160.78H1223.87ZM1137.9 160.63H1140.74V162.12H1137.9ZM1223.87 160.63H1225.36V162.12H1223.87ZM1226.55 163.31H1228.05V164.81H1226.55ZM1137.9 167.34H1139.4V168.84H1137.9ZM1223.87 167.34H1225.36V168.84H1223.87ZM1223.87 168.69H1225.36V170.18H1223.87ZM1140.59 170.03H1142.08V171.52H1140.59ZM1143.28 170.03H1144.77V171.52H1143.28ZM1222.52 170.03H1226.7V171.52H1222.52ZM1223.87 171.37H1226.7V172.87H1223.87ZM1141.93 175.4H1143.43V176.9H1141.93ZM1221.18 175.4H1222.67V176.9H1221.18ZM1141.93 176.75H1144.77V178.24H1141.93ZM1140.59 179.43H1143.43V180.93H1140.59ZM1184.91 179.43H1186.41V180.93H1184.91ZM1187.6 179.43H1189.09V180.93H1187.6ZM1222.52 179.43H1224.02V180.93H1222.52ZM1187.6 180.78H1189.09V182.27H1187.6ZM1195.66 180.78H1197.15V182.27H1195.66ZM1197 183.46H1198.5V184.96H1197ZM1143.28 184.81H1144.77V186.3H1143.28ZM1158.05 186.15H1159.54V187.64H1158.05ZM1163.42 186.15H1164.92V187.64H1163.42ZM1206.41 186.15H1207.9V187.64H1206.41ZM1141.93 187.49H1143.43V188.99H1141.93ZM1155.37 187.49H1156.86V188.99H1155.37ZM1210.43 187.49H1211.93V188.99H1210.43ZM1211.78 188.84H1213.27V190.33H1211.78ZM1221.18 188.84H1222.67V190.33H1221.18ZM1147.31 191.52H1148.8V193.02H1147.31ZM1151.34 191.52H1152.83V193.02H1151.34ZM1218.49 191.52H1221.33V193.02H1218.49ZM1143.28 192.87H1144.77V194.36H1143.28ZM1222.52 195.55H1224.02V197.05H1222.52Z"/><path fill="#424086" d="M1191.63 137.79H1193.12V139.28H1191.63ZM1158.05 139.13H1159.54V140.63H1158.05ZM1186.26 139.13H1187.75V140.63H1186.26ZM1147.31 140.48H1148.8V141.97H1147.31ZM1160.74 140.48H1162.23V141.97H1160.74ZM1163.42 140.48H1164.92V141.97H1163.42ZM1191.63 140.48H1193.12V141.97H1191.63ZM1199.69 140.48H1201.18V141.97H1199.69ZM1202.38 140.48H1203.87V141.97H1202.38ZM1144.62 141.82H1146.11V143.31H1144.62ZM1156.71 141.82H1158.2V143.31H1156.71ZM1147.31 143.16H1148.8V144.66H1147.31ZM1152.68 143.16H1154.17V144.66H1152.68ZM1205.06 143.16H1206.56V144.66H1205.06ZM1155.37 144.51H1156.86V146H1155.37ZM1213.12 144.51H1214.61V146H1213.12ZM1139.25 145.85H1142.08V147.34H1139.25ZM1211.78 145.85H1217.3V147.34H1211.78ZM1144.62 147.19H1146.11V148.69H1144.62ZM1214.46 147.19H1215.96V148.69H1214.46ZM1148.65 148.54H1150.14V150.03H1148.65ZM1137.9 149.88H1139.4V151.37H1137.9ZM1140.59 149.88H1143.43V151.37H1140.59ZM1137.9 151.22H1139.4V152.72H1137.9ZM1217.15 151.22H1218.64V152.72H1217.15ZM1140.59 152.57H1142.08V154.06H1140.59ZM1218.49 152.57H1221.33V154.06H1218.49ZM1139.25 155.25H1142.08V156.75H1139.25ZM1218.49 155.25H1219.99V156.75H1218.49ZM1221.18 155.25H1222.67V156.75H1221.18ZM1139.25 156.6H1142.08V158.09H1139.25ZM1222.52 156.6H1224.02V158.09H1222.52ZM1139.25 157.94H1140.74V159.43H1139.25ZM1223.87 157.94H1225.36V159.43H1223.87ZM1139.25 159.28H1140.74V160.78H1139.25ZM1222.52 159.28H1224.02V160.78H1222.52ZM1140.59 161.97H1142.08V163.46H1140.59ZM1226.55 164.66H1228.05V166.15H1226.55ZM1225.21 166H1226.7V167.49H1225.21ZM1140.59 167.34H1142.08V168.84H1140.59ZM1222.52 167.34H1224.02V168.84H1222.52ZM1226.55 167.34H1228.05V168.84H1226.55ZM1141.93 172.72H1143.43V174.21H1141.93ZM1141.93 174.06H1143.43V175.55H1141.93ZM1219.84 175.4H1221.33V176.9H1219.84ZM1221.18 178.09H1222.67V179.58H1221.18ZM1178.2 179.43H1179.69V180.93H1178.2ZM1183.57 179.43H1185.06V180.93H1183.57ZM1192.97 180.78H1195.81V182.27H1192.97ZM1143.28 183.46H1144.77V184.96H1143.28ZM1166.11 183.46H1167.6V184.96H1166.11ZM1201.03 183.46H1203.87V184.96H1201.03ZM1219.84 183.46H1221.33V184.96H1219.84ZM1143.28 187.49H1144.77V188.99H1143.28ZM1143.28 188.84H1144.77V190.33H1143.28ZM1214.46 188.84H1215.96V190.33H1214.46ZM1151.34 190.18H1152.83V191.67H1151.34ZM1215.81 190.18H1217.3V191.67H1215.81ZM1141.93 191.52H1143.43V193.02H1141.93Z"/><path fill="#3b528b" d="M1180.89 139.13H1182.38V140.63H1180.89ZM1159.39 140.48H1160.89V141.97H1159.39ZM1171.48 140.48H1172.98V141.97H1171.48ZM1184.91 140.48H1186.41V141.97H1184.91ZM1194.32 140.48H1195.81V141.97H1194.32ZM1162.08 141.82H1163.57V143.31H1162.08ZM1199.69 141.82H1201.18V143.31H1199.69ZM1202.38 141.82H1205.21V143.31H1202.38ZM1202.38 143.16H1203.87V144.66H1202.38ZM1206.41 143.16H1209.24V144.66H1206.41ZM1143.28 144.51H1144.77V146H1143.28ZM1210.43 144.51H1211.93V146H1210.43ZM1141.93 145.85H1143.43V147.34H1141.93ZM1144.62 145.85H1147.46V147.34H1144.62ZM1210.43 145.85H1211.93V147.34H1210.43ZM1141.93 147.19H1144.77V148.69H1141.93ZM1209.09 147.19H1210.58V148.69H1209.09ZM1213.12 147.19H1214.61V148.69H1213.12ZM1139.25 148.54H1140.74V150.03H1139.25ZM1211.78 148.54H1213.27V150.03H1211.78ZM1139.25 149.88H1140.74V151.37H1139.25ZM1217.15 149.88H1218.64V151.37H1217.15ZM1215.81 151.22H1217.3V152.72H1215.81ZM1218.49 151.22H1219.99V152.72H1218.49ZM1139.25 152.57H1140.74V154.06H1139.25ZM1143.28 152.57H1144.77V154.06H1143.28ZM1218.49 153.91H1219.99V155.4H1218.49ZM1141.93 155.25H1143.43V156.75H1141.93ZM1219.84 155.25H1221.33V156.75H1219.84ZM1221.18 157.94H1222.67V159.43H1221.18ZM1140.59 159.28H1143.43V160.78H1140.59ZM1223.87 161.97H1225.36V163.46H1223.87ZM1137.9 163.31H1140.74V164.81H1137.9ZM1137.9 164.66H1139.4V166.15H1137.9ZM1140.59 164.66H1142.08V166.15H1140.59ZM1223.87 164.66H1225.36V166.15H1223.87ZM1141.93 167.34H1143.43V168.84H1141.93ZM1225.21 168.69H1226.7V170.18H1225.21ZM1141.93 170.03H1143.43V171.52H1141.93ZM1140.59 171.37H1142.08V172.87H1140.59ZM1222.52 171.37H1224.02V172.87H1222.52ZM1218.49 172.72H1219.99V174.21H1218.49ZM1222.52 172.72H1224.02V174.21H1222.52ZM1221.18 174.06H1224.02V175.55H1221.18ZM1143.28 179.43H1144.77V180.93H1143.28ZM1179.54 179.43H1181.04V180.93H1179.54ZM1190.29 179.43H1191.78V180.93H1190.29ZM1171.48 180.78H1174.32V182.27H1171.48ZM1166.11 182.12H1167.6V183.61H1166.11ZM1168.8 182.12H1170.29V183.61H1168.8ZM1163.42 183.46H1166.26V184.96H1163.42ZM1221.18 183.46H1222.67V184.96H1221.18ZM1206.41 184.81H1207.9V186.3H1206.41ZM1143.28 186.15H1144.77V187.64H1143.28ZM1209.09 186.15H1210.58V187.64H1209.09ZM1143.28 190.18H1144.77V191.67H1143.28ZM1221.18 190.18H1222.67V191.67H1221.18ZM1221.18 191.52H1224.02V193.02H1221.18Z"/><path fill="#33638d" d="M1175.51 139.13H1177.01V140.63H1175.51ZM1182.23 139.13H1183.72V140.63H1182.23ZM1188.94 139.13H1190.44V140.63H1188.94ZM1154.02 140.48H1155.52V141.97H1154.02ZM1167.45 140.48H1168.95V141.97H1167.45ZM1170.14 140.48H1171.63V141.97H1170.14ZM1179.54 140.48H1181.04V141.97H1179.54ZM1197 140.48H1198.5V141.97H1197ZM1160.74 141.82H1162.23V143.31H1160.74ZM1147.31 144.51H1150.14V146H1147.31ZM1151.34 144.51H1152.83V146H1151.34ZM1143.28 148.54H1144.77V150.03H1143.28ZM1143.28 149.88H1144.77V151.37H1143.28ZM1213.12 149.88H1214.61V151.37H1213.12ZM1143.28 151.22H1144.77V152.72H1143.28ZM1217.15 152.57H1218.64V154.06H1217.15ZM1143.28 153.91H1144.77V155.4H1143.28ZM1140.59 157.94H1142.08V159.43H1140.59ZM1217.15 159.28H1218.64V160.78H1217.15ZM1219.84 159.28H1221.33V160.78H1219.84ZM1143.28 160.63H1144.77V162.12H1143.28ZM1222.52 160.63H1224.02V162.12H1222.52ZM1141.93 161.97H1143.43V163.46H1141.93ZM1219.84 161.97H1222.67V163.46H1219.84ZM1225.21 161.97H1226.7V163.46H1225.21ZM1222.52 163.31H1224.02V164.81H1222.52ZM1139.25 164.66H1140.74V166.15H1139.25ZM1222.52 166H1224.02V167.49H1222.52ZM1141.93 168.69H1143.43V170.18H1141.93ZM1221.18 168.69H1222.67V170.18H1221.18ZM1221.18 171.37H1222.67V172.87H1221.18ZM1143.28 172.72H1144.77V174.21H1143.28ZM1221.18 172.72H1222.67V174.21H1221.18ZM1143.28 175.4H1144.77V176.9H1143.28ZM1221.18 176.75H1222.67V178.24H1221.18ZM1143.28 178.09H1146.11V179.58H1143.28ZM1174.17 179.43H1175.66V180.93H1174.17ZM1176.86 179.43H1178.35V180.93H1176.86ZM1186.26 179.43H1187.75V180.93H1186.26ZM1143.28 182.12H1144.77V183.61H1143.28ZM1144.62 184.81H1146.11V186.3H1144.62ZM1221.18 184.81H1222.67V186.3H1221.18ZM1210.43 186.15H1211.93V187.64H1210.43ZM1219.84 186.15H1221.33V187.64H1219.84ZM1147.31 190.18H1148.8V191.67H1147.31ZM1149.99 190.18H1151.49V191.67H1149.99ZM1217.15 190.18H1218.64V191.67H1217.15ZM1143.28 191.52H1144.77V193.02H1143.28ZM1145.96 191.52H1147.46V193.02H1145.96Z"/><path fill="#2c728e" d="M1162.08 137.79H1163.57V139.28H1162.08ZM1174.17 139.13H1175.66V140.63H1174.17ZM1156.71 140.48H1158.2V141.97H1156.71ZM1188.94 140.48H1191.78V141.97H1188.94ZM1151.34 141.82H1152.83V143.31H1151.34ZM1192.97 141.82H1194.47V143.31H1192.97ZM1198.35 141.82H1199.84V143.31H1198.35ZM1149.99 143.16H1151.49V144.66H1149.99ZM1159.39 143.16H1160.89V144.66H1159.39ZM1203.72 143.16H1205.21V144.66H1203.72ZM1156.71 144.51H1158.2V146H1156.71ZM1206.41 144.51H1207.9V146H1206.41ZM1147.31 145.85H1148.8V147.34H1147.31ZM1206.41 145.85H1207.9V147.34H1206.41ZM1147.31 147.19H1148.8V148.69H1147.31ZM1205.06 147.19H1206.56V148.69H1205.06ZM1207.75 147.19H1209.24V148.69H1207.75ZM1210.43 147.19H1213.27V148.69H1210.43ZM1213.12 148.54H1214.61V150.03H1213.12ZM1145.96 149.88H1147.46V151.37H1145.96ZM1214.46 149.88H1215.96V151.37H1214.46ZM1141.93 151.22H1143.43V152.72H1141.93ZM1214.46 151.22H1215.96V152.72H1214.46ZM1141.93 152.57H1143.43V154.06H1141.93ZM1140.59 153.91H1142.08V155.4H1140.59ZM1217.15 153.91H1218.64V155.4H1217.15ZM1143.28 155.25H1144.77V156.75H1143.28ZM1141.93 156.6H1143.43V158.09H1141.93ZM1218.49 157.94H1219.99V159.43H1218.49ZM1143.28 159.28H1144.77V160.78H1143.28ZM1145.96 160.63H1147.46V162.12H1145.96ZM1143.28 161.97H1144.77V163.46H1143.28ZM1222.52 161.97H1224.02V163.46H1222.52ZM1140.59 163.31H1142.08V164.81H1140.59ZM1143.28 163.31H1144.77V164.81H1143.28ZM1223.87 163.31H1225.36V164.81H1223.87ZM1219.84 164.66H1222.67V166.15H1219.84ZM1139.25 166H1140.74V167.49H1139.25ZM1141.93 166H1143.43V167.49H1141.93ZM1223.87 166H1225.36V167.49H1223.87ZM1139.25 167.34H1140.74V168.84H1139.25ZM1143.28 167.34H1144.77V168.84H1143.28ZM1221.18 167.34H1222.67V168.84H1221.18ZM1143.28 168.69H1146.11V170.18H1143.28ZM1141.93 171.37H1143.43V172.87H1141.93ZM1219.84 171.37H1221.33V172.87H1219.84ZM1144.62 175.4H1146.11V176.9H1144.62ZM1144.62 179.43H1146.11V180.93H1144.62ZM1221.18 179.43H1222.67V180.93H1221.18ZM1144.62 180.78H1146.11V182.27H1144.62ZM1144.62 182.12H1146.11V183.61H1144.62ZM1198.35 182.12H1199.84V183.61H1198.35ZM1160.74 184.81H1162.23V186.3H1160.74ZM1207.75 184.81H1209.24V186.3H1207.75ZM1219.84 184.81H1221.33V186.3H1219.84ZM1221.18 186.15H1222.67V187.64H1221.18ZM1211.78 187.49H1213.27V188.99H1211.78ZM1219.84 187.49H1221.33V188.99H1219.84ZM1151.34 188.84H1154.17V190.33H1151.34ZM1219.84 188.84H1221.33V190.33H1219.84ZM1218.49 190.18H1221.33V191.67H1218.49Z"/><path fill="#26828e" d="M1170.14 139.13H1171.63V140.63H1170.14ZM1183.57 139.13H1186.41V140.63H1183.57ZM1166.11 140.48H1167.6V141.97H1166.11ZM1168.8 140.48H1170.29V141.97H1168.8ZM1180.89 140.48H1182.38V141.97H1180.89ZM1192.97 140.48H1194.47V141.97H1192.97ZM1155.37 141.82H1156.86V143.31H1155.37ZM1159.39 141.82H1160.89V143.31H1159.39ZM1188.94 141.82H1190.44V143.31H1188.94ZM1194.32 141.82H1195.81V143.31H1194.32ZM1201.03 141.82H1202.53V143.31H1201.03ZM1151.34 143.16H1152.83V144.66H1151.34ZM1154.02 143.16H1155.52V144.66H1154.02ZM1156.71 143.16H1159.54V144.66H1156.71ZM1160.74 143.16H1163.57V144.66H1160.74ZM1199.69 143.16H1201.18V144.66H1199.69ZM1152.68 144.51H1155.52V146H1152.68ZM1205.06 144.51H1206.56V146H1205.06ZM1143.28 145.85H1144.77V147.34H1143.28ZM1209.09 145.85H1210.58V147.34H1209.09ZM1151.34 147.19H1152.83V148.69H1151.34ZM1141.93 148.54H1143.43V150.03H1141.93ZM1144.62 148.54H1147.46V150.03H1144.62ZM1214.46 148.54H1215.96V150.03H1214.46ZM1144.62 149.88H1146.11V151.37H1144.62ZM1148.65 149.88H1150.14V151.37H1148.65ZM1211.78 149.88H1213.27V151.37H1211.78ZM1140.59 151.22H1142.08V152.72H1140.59ZM1144.62 151.22H1146.11V152.72H1144.62ZM1144.62 152.57H1146.11V154.06H1144.62ZM1215.81 152.57H1217.3V154.06H1215.81ZM1141.93 153.91H1143.43V155.4H1141.93ZM1144.62 153.91H1146.11V155.4H1144.62ZM1219.84 156.6H1221.33V158.09H1219.84ZM1141.93 157.94H1143.43V159.43H1141.93ZM1217.15 157.94H1218.64V159.43H1217.15ZM1219.84 157.94H1221.33V159.43H1219.84ZM1221.18 159.28H1222.67V160.78H1221.18ZM1140.59 160.63H1143.43V162.12H1140.59ZM1218.49 160.63H1219.99V162.12H1218.49ZM1221.18 160.63H1222.67V162.12H1221.18ZM1141.93 163.31H1143.43V164.81H1141.93ZM1141.93 164.66H1143.43V166.15H1141.93ZM1218.49 164.66H1219.99V166.15H1218.49ZM1222.52 164.66H1224.02V166.15H1222.52ZM1140.59 166H1142.08V167.49H1140.59ZM1219.84 166H1221.33V167.49H1219.84ZM1219.84 168.69H1221.33V170.18H1219.84ZM1145.96 170.03H1147.46V171.52H1145.96ZM1145.96 171.37H1147.46V172.87H1145.96ZM1219.84 172.72H1221.33V174.21H1219.84ZM1218.49 174.06H1219.99V175.55H1218.49ZM1144.62 176.75H1147.46V178.24H1144.62ZM1183.57 178.09H1185.06V179.58H1183.57ZM1180.89 179.43H1182.38V180.93H1180.89ZM1188.94 179.43H1190.44V180.93H1188.94ZM1194.32 179.43H1195.81V180.93H1194.32ZM1219.84 179.43H1221.33V180.93H1219.84ZM1218.49 180.78H1219.99V182.27H1218.49ZM1167.45 182.12H1168.95V183.61H1167.45ZM1201.03 182.12H1203.87V183.61H1201.03ZM1162.08 183.46H1163.57V184.96H1162.08ZM1205.06 183.46H1206.56V184.96H1205.06ZM1159.39 184.81H1160.89V186.3H1159.39ZM1144.62 187.49H1146.11V188.99H1144.62ZM1144.62 188.84H1146.11V190.33H1144.62ZM1145.96 190.18H1147.46V191.67H1145.96ZM1144.62 191.52H1146.11V193.02H1144.62Z"/><path fill="#21918c" d="M1164.77 140.48H1166.26V141.97H1164.77ZM1172.83 140.48H1175.66V141.97H1172.83ZM1182.23 140.48H1185.06V141.97H1182.23ZM1187.6 140.48H1189.09V141.97H1187.6ZM1158.05 141.82H1159.54V143.31H1158.05ZM1163.42 141.82H1171.63V143.31H1163.42ZM1190.29 141.82H1191.78V143.31H1190.29ZM1197 141.82H1198.5V143.31H1197ZM1201.03 143.16H1202.53V144.66H1201.03ZM1201.03 144.51H1205.21V146H1201.03ZM1151.34 145.85H1152.83V147.34H1151.34ZM1205.06 145.85H1206.56V147.34H1205.06ZM1145.96 147.19H1147.46V148.69H1145.96ZM1149.99 148.54H1151.49V150.03H1149.99ZM1152.68 148.54H1154.17V150.03H1152.68ZM1209.09 148.54H1210.58V150.03H1209.09ZM1215.81 148.54H1217.3V150.03H1215.81ZM1147.31 149.88H1148.8V151.37H1147.31ZM1147.31 151.22H1148.8V152.72H1147.31ZM1145.96 152.57H1147.46V154.06H1145.96ZM1145.96 153.91H1150.14V155.4H1145.96ZM1213.12 153.91H1214.61V155.4H1213.12ZM1215.81 153.91H1217.3V155.4H1215.81ZM1145.96 155.25H1147.46V156.75H1145.96ZM1215.81 155.25H1217.3V156.75H1215.81ZM1143.28 156.6H1144.77V158.09H1143.28ZM1213.12 156.6H1214.61V158.09H1213.12ZM1217.15 156.6H1219.99V158.09H1217.15ZM1145.96 159.28H1147.46V160.78H1145.96ZM1144.62 161.97H1146.11V163.46H1144.62ZM1148.65 161.97H1150.14V163.46H1148.65ZM1218.49 161.97H1219.99V163.46H1218.49ZM1143.28 166H1144.77V167.49H1143.28ZM1218.49 166H1219.99V167.49H1218.49ZM1221.18 166H1222.67V167.49H1221.18ZM1144.62 167.34H1146.11V168.84H1144.62ZM1148.65 167.34H1150.14V168.84H1148.65ZM1218.49 167.34H1219.99V168.84H1218.49ZM1147.31 168.69H1148.8V170.18H1147.31ZM1222.52 168.69H1224.02V170.18H1222.52ZM1219.84 170.03H1222.67V171.52H1219.84ZM1143.28 171.37H1146.11V172.87H1143.28ZM1147.31 171.37H1148.8V172.87H1147.31ZM1218.49 171.37H1219.99V172.87H1218.49ZM1144.62 172.72H1146.11V174.21H1144.62ZM1217.15 172.72H1218.64V174.21H1217.15ZM1144.62 174.06H1146.11V175.55H1144.62ZM1219.84 174.06H1221.33V175.55H1219.84ZM1182.23 178.09H1183.72V179.58H1182.23ZM1184.91 178.09H1186.41V179.58H1184.91ZM1218.49 178.09H1221.33V179.58H1218.49ZM1145.96 179.43H1147.46V180.93H1145.96ZM1175.51 179.43H1177.01V180.93H1175.51ZM1170.14 180.78H1171.63V182.27H1170.14ZM1197 180.78H1198.5V182.27H1197ZM1219.84 180.78H1221.33V182.27H1219.84ZM1199.69 182.12H1201.18V183.61H1199.69ZM1144.62 183.46H1146.11V184.96H1144.62ZM1203.72 183.46H1205.21V184.96H1203.72ZM1206.41 183.46H1207.9V184.96H1206.41ZM1144.62 186.15H1146.11V187.64H1144.62ZM1213.12 186.15H1214.61V187.64H1213.12ZM1213.12 187.49H1214.61V188.99H1213.12ZM1215.81 188.84H1217.3V190.33H1215.81ZM1144.62 190.18H1146.11V191.67H1144.62ZM1148.65 190.18H1150.14V191.67H1148.65Z"/><path fill="#1fa088" d="M1176.86 140.48H1178.35V141.97H1176.86ZM1186.26 140.48H1187.75V141.97H1186.26ZM1180.89 141.82H1182.38V143.31H1180.89ZM1187.6 141.82H1189.09V143.31H1187.6ZM1191.63 141.82H1193.12V143.31H1191.63ZM1195.66 141.82H1197.15V143.31H1195.66ZM1155.37 143.16H1156.86V144.66H1155.37ZM1163.42 143.16H1164.92V144.66H1163.42ZM1194.32 143.16H1197.15V144.66H1194.32ZM1149.99 144.51H1151.49V146H1149.99ZM1158.05 144.51H1159.54V146H1158.05ZM1160.74 144.51H1162.23V146H1160.74ZM1164.77 144.51H1166.26V146H1164.77ZM1197 144.51H1199.84V146H1197ZM1209.09 144.51H1210.58V146H1209.09ZM1149.99 145.85H1151.49V147.34H1149.99ZM1199.69 145.85H1201.18V147.34H1199.69ZM1202.38 145.85H1205.21V147.34H1202.38ZM1149.99 147.19H1151.49V148.69H1149.99ZM1147.31 148.54H1148.8V150.03H1147.31ZM1207.75 148.54H1209.24V150.03H1207.75ZM1149.99 149.88H1152.83V151.37H1149.99ZM1211.78 151.22H1214.61V152.72H1211.78ZM1147.31 152.57H1148.8V154.06H1147.31ZM1210.43 152.57H1214.61V154.06H1210.43ZM1210.43 153.91H1211.93V155.4H1210.43ZM1214.46 153.91H1215.96V155.4H1214.46ZM1144.62 155.25H1146.11V156.75H1144.62ZM1213.12 155.25H1214.61V156.75H1213.12ZM1217.15 155.25H1218.64V156.75H1217.15ZM1145.96 156.6H1147.46V158.09H1145.96ZM1143.28 157.94H1144.77V159.43H1143.28ZM1215.81 157.94H1217.3V159.43H1215.81ZM1215.81 159.28H1217.3V160.78H1215.81ZM1144.62 160.63H1146.11V162.12H1144.62ZM1215.81 160.63H1217.3V162.12H1215.81ZM1219.84 160.63H1221.33V162.12H1219.84ZM1214.46 161.97H1215.96V163.46H1214.46ZM1219.84 163.31H1222.67V164.81H1219.84ZM1143.28 164.66H1146.11V166.15H1143.28ZM1217.15 164.66H1218.64V166.15H1217.15ZM1144.62 166H1146.11V167.49H1144.62ZM1219.84 167.34H1221.33V168.84H1219.84ZM1140.59 168.69H1142.08V170.18H1140.59ZM1148.65 168.69H1150.14V170.18H1148.65ZM1217.15 168.69H1218.64V170.18H1217.15ZM1144.62 170.03H1146.11V171.52H1144.62ZM1217.15 170.03H1219.99V171.52H1217.15ZM1215.81 171.37H1217.3V172.87H1215.81ZM1145.96 172.72H1147.46V174.21H1145.96ZM1214.46 174.06H1215.96V175.55H1214.46ZM1217.15 175.4H1219.99V176.9H1217.15ZM1187.6 176.75H1189.09V178.24H1187.6ZM1218.49 176.75H1219.99V178.24H1218.49ZM1147.31 178.09H1148.8V179.58H1147.31ZM1186.26 178.09H1187.75V179.58H1186.26ZM1188.94 178.09H1190.44V179.58H1188.94ZM1217.15 178.09H1218.64V179.58H1217.15ZM1171.48 179.43H1172.98V180.93H1171.48ZM1182.23 179.43H1183.72V180.93H1182.23ZM1191.63 179.43H1194.47V180.93H1191.63ZM1195.66 179.43H1197.15V180.93H1195.66ZM1168.8 180.78H1170.29V182.27H1168.8ZM1201.03 180.78H1202.53V182.27H1201.03ZM1164.77 182.12H1166.26V183.61H1164.77ZM1219.84 182.12H1221.33V183.61H1219.84ZM1159.39 183.46H1162.23V184.96H1159.39ZM1145.96 184.81H1147.46V186.3H1145.96ZM1156.71 184.81H1158.2V186.3H1156.71ZM1218.49 184.81H1219.99V186.3H1218.49ZM1145.96 186.15H1147.46V187.64H1145.96ZM1155.37 186.15H1158.2V187.64H1155.37ZM1147.31 188.84H1148.8V190.33H1147.31ZM1217.15 188.84H1219.99V190.33H1217.15Z"/><path fill="#28ae80" d="M1175.51 140.48H1177.01V141.97H1175.51ZM1171.48 141.82H1172.98V143.31H1171.48ZM1183.57 141.82H1185.06V143.31H1183.57ZM1186.26 141.82H1187.75V143.31H1186.26ZM1164.77 143.16H1166.26V144.66H1164.77ZM1188.94 143.16H1190.44V144.66H1188.94ZM1159.39 144.51H1160.89V146H1159.39ZM1168.8 144.51H1170.29V146H1168.8ZM1152.68 145.85H1158.2V147.34H1152.68ZM1201.03 145.85H1202.53V147.34H1201.03ZM1207.75 145.85H1209.24V147.34H1207.75ZM1148.65 147.19H1150.14V148.69H1148.65ZM1152.68 147.19H1154.17V148.69H1152.68ZM1206.41 147.19H1207.9V148.69H1206.41ZM1155.37 148.54H1156.86V150.03H1155.37ZM1205.06 148.54H1206.56V150.03H1205.06ZM1210.43 148.54H1211.93V150.03H1210.43ZM1209.09 149.88H1210.58V151.37H1209.09ZM1148.65 151.22H1150.14V152.72H1148.65ZM1207.75 151.22H1211.93V152.72H1207.75ZM1148.65 152.57H1150.14V154.06H1148.65ZM1154.02 152.57H1155.52V154.06H1154.02ZM1214.46 152.57H1215.96V154.06H1214.46ZM1210.43 155.25H1213.27V156.75H1210.43ZM1147.31 156.6H1150.14V158.09H1147.31ZM1210.43 156.6H1211.93V158.09H1210.43ZM1215.81 156.6H1217.3V158.09H1215.81ZM1144.62 157.94H1146.11V159.43H1144.62ZM1147.31 157.94H1148.8V159.43H1147.31ZM1144.62 159.28H1146.11V160.78H1144.62ZM1218.49 159.28H1219.99V160.78H1218.49ZM1148.65 160.63H1150.14V162.12H1148.65ZM1147.31 161.97H1148.8V163.46H1147.31ZM1217.15 161.97H1218.64V163.46H1217.15ZM1144.62 163.31H1150.14V164.81H1144.62ZM1218.49 163.31H1219.99V164.81H1218.49ZM1147.31 164.66H1148.8V166.15H1147.31ZM1147.31 166H1148.8V167.49H1147.31ZM1214.46 167.34H1215.96V168.84H1214.46ZM1215.81 168.69H1217.3V170.18H1215.81ZM1218.49 168.69H1219.99V170.18H1218.49ZM1147.31 170.03H1148.8V171.52H1147.31ZM1145.96 174.06H1148.8V175.55H1145.96ZM1148.65 175.4H1150.14V176.9H1148.65ZM1215.81 175.4H1217.3V176.9H1215.81ZM1184.91 176.75H1186.41V178.24H1184.91ZM1219.84 176.75H1221.33V178.24H1219.84ZM1176.86 178.09H1179.69V179.58H1176.86ZM1180.89 178.09H1182.38V179.58H1180.89ZM1195.66 178.09H1197.15V179.58H1195.66ZM1215.81 178.09H1217.3V179.58H1215.81ZM1147.31 179.43H1148.8V180.93H1147.31ZM1167.45 179.43H1168.95V180.93H1167.45ZM1197 179.43H1198.5V180.93H1197ZM1218.49 179.43H1219.99V180.93H1218.49ZM1145.96 180.78H1148.8V182.27H1145.96ZM1167.45 180.78H1168.95V182.27H1167.45ZM1198.35 180.78H1201.18V182.27H1198.35ZM1145.96 182.12H1147.46V183.61H1145.96ZM1162.08 182.12H1163.57V183.61H1162.08ZM1217.15 182.12H1218.64V183.61H1217.15ZM1218.49 183.46H1219.99V184.96H1218.49ZM1147.31 184.81H1148.8V186.3H1147.31ZM1158.05 184.81H1159.54V186.3H1158.05ZM1152.68 186.15H1154.17V187.64H1152.68ZM1152.68 187.49H1155.52V188.99H1152.68ZM1218.49 187.49H1219.99V188.99H1218.49ZM1148.65 188.84H1151.49V190.33H1148.65Z"/><path fill="#3fbc73" d="M1178.2 140.48H1179.69V141.97H1178.2ZM1184.91 141.82H1186.41V143.31H1184.91ZM1182.23 143.16H1185.06V144.66H1182.23ZM1197 143.16H1199.84V144.66H1197ZM1195.66 144.51H1197.15V146H1195.66ZM1199.69 144.51H1201.18V146H1199.69ZM1158.05 145.85H1159.54V147.34H1158.05ZM1198.35 145.85H1199.84V147.34H1198.35ZM1158.05 147.19H1159.54V148.69H1158.05ZM1151.34 148.54H1152.83V150.03H1151.34ZM1203.72 148.54H1205.21V150.03H1203.72ZM1206.41 148.54H1207.9V150.03H1206.41ZM1152.68 149.88H1154.17V151.37H1152.68ZM1207.75 149.88H1209.24V151.37H1207.75ZM1149.99 151.22H1152.83V152.72H1149.99ZM1152.68 152.57H1154.17V154.06H1152.68ZM1207.75 152.57H1209.24V154.06H1207.75ZM1211.78 153.91H1213.27V155.4H1211.78ZM1147.31 155.25H1148.8V156.75H1147.31ZM1151.34 155.25H1152.83V156.75H1151.34ZM1214.46 155.25H1215.96V156.75H1214.46ZM1144.62 156.6H1146.11V158.09H1144.62ZM1214.46 156.6H1215.96V158.09H1214.46ZM1145.96 157.94H1147.46V159.43H1145.96ZM1148.65 157.94H1150.14V159.43H1148.65ZM1211.78 157.94H1213.27V159.43H1211.78ZM1214.46 157.94H1215.96V159.43H1214.46ZM1148.65 159.28H1151.49V160.78H1148.65ZM1214.46 159.28H1215.96V160.78H1214.46ZM1149.99 160.63H1151.49V162.12H1149.99ZM1213.12 161.97H1214.61V163.46H1213.12ZM1215.81 161.97H1217.3V163.46H1215.81ZM1215.81 163.31H1217.3V164.81H1215.81ZM1213.12 164.66H1214.61V166.15H1213.12ZM1145.96 166H1147.46V167.49H1145.96ZM1213.12 166H1214.61V167.49H1213.12ZM1217.15 166H1218.64V167.49H1217.15ZM1145.96 167.34H1147.46V168.84H1145.96ZM1145.96 168.69H1147.46V170.18H1145.96ZM1213.12 168.69H1214.61V170.18H1213.12ZM1214.46 170.03H1215.96V171.52H1214.46ZM1148.65 171.37H1150.14V172.87H1148.65ZM1214.46 171.37H1215.96V172.87H1214.46ZM1149.99 174.06H1151.49V175.55H1149.99ZM1145.96 175.4H1148.8V176.9H1145.96ZM1217.15 176.75H1218.64V178.24H1217.15ZM1145.96 178.09H1147.46V179.58H1145.96ZM1148.65 178.09H1150.14V179.58H1148.65ZM1187.6 178.09H1189.09V179.58H1187.6ZM1192.97 178.09H1194.47V179.58H1192.97ZM1166.11 180.78H1167.6V182.27H1166.11ZM1202.38 180.78H1203.87V182.27H1202.38ZM1217.15 180.78H1218.64V182.27H1217.15ZM1160.74 182.12H1162.23V183.61H1160.74ZM1203.72 182.12H1205.21V183.61H1203.72ZM1218.49 182.12H1219.99V183.61H1218.49ZM1147.31 183.46H1148.8V184.96H1147.31ZM1217.15 183.46H1218.64V184.96H1217.15ZM1209.09 184.81H1210.58V186.3H1209.09ZM1217.15 186.15H1218.64V187.64H1217.15ZM1145.96 188.84H1147.46V190.33H1145.96Z"/><path fill="#5ec962" d="M1175.51 141.82H1177.01V143.31H1175.51ZM1182.23 141.82H1183.72V143.31H1182.23ZM1167.45 143.16H1168.95V144.66H1167.45ZM1171.48 143.16H1172.98V144.66H1171.48ZM1187.6 143.16H1189.09V144.66H1187.6ZM1190.29 143.16H1193.12V144.66H1190.29ZM1162.08 144.51H1164.92V146H1162.08ZM1167.45 144.51H1168.95V146H1167.45ZM1194.32 144.51H1195.81V146H1194.32ZM1159.39 145.85H1160.89V147.34H1159.39ZM1163.42 145.85H1164.92V147.34H1163.42ZM1155.37 147.19H1158.2V148.69H1155.37ZM1203.72 147.19H1205.21V148.69H1203.72ZM1203.72 149.88H1207.9V151.37H1203.72ZM1210.43 149.88H1211.93V151.37H1210.43ZM1145.96 151.22H1147.46V152.72H1145.96ZM1205.06 151.22H1206.56V152.72H1205.06ZM1151.34 152.57H1152.83V154.06H1151.34ZM1149.99 153.91H1151.49V155.4H1149.99ZM1207.75 153.91H1210.58V155.4H1207.75ZM1148.65 155.25H1150.14V156.75H1148.65ZM1207.75 155.25H1209.24V156.75H1207.75ZM1211.78 156.6H1213.27V158.09H1211.78ZM1210.43 157.94H1211.93V159.43H1210.43ZM1210.43 159.28H1211.93V160.78H1210.43ZM1213.12 159.28H1214.61V160.78H1213.12ZM1147.31 160.63H1148.8V162.12H1147.31ZM1211.78 160.63H1213.27V162.12H1211.78ZM1214.46 160.63H1215.96V162.12H1214.46ZM1217.15 160.63H1218.64V162.12H1217.15ZM1145.96 161.97H1147.46V163.46H1145.96ZM1211.78 161.97H1213.27V163.46H1211.78ZM1149.99 163.31H1151.49V164.81H1149.99ZM1217.15 163.31H1218.64V164.81H1217.15ZM1145.96 164.66H1147.46V166.15H1145.96ZM1214.46 164.66H1215.96V166.15H1214.46ZM1215.81 166H1217.3V167.49H1215.81ZM1147.31 167.34H1148.8V168.84H1147.31ZM1217.15 167.34H1218.64V168.84H1217.15ZM1217.15 171.37H1218.64V172.87H1217.15ZM1147.31 172.72H1148.8V174.21H1147.31ZM1182.23 176.75H1183.72V178.24H1182.23ZM1186.26 176.75H1187.75V178.24H1186.26ZM1172.83 178.09H1174.32V179.58H1172.83ZM1175.51 178.09H1177.01V179.58H1175.51ZM1179.54 178.09H1181.04V179.58H1179.54ZM1190.29 178.09H1191.78V179.58H1190.29ZM1194.32 178.09H1195.81V179.58H1194.32ZM1172.83 179.43H1174.32V180.93H1172.83ZM1198.35 179.43H1199.84V180.93H1198.35ZM1214.46 179.43H1218.64V180.93H1214.46ZM1163.42 182.12H1164.92V183.61H1163.42ZM1205.06 182.12H1206.56V183.61H1205.06ZM1155.37 184.81H1156.86V186.3H1155.37ZM1210.43 184.81H1211.93V186.3H1210.43ZM1211.78 186.15H1213.27V187.64H1211.78ZM1218.49 186.15H1219.99V187.64H1218.49ZM1215.81 187.49H1218.64V188.99H1215.81Z"/><path fill="#84d44b" d="M1172.83 141.82H1175.66V143.31H1172.83ZM1176.86 141.82H1181.04V143.31H1176.86ZM1166.11 143.16H1167.6V144.66H1166.11ZM1175.51 143.16H1177.01V144.66H1175.51ZM1180.89 143.16H1182.38V144.66H1180.89ZM1184.91 143.16H1187.75V144.66H1184.91ZM1192.97 143.16H1194.47V144.66H1192.97ZM1166.11 144.51H1167.6V146H1166.11ZM1192.97 144.51H1194.47V146H1192.97ZM1160.74 145.85H1162.23V147.34H1160.74ZM1197 145.85H1198.5V147.34H1197ZM1154.02 148.54H1155.52V150.03H1154.02ZM1202.38 148.54H1203.87V150.03H1202.38ZM1154.02 149.88H1155.52V151.37H1154.02ZM1152.68 151.22H1154.17V152.72H1152.68ZM1149.99 152.57H1151.49V154.06H1149.99ZM1209.09 152.57H1210.58V154.06H1209.09ZM1149.99 155.25H1151.49V156.75H1149.99ZM1209.09 156.6H1210.58V158.09H1209.09ZM1149.99 157.94H1151.49V159.43H1149.99ZM1151.34 159.28H1152.83V160.78H1151.34ZM1211.78 159.28H1213.27V160.78H1211.78ZM1149.99 161.97H1151.49V163.46H1149.99ZM1151.34 163.31H1152.83V164.81H1151.34ZM1213.12 163.31H1215.96V164.81H1213.12ZM1215.81 164.66H1217.3V166.15H1215.81ZM1149.99 166H1151.49V167.49H1149.99ZM1149.99 167.34H1151.49V168.84H1149.99ZM1215.81 167.34H1217.3V168.84H1215.81ZM1149.99 168.69H1151.49V170.18H1149.99ZM1214.46 168.69H1215.96V170.18H1214.46ZM1215.81 170.03H1217.3V171.52H1215.81ZM1149.99 171.37H1151.49V172.87H1149.99ZM1148.65 172.72H1151.49V174.21H1148.65ZM1217.15 174.06H1218.64V175.55H1217.15ZM1147.31 176.75H1148.8V178.24H1147.31ZM1176.86 176.75H1179.69V178.24H1176.86ZM1183.57 176.75H1185.06V178.24H1183.57ZM1171.48 178.09H1172.98V179.58H1171.48ZM1191.63 178.09H1193.12V179.58H1191.63ZM1168.8 179.43H1170.29V180.93H1168.8ZM1148.65 180.78H1150.14V182.27H1148.65ZM1164.77 180.78H1166.26V182.27H1164.77ZM1215.81 180.78H1217.3V182.27H1215.81ZM1148.65 182.12H1150.14V183.61H1148.65ZM1145.96 183.46H1147.46V184.96H1145.96ZM1158.05 183.46H1159.54V184.96H1158.05ZM1215.81 183.46H1217.3V184.96H1215.81ZM1147.31 186.15H1148.8V187.64H1147.31ZM1214.46 186.15H1215.96V187.64H1214.46ZM1145.96 187.49H1147.46V188.99H1145.96ZM1149.99 187.49H1151.49V188.99H1149.99ZM1214.46 187.49H1215.96V188.99H1214.46Z"/><path fill="#addc30" d="M1168.8 143.16H1171.63V144.66H1168.8ZM1176.86 143.16H1181.04V144.66H1176.86ZM1170.14 144.51H1175.66V146H1170.14ZM1183.57 144.51H1193.12V146H1183.57ZM1162.08 145.85H1163.57V147.34H1162.08ZM1164.77 145.85H1167.6V147.34H1164.77ZM1192.97 145.85H1197.15V147.34H1192.97ZM1159.39 147.19H1164.92V148.69H1159.39ZM1197 147.19H1199.84V148.69H1197ZM1156.71 148.54H1160.89V150.03H1156.71ZM1199.69 148.54H1202.53V150.03H1199.69ZM1156.71 149.88H1158.2V151.37H1156.71ZM1201.03 149.88H1203.87V151.37H1201.03ZM1155.37 151.22H1156.86V152.72H1155.37ZM1203.72 151.22H1205.21V152.72H1203.72ZM1155.37 152.57H1156.86V154.06H1155.37ZM1205.06 152.57H1207.9V154.06H1205.06ZM1152.68 153.91H1155.52V155.4H1152.68ZM1205.06 153.91H1207.9V155.4H1205.06ZM1152.68 155.25H1155.52V156.75H1152.68ZM1206.41 155.25H1207.9V156.75H1206.41ZM1209.09 155.25H1210.58V156.75H1209.09ZM1151.34 156.6H1154.17V158.09H1151.34ZM1207.75 156.6H1209.24V158.09H1207.75ZM1152.68 157.94H1154.17V159.43H1152.68ZM1207.75 157.94H1210.58V159.43H1207.75ZM1213.12 157.94H1214.61V159.43H1213.12ZM1147.31 159.28H1148.8V160.78H1147.31ZM1209.09 159.28H1210.58V160.78H1209.09ZM1151.34 160.63H1152.83V162.12H1151.34ZM1213.12 160.63H1214.61V162.12H1213.12ZM1210.43 161.97H1211.93V163.46H1210.43ZM1210.43 163.31H1213.27V164.81H1210.43ZM1149.99 164.66H1152.83V166.15H1149.99ZM1211.78 164.66H1213.27V166.15H1211.78ZM1148.65 166H1150.14V167.49H1148.65ZM1151.34 166H1152.83V167.49H1151.34ZM1211.78 166H1213.27V167.49H1211.78ZM1214.46 166H1215.96V167.49H1214.46ZM1151.34 167.34H1152.83V168.84H1151.34ZM1211.78 167.34H1214.61V168.84H1211.78ZM1151.34 168.69H1152.83V170.18H1151.34ZM1211.78 168.69H1213.27V170.18H1211.78ZM1148.65 170.03H1150.14V171.52H1148.65ZM1151.34 170.03H1152.83V171.52H1151.34ZM1211.78 170.03H1213.27V171.52H1211.78ZM1151.34 171.37H1152.83V172.87H1151.34ZM1211.78 171.37H1213.27V172.87H1211.78ZM1151.34 172.72H1152.83V174.21H1151.34ZM1215.81 172.72H1217.3V174.21H1215.81ZM1213.12 174.06H1214.61V175.55H1213.12ZM1215.81 174.06H1217.3V175.55H1215.81ZM1149.99 175.4H1151.49V176.9H1149.99ZM1213.12 175.4H1214.61V176.9H1213.12ZM1148.65 176.75H1151.49V178.24H1148.65ZM1172.83 176.75H1177.01V178.24H1172.83ZM1180.89 176.75H1182.38V178.24H1180.89ZM1188.94 176.75H1195.81V178.24H1188.94ZM1213.12 176.75H1217.3V178.24H1213.12ZM1149.99 178.09H1151.49V179.58H1149.99ZM1168.8 178.09H1171.63V179.58H1168.8ZM1197 178.09H1199.84V179.58H1197ZM1148.65 179.43H1151.49V180.93H1148.65ZM1164.77 179.43H1167.6V180.93H1164.77ZM1170.14 179.43H1171.63V180.93H1170.14ZM1199.69 179.43H1203.87V180.93H1199.69ZM1149.99 180.78H1151.49V182.27H1149.99ZM1162.08 180.78H1164.92V182.27H1162.08ZM1203.72 180.78H1206.56V182.27H1203.72ZM1214.46 180.78H1215.96V182.27H1214.46ZM1147.31 182.12H1148.8V183.61H1147.31ZM1159.39 182.12H1160.89V183.61H1159.39ZM1207.75 182.12H1209.24V183.61H1207.75ZM1214.46 182.12H1215.96V183.61H1214.46ZM1148.65 183.46H1150.14V184.96H1148.65ZM1156.71 183.46H1158.2V184.96H1156.71ZM1207.75 183.46H1211.93V184.96H1207.75ZM1148.65 184.81H1150.14V186.3H1148.65ZM1152.68 184.81H1155.52V186.3H1152.68ZM1211.78 184.81H1217.3V186.3H1211.78ZM1148.65 186.15H1150.14V187.64H1148.65ZM1151.34 186.15H1152.83V187.64H1151.34ZM1154.02 186.15H1155.52V187.64H1154.02ZM1215.81 186.15H1217.3V187.64H1215.81ZM1147.31 187.49H1150.14V188.99H1147.31Z"/><path fill="#d8e219" d="M1172.83 143.16H1175.66V144.66H1172.83ZM1175.51 144.51H1183.72V146H1175.51ZM1167.45 145.85H1193.12V147.34H1167.45ZM1154.02 147.19H1155.52V148.69H1154.02ZM1164.77 147.19H1172.98V148.69H1164.77ZM1190.29 147.19H1197.15V148.69H1190.29ZM1199.69 147.19H1203.87V148.69H1199.69ZM1160.74 148.54H1166.26V150.03H1160.74ZM1194.32 148.54H1199.84V150.03H1194.32ZM1158.05 149.88H1163.57V151.37H1158.05ZM1198.35 149.88H1201.18V151.37H1198.35ZM1154.02 151.22H1155.52V152.72H1154.02ZM1156.71 151.22H1160.89V152.72H1156.71ZM1199.69 151.22H1203.87V152.72H1199.69ZM1206.41 151.22H1207.9V152.72H1206.41ZM1156.71 152.57H1159.54V154.06H1156.71ZM1201.03 152.57H1205.21V154.06H1201.03ZM1151.34 153.91H1152.83V155.4H1151.34ZM1155.37 153.91H1158.2V155.4H1155.37ZM1202.38 153.91H1205.21V155.4H1202.38ZM1155.37 155.25H1156.86V156.75H1155.37ZM1203.72 155.25H1206.56V156.75H1203.72ZM1149.99 156.6H1151.49V158.09H1149.99ZM1154.02 156.6H1156.86V158.09H1154.02ZM1205.06 156.6H1207.9V158.09H1205.06ZM1154.02 157.94H1156.86V159.43H1154.02ZM1205.06 157.94H1207.9V159.43H1205.06ZM1152.68 159.28H1155.52V160.78H1152.68ZM1206.41 159.28H1209.24V160.78H1206.41ZM1152.68 160.63H1155.52V162.12H1152.68ZM1207.75 160.63H1211.93V162.12H1207.75ZM1152.68 161.97H1155.52V163.46H1152.68ZM1207.75 161.97H1210.58V163.46H1207.75ZM1152.68 163.31H1155.52V164.81H1152.68ZM1209.09 163.31H1210.58V164.81H1209.09ZM1148.65 164.66H1150.14V166.15H1148.65ZM1152.68 164.66H1155.52V166.15H1152.68ZM1209.09 164.66H1211.93V166.15H1209.09ZM1152.68 166H1155.52V167.49H1152.68ZM1209.09 166H1211.93V167.49H1209.09ZM1152.68 167.34H1155.52V168.84H1152.68ZM1210.43 167.34H1211.93V168.84H1210.43ZM1152.68 168.69H1154.17V170.18H1152.68ZM1210.43 168.69H1211.93V170.18H1210.43ZM1149.99 170.03H1151.49V171.52H1149.99ZM1152.68 170.03H1154.17V171.52H1152.68ZM1210.43 170.03H1211.93V171.52H1210.43ZM1152.68 171.37H1154.17V172.87H1152.68ZM1210.43 171.37H1211.93V172.87H1210.43ZM1213.12 171.37H1214.61V172.87H1213.12ZM1152.68 172.72H1154.17V174.21H1152.68ZM1210.43 172.72H1215.96V174.21H1210.43ZM1148.65 174.06H1150.14V175.55H1148.65ZM1151.34 174.06H1154.17V175.55H1151.34ZM1174.17 174.06H1194.47V175.55H1174.17ZM1210.43 174.06H1213.27V175.55H1210.43ZM1151.34 175.4H1154.17V176.9H1151.34ZM1170.14 175.4H1198.5V176.9H1170.14ZM1210.43 175.4H1213.27V176.9H1210.43ZM1151.34 176.75H1154.17V178.24H1151.34ZM1166.11 176.75H1172.98V178.24H1166.11ZM1179.54 176.75H1181.04V178.24H1179.54ZM1195.66 176.75H1202.53V178.24H1195.66ZM1210.43 176.75H1213.27V178.24H1210.43ZM1151.34 178.09H1154.17V179.58H1151.34ZM1162.08 178.09H1168.95V179.58H1162.08ZM1199.69 178.09H1206.56V179.58H1199.69ZM1211.78 178.09H1214.61V179.58H1211.78ZM1151.34 179.43H1152.83V180.93H1151.34ZM1159.39 179.43H1164.92V180.93H1159.39ZM1203.72 179.43H1209.24V180.93H1203.72ZM1211.78 179.43H1214.61V180.93H1211.78ZM1151.34 180.78H1152.83V182.27H1151.34ZM1156.71 180.78H1162.23V182.27H1156.71ZM1206.41 180.78H1214.61V182.27H1206.41ZM1149.99 182.12H1152.83V183.61H1149.99ZM1154.02 182.12H1159.54V183.61H1154.02ZM1206.41 182.12H1207.9V183.61H1206.41ZM1209.09 182.12H1214.61V183.61H1209.09ZM1215.81 182.12H1217.3V183.61H1215.81ZM1149.99 183.46H1156.86V184.96H1149.99ZM1211.78 183.46H1215.96V184.96H1211.78ZM1149.99 184.81H1152.83V186.3H1149.99ZM1217.15 184.81H1218.64V186.3H1217.15ZM1149.99 186.15H1151.49V187.64H1149.99ZM1151.34 187.49H1152.83V188.99H1151.34Z"/><path fill="#fde725" d="M1172.83 147.19H1190.44V148.69H1172.83ZM1166.11 148.54H1194.47V150.03H1166.11ZM1155.37 149.88H1156.86V151.37H1155.37ZM1163.42 149.88H1198.5V151.37H1163.42ZM1160.74 151.22H1199.84V152.72H1160.74ZM1159.39 152.57H1201.18V154.06H1159.39ZM1158.05 153.91H1202.53V155.4H1158.05ZM1156.71 155.25H1203.87V156.75H1156.71ZM1156.71 156.6H1205.21V158.09H1156.71ZM1151.34 157.94H1152.83V159.43H1151.34ZM1156.71 157.94H1205.21V159.43H1156.71ZM1155.37 159.28H1206.56V160.78H1155.37ZM1155.37 160.63H1207.9V162.12H1155.37ZM1151.34 161.97H1152.83V163.46H1151.34ZM1155.37 161.97H1207.9V163.46H1155.37ZM1155.37 163.31H1209.24V164.81H1155.37ZM1155.37 164.66H1209.24V166.15H1155.37ZM1155.37 166H1209.24V167.49H1155.37ZM1155.37 167.34H1210.58V168.84H1155.37ZM1154.02 168.69H1210.58V170.18H1154.02ZM1154.02 170.03H1210.58V171.52H1154.02ZM1213.12 170.03H1214.61V171.52H1213.12ZM1154.02 171.37H1210.58V172.87H1154.02ZM1154.02 172.72H1210.58V174.21H1154.02ZM1154.02 174.06H1174.32V175.55H1154.02ZM1194.32 174.06H1210.58V175.55H1194.32ZM1154.02 175.4H1170.29V176.9H1154.02ZM1198.35 175.4H1210.58V176.9H1198.35ZM1214.46 175.4H1215.96V176.9H1214.46ZM1154.02 176.75H1166.26V178.24H1154.02ZM1202.38 176.75H1210.58V178.24H1202.38ZM1154.02 178.09H1162.23V179.58H1154.02ZM1174.17 178.09H1175.66V179.58H1174.17ZM1206.41 178.09H1211.93V179.58H1206.41ZM1214.46 178.09H1215.96V179.58H1214.46ZM1152.68 179.43H1159.54V180.93H1152.68ZM1209.09 179.43H1211.93V180.93H1209.09ZM1152.68 180.78H1156.86V182.27H1152.68ZM1152.68 182.12H1154.17V183.61H1152.68Z"/></g>
<path d="M663.14 56.59 L665.05 55.92 L668.65 55.68 L673.93 55.87 L678.01 57.17 L680.88 59.57 L684.72 59.33 L689.52 56.45 L693.12 55.83 L695.52 57.46 L697.67 59.38 L699.59 61.58 L703.19 63.17 L708.47 64.12 L713.5 63.65 L718.3 61.73 L720.94 61.97 L721.42 64.36 L721.42 67 L720.94 69.88 L719.26 72.04 L716.38 73.48 L712.54 74.34 L707.75 74.63 L703.43 75.59 L699.59 77.22 L696.23 78.52 L693.36 79.48 L688.56 80.29 L681.84 80.96 L676.09 81.3 L671.29 81.3 L667.69 80.48 L665.29 78.85 L664.43 77.08 L665.1 75.16 L667.26 72.76 L670.91 69.88 L673.45 67.72 L674.89 66.28 L674.89 64.6 L673.45 62.69 L670.09 60.53 L664.81 58.13Z" fill="none" stroke="#fff" stroke-width="1.7" stroke-linejoin="round" stroke-linecap="round"/>
<text transform="translate(696 64.4) rotate(5)" x="0" y="0" font-size="10.6" fill="#fff" textLength="24.5" lengthAdjust="spacingAndGlyphs" stroke="#fff" stroke-width="0.1">0.99</text>
<path d="M704.04 167.35 L702.72 166.92 L702.07 169.14 L701.57 170.06 L700.72 171.23 L698.73 173.16 L698.95 174.63 L696.88 173.93 L694.81 173.78 L694.1 174.62 L690.7 175.62 L690.62 176.16 L686.88 175.58 L686.06 175.89 L683.13 175.61 L682.31 176.77 L679.14 174.43 L677.79 172.52 L676.22 172.71 L676.34 172.45 L673.31 172.01 L673.32 169.28 L672.52 168.97 L671.93 168.25 L670.84 166.86 L673.25 166.47 L673.71 165.49 L674.61 162.81 L675.04 161.23 L675.13 160.21 L677.6 161.6 L678.22 161.13 L679.54 159.34 L681.9 157.96 L683.98 159.69 L684.9 158.73 L687.49 159.26 L689.92 158.57 L691.98 158.5 L692.43 159.68 L694.23 159.4 L697.27 159.3 L698.44 161.48 L699.63 160.93 L698.71 161.85 L701.21 163.23 L701.6 164.98 L702.25 165.79Z" fill="none" stroke="#fff" stroke-width="3" stroke-linejoin="round" stroke-linecap="round"/>
<text transform="translate(674.5 175) rotate(10)" x="0" y="0" font-size="8.6" fill="#fff" textLength="21" lengthAdjust="spacingAndGlyphs" stroke="#fff" stroke-width="0.1">0.99</text>
<path d="M789 79.04 L790.58 78.41 L792.17 77.79 L793.75 77.16 L795.34 76.53 L796.92 75.91 L798.5 75.28 L800.09 74.77 L801.67 74.34 L803.26 73.91 L804.84 73.48 L806.42 73.05 L808.01 72.62 L809.59 72.22 L811.18 71.82 L812.76 71.42 L814.34 71.02 L815.93 70.62 L817.51 70.22 L819.1 69.82 L820.68 69.42 L822.26 69.02 L823.85 68.62 L825.43 68.22 L827.02 67.82 L828.6 67.73 L830.18 67.71 L831.77 67.68 L833.35 67.66 L834.94 67.63" fill="none" stroke="#fff" stroke-width="1.8" stroke-linejoin="round" stroke-linecap="round"/>
<path d="M861.73 65.94 L863.4 65.67 L865.08 65.41 L866.75 65.15 L868.42 64.83 L870.09 64.31 L871.76 63.78 L873.44 63.42 L875.11 64.22 L876.78 65.01 L878.45 65.8 L880.12 66.59 L881.8 67.24 L883.47 67.77 L885.14 68.29 L886.81 68.82 L888.48 69.35 L890.16 69.88 L891.83 70.36 L893.5 70.78 L895.17 71.2 L896.84 71.63 L898.52 72.05 L900.19 72.47 L901.86 72.89 L903.53 73.32 L905.2 73.91 L906.88 74.54 L908.55 75.18 L910.22 75.81" fill="none" stroke="#fff" stroke-width="1.8" stroke-linejoin="round" stroke-linecap="round"/>
<path d="M789 76.62 L790.58 76.87 L792.17 77.12 L793.75 77.37 L795.34 77.62 L796.92 77.85 L798.5 78.02 L800.09 78.19 L801.67 78.36 L803.26 78.52 L804.84 78.71 L806.42 78.94 L808.01 79.17 L809.59 79.4 L811.18 79.63 L812.76 79.86 L814.34 80.1 L815.93 80.33 L817.51 80.56 L819.1 80.79 L820.68 81.02 L822.26 81.08 L823.85 81.11 L825.43 81.15 L827.02 81.18 L828.6 81.21 L830.18 81.25 L831.77 81.28 L833.35 81.31 L834.94 81.35" fill="none" stroke="#fff" stroke-width="1.8" stroke-linejoin="round" stroke-linecap="round"/>
<path d="M864.28 81.07 L865.87 81.02 L867.45 80.85 L869.04 80.69 L870.62 80.52 L872.2 80.35 L873.79 80.18 L875.37 80.02 L876.96 79.85 L878.54 79.68 L880.12 79.52 L881.71 79.35 L883.29 79.18 L884.88 79.05 L886.46 79.15 L888.04 79.25 L889.63 79.35 L891.21 79.45 L892.8 79.55 L894.38 79.65 L895.96 79.75 L897.55 79.85 L899.13 79.95 L900.72 80.05 L902.3 80.15 L903.88 80.25 L905.47 80.3 L907.05 80.35 L908.64 80.4 L910.22 80.45" fill="none" stroke="#fff" stroke-width="1.8" stroke-linejoin="round" stroke-linecap="round"/>
<text x="836.3" y="68" font-size="10.6" fill="#fff" textLength="24.5" lengthAdjust="spacingAndGlyphs" stroke="#fff" stroke-width="0.1">0.99</text>
<text x="836.3" y="85.6" font-size="10.6" fill="#fff" textLength="24.5" lengthAdjust="spacingAndGlyphs" stroke="#fff" stroke-width="0.1">0.99</text>
<path d="M792.34 171.46 L796.08 170.89 L798.31 171.01 L801 169.72 L804.43 169.27 L806.99 168.77 L810.32 168.5 L812.91 167.5 L816.94 167.84 L819.05 166.87 L822.27 165.89 L825.36 165.68 L829.05 165.7 L831.77 164.95 L834.79 164.67 L838.11 164.12 L840.87 164.09 L843.9 164.08 L847.03 164.32 L849.97 164.26 L852.94 163.43 L856.12 163.91 L859.23 164.43 L862.57 164.35 L865.1 164.33 L868.75 164.83 L870.84 164.92 L874.14 165.98 L877.35 166.78 L880.66 166.44 L883.32 167.16 L886.43 167.08 L889.76 167.92 L893.02 168.44 L894.64 169.29 L898.03 170.1 L902.37 169.96 L904.36 170.17 L908.12 171.14 L910.65 171.68 L911.59 173.01 L908.08 172.91 L905.13 172.73 L901.48 172.01 L898.42 171.68 L896.04 171.61 L892.57 171.41 L889.35 171.79 L886.36 171.21 L883.65 171.42 L880.71 171.43 L876.77 171.73 L874.52 172 L871.01 172.67 L867.83 172.18 L865.23 171.88 L862.46 172.01 L858.31 171.76 L856.25 173.01 L852.53 172.28 L850.51 172.37 L846.83 171.52 L843.29 171.62 L840.75 170.95 L837.24 171.77 L834.65 171.47 L831.6 171.52 L829.03 172.44 L826.39 172.19 L822.88 172.52 L820.18 172.62 L816.96 172.02 L812.93 172.69 L810.41 172.5 L807.09 172.2 L804.85 172.95 L800.95 172.99 L798.38 173.03 L796.01 172.84 L791.74 172.93Z" fill="none" stroke="#fff" stroke-width="3" stroke-linejoin="round" stroke-linecap="round"/>
<text transform="translate(828.5 172.6) rotate(3)" x="0" y="0" font-size="9.4" fill="#fff" textLength="23.5" lengthAdjust="spacingAndGlyphs" stroke="#fff" stroke-width="0.1">0.99</text>
<path d="M961.32 56.25 L965.61 53.11 L970 50.18 L974.47 47.48 L978.94 44.78 L983.42 42.09 L988.56 39.03 L994.38 35.61 L1008.25 33.9 L1030.17 33.9 L1042.25 35.07 L1044.49 37.41 L1046.73 38.89 L1048.96 39.52 L1051.2 40.51 L1053.44 41.86 L1057.02 44.33 L1061.94 47.93 L1066.64 51.76 L1071.11 55.8 L1072.9 58.73 L1072 60.53 L1069.77 62.1 L1066.19 63.45 L1062.61 64.8 L1059.03 66.15 L1055.9 65.92 L1053.21 64.12 L1050.53 64.12 L1047.84 65.92 L1044.71 67.27 L1041.13 68.17 L1037.55 69.52 L1033.98 71.32 L1030.84 73.35 L1028.16 75.59 L1025.7 78.52 L1023.46 82.12 L1021.45 85.71 L1019.66 89.31 L1018 93.36 L1016.48 97.86 L1015.27 101.68 L1014.38 104.83 L1013.39 104.38 L1012.32 100.33 L1011.07 95.61 L1009.64 90.21 L1008.03 86.16 L1006.24 83.47 L1005.7 80.99 L1006.41 78.74 L1005.07 76.27 L1001.67 73.57 L998.18 71.32 L994.6 69.52 L990.13 67.95 L984.76 66.6 L978.94 65.83 L972.68 65.65 L968.65 64.75 L966.86 63.14 L964.27 61.2 L960.87 58.95Z" fill="none" stroke="#fff" stroke-width="1.9" stroke-linejoin="round" stroke-linecap="round"/>
<text transform="translate(1051.5 38.5) rotate(40)" x="0" y="0" font-size="8.6" fill="#fff" textLength="24" lengthAdjust="spacingAndGlyphs" stroke="#fff" stroke-width="0.1">0.99</text>
<path d="M987.1 151.4 L992.23 147.6 L995.85 145.63 L1001.77 142.41 L1006 140.82 L1009.97 139.43 L1012.14 138.11 L1015.45 136.32 L1019.02 136.43 L1023.27 138.62 L1027.41 141.04 L1031.2 142.38 L1036.54 144.34 L1041.31 147.35 L1044.64 149.3 L1048.06 150.29 L1051.32 152.84 L1052.81 153.8 L1051.02 154.69 L1048.11 156.2 L1044.37 157.02 L1038.14 158.78 L1033.92 159.11 L1030.88 160.66 L1027.26 162.39 L1025.39 165.48 L1023.31 168.36 L1021.93 173.19 L1021.69 176.29 L1020.59 181.4 L1019.87 185.22 L1019.01 190.31 L1018.63 192.91 L1018 194.83 L1016.21 195.31 L1016.55 193.43 L1015.86 190.72 L1014.52 185.26 L1013.46 180.89 L1012.57 177.84 L1011.63 174.71 L1009.55 170.98 L1008.48 167.62 L1006.53 163.74 L1003.9 161.16 L1000.18 158.97 L995.75 157.45 L992.23 156.34 L988.11 155.38 L985.89 153.24Z" fill="none" stroke="#fff" stroke-width="2.7" stroke-linejoin="round" stroke-linecap="round"/>
<text transform="translate(1014.2 166.5) rotate(82)" x="0" y="0" font-size="8.4" fill="#fff" textLength="20" lengthAdjust="spacingAndGlyphs" stroke="#fff" stroke-width="0.1">0.99</text>
<path d="M1150.28 47.71 L1152.52 45.46 L1155.65 43.66 L1159.68 42.31 L1163.48 41.95 L1167.06 42.58 L1172.43 42.9 L1179.59 42.9 L1185.41 42.72 L1189.88 42.36 L1193.68 42.63 L1196.81 43.53 L1199.5 45.19 L1201.74 47.62 L1203.53 50.41 L1204.87 53.56 L1206.21 56.25 L1207.55 58.5 L1209.34 60.98 L1211.58 63.68 L1213.14 65.92 L1214.04 67.72 L1213.59 69.97 L1211.8 72.67 L1210.68 76.04 L1210.24 80.09 L1209.57 84.36 L1208.67 88.86 L1207.1 93.14 L1204.87 97.18 L1202.41 98.31 L1199.72 96.51 L1196.81 94.71 L1193.68 92.91 L1190.33 91.34 L1186.75 89.99 L1183.17 89.54 L1179.59 89.99 L1176.01 90.44 L1172.43 90.89 L1168.85 92.24 L1165.27 94.48 L1161.69 96.64 L1158.11 98.71 L1155.88 98.04 L1154.98 94.62 L1154.31 91.11 L1153.86 87.51 L1153.64 84.36 L1153.64 81.67 L1153.42 78.52 L1152.97 74.92 L1152.52 70.87 L1152.07 66.37 L1152.07 62.33 L1152.52 58.73 L1151.85 54.9 L1150.06 50.86Z" fill="none" stroke="#fff" stroke-width="1.9" stroke-linejoin="round" stroke-linecap="round"/>
<text transform="translate(1146.6 60.5) rotate(66)" x="0" y="0" font-size="8.6" fill="#fff" textLength="20" lengthAdjust="spacingAndGlyphs" stroke="#fff" stroke-width="0.1">0.99</text>
<path d="M1161.03 148 L1164.84 146.55 L1169.43 145.04 L1175.11 143.44 L1181.34 144.16 L1186.94 144.3 L1192.77 145.16 L1196.94 146.03 L1200.84 148.46 L1203.41 150.05 L1206.42 153.42 L1207.84 157.32 L1209.99 159.3 L1211.64 162.57 L1213.34 167.36 L1213.07 172.46 L1213.38 176.29 L1214.11 179.41 L1215.44 183.5 L1217.7 185.66 L1216.43 186.62 L1213.46 185.31 L1209.33 183.45 L1206.59 183.27 L1202.51 180.45 L1198.7 179.14 L1193.5 178.02 L1188.93 177.17 L1183.94 177.18 L1180 177.45 L1175.42 176.89 L1171.05 179.68 L1166.46 180.22 L1161.66 181.95 L1157.55 183.92 L1153.79 186.53 L1150.19 188.66 L1149.14 188.63 L1148.45 187.43 L1149.4 182.65 L1150.55 180.03 L1150.9 175.71 L1151.1 171.79 L1151.51 168.05 L1152.69 163.75 L1152.74 160.15 L1153.41 156.7 L1154.49 154.01 L1157 152.13 L1157.31 149.8Z" fill="none" stroke="#fff" stroke-width="2.9" stroke-linejoin="round" stroke-linecap="round"/>
<text transform="translate(1157.5 184.6) rotate(-12)" x="0" y="0" font-size="9.6" fill="#fff" textLength="23" lengthAdjust="spacingAndGlyphs" stroke="#fff" stroke-width="0.1">0.99</text>
<line x1="653.8" y1="34.4" x2="653.8" y2="38.1" stroke="#fff" stroke-width="1.2" /><line x1="653.8" y1="114" x2="653.8" y2="110.3" stroke="#fff" stroke-width="1.2" /><line x1="683.8" y1="34.4" x2="683.8" y2="38.1" stroke="#fff" stroke-width="1.2" /><line x1="683.8" y1="114" x2="683.8" y2="110.3" stroke="#fff" stroke-width="1.2" /><line x1="713.6" y1="34.4" x2="713.6" y2="38.1" stroke="#fff" stroke-width="1.2" /><line x1="713.6" y1="114" x2="713.6" y2="110.3" stroke="#fff" stroke-width="1.2" /><line x1="743.4" y1="34.4" x2="743.4" y2="38.1" stroke="#fff" stroke-width="1.2" /><line x1="743.4" y1="114" x2="743.4" y2="110.3" stroke="#fff" stroke-width="1.2" /><line x1="624.3" y1="52.6" x2="628.6" y2="52.6" stroke="#fff" stroke-width="1.2" /><line x1="750.9" y1="52.6" x2="746.6" y2="52.6" stroke="#fff" stroke-width="1.2" /><line x1="624.3" y1="71.3" x2="628.6" y2="71.3" stroke="#fff" stroke-width="1.2" /><line x1="750.9" y1="71.3" x2="746.6" y2="71.3" stroke="#fff" stroke-width="1.2" /><line x1="624.3" y1="90.3" x2="628.6" y2="90.3" stroke="#fff" stroke-width="1.2" /><line x1="750.9" y1="90.3" x2="746.6" y2="90.3" stroke="#fff" stroke-width="1.2" /><line x1="624.3" y1="108.8" x2="628.6" y2="108.8" stroke="#fff" stroke-width="1.2" /><line x1="750.9" y1="108.8" x2="746.6" y2="108.8" stroke="#fff" stroke-width="1.2" /><rect x="623.8" y="33.9" width="127.6" height="80.6" fill="none" stroke="#0c0c0c" stroke-width="1.5"/>
<line x1="655.5" y1="126.2" x2="655.5" y2="129.9" stroke="#fff" stroke-width="1.2" /><line x1="655.5" y1="205.8" x2="655.5" y2="202.1" stroke="#fff" stroke-width="1.2" /><line x1="687.1" y1="126.2" x2="687.1" y2="129.9" stroke="#fff" stroke-width="1.2" /><line x1="687.1" y1="205.8" x2="687.1" y2="202.1" stroke="#fff" stroke-width="1.2" /><line x1="718.2" y1="126.2" x2="718.2" y2="129.9" stroke="#fff" stroke-width="1.2" /><line x1="718.2" y1="205.8" x2="718.2" y2="202.1" stroke="#fff" stroke-width="1.2" /><line x1="749.8" y1="126.2" x2="749.8" y2="129.9" stroke="#fff" stroke-width="1.2" /><line x1="749.8" y1="205.8" x2="749.8" y2="202.1" stroke="#fff" stroke-width="1.2" /><line x1="624.3" y1="146.2" x2="628.6" y2="146.2" stroke="#fff" stroke-width="1.2" /><line x1="750.9" y1="146.2" x2="746.6" y2="146.2" stroke="#fff" stroke-width="1.2" /><line x1="624.3" y1="166" x2="628.6" y2="166" stroke="#fff" stroke-width="1.2" /><line x1="750.9" y1="166" x2="746.6" y2="166" stroke="#fff" stroke-width="1.2" /><line x1="624.3" y1="185.8" x2="628.6" y2="185.8" stroke="#fff" stroke-width="1.2" /><line x1="750.9" y1="185.8" x2="746.6" y2="185.8" stroke="#fff" stroke-width="1.2" /><line x1="624.3" y1="204.6" x2="628.6" y2="204.6" stroke="#fff" stroke-width="1.2" /><line x1="750.9" y1="204.6" x2="746.6" y2="204.6" stroke="#fff" stroke-width="1.2" /><rect x="623.8" y="125.7" width="127.6" height="80.6" fill="none" stroke="#0c0c0c" stroke-width="1.5"/>
<line x1="819" y1="34.4" x2="819" y2="38.1" stroke="#fff" stroke-width="1.2" /><line x1="819" y1="114" x2="819" y2="110.3" stroke="#fff" stroke-width="1.2" /><line x1="849" y1="34.4" x2="849" y2="38.1" stroke="#fff" stroke-width="1.2" /><line x1="849" y1="114" x2="849" y2="110.3" stroke="#fff" stroke-width="1.2" /><line x1="878.8" y1="34.4" x2="878.8" y2="38.1" stroke="#fff" stroke-width="1.2" /><line x1="878.8" y1="114" x2="878.8" y2="110.3" stroke="#fff" stroke-width="1.2" /><line x1="908.6" y1="34.4" x2="908.6" y2="38.1" stroke="#fff" stroke-width="1.2" /><line x1="908.6" y1="114" x2="908.6" y2="110.3" stroke="#fff" stroke-width="1.2" /><line x1="789.5" y1="52.6" x2="793.8" y2="52.6" stroke="#fff" stroke-width="1.2" /><line x1="916.1" y1="52.6" x2="911.8" y2="52.6" stroke="#fff" stroke-width="1.2" /><line x1="789.5" y1="71.3" x2="793.8" y2="71.3" stroke="#fff" stroke-width="1.2" /><line x1="916.1" y1="71.3" x2="911.8" y2="71.3" stroke="#fff" stroke-width="1.2" /><line x1="789.5" y1="90.3" x2="793.8" y2="90.3" stroke="#fff" stroke-width="1.2" /><line x1="916.1" y1="90.3" x2="911.8" y2="90.3" stroke="#fff" stroke-width="1.2" /><line x1="789.5" y1="108.8" x2="793.8" y2="108.8" stroke="#fff" stroke-width="1.2" /><line x1="916.1" y1="108.8" x2="911.8" y2="108.8" stroke="#fff" stroke-width="1.2" /><rect x="789" y="33.9" width="127.6" height="80.6" fill="none" stroke="#0c0c0c" stroke-width="1.5"/>
<line x1="820.7" y1="126.2" x2="820.7" y2="129.9" stroke="#fff" stroke-width="1.2" /><line x1="820.7" y1="205.8" x2="820.7" y2="202.1" stroke="#fff" stroke-width="1.2" /><line x1="852.3" y1="126.2" x2="852.3" y2="129.9" stroke="#fff" stroke-width="1.2" /><line x1="852.3" y1="205.8" x2="852.3" y2="202.1" stroke="#fff" stroke-width="1.2" /><line x1="883.4" y1="126.2" x2="883.4" y2="129.9" stroke="#fff" stroke-width="1.2" /><line x1="883.4" y1="205.8" x2="883.4" y2="202.1" stroke="#fff" stroke-width="1.2" /><line x1="915" y1="126.2" x2="915" y2="129.9" stroke="#fff" stroke-width="1.2" /><line x1="915" y1="205.8" x2="915" y2="202.1" stroke="#fff" stroke-width="1.2" /><line x1="789.5" y1="146.2" x2="793.8" y2="146.2" stroke="#fff" stroke-width="1.2" /><line x1="916.1" y1="146.2" x2="911.8" y2="146.2" stroke="#fff" stroke-width="1.2" /><line x1="789.5" y1="166" x2="793.8" y2="166" stroke="#fff" stroke-width="1.2" /><line x1="916.1" y1="166" x2="911.8" y2="166" stroke="#fff" stroke-width="1.2" /><line x1="789.5" y1="185.8" x2="793.8" y2="185.8" stroke="#fff" stroke-width="1.2" /><line x1="916.1" y1="185.8" x2="911.8" y2="185.8" stroke="#fff" stroke-width="1.2" /><line x1="789.5" y1="204.6" x2="793.8" y2="204.6" stroke="#fff" stroke-width="1.2" /><line x1="916.1" y1="204.6" x2="911.8" y2="204.6" stroke="#fff" stroke-width="1.2" /><rect x="789" y="125.7" width="127.6" height="80.6" fill="none" stroke="#0c0c0c" stroke-width="1.5"/>
<line x1="983.8" y1="34.4" x2="983.8" y2="38.1" stroke="#fff" stroke-width="1.2" /><line x1="983.8" y1="114" x2="983.8" y2="110.3" stroke="#fff" stroke-width="1.2" /><line x1="1013.8" y1="34.4" x2="1013.8" y2="38.1" stroke="#fff" stroke-width="1.2" /><line x1="1013.8" y1="114" x2="1013.8" y2="110.3" stroke="#fff" stroke-width="1.2" /><line x1="1043.6" y1="34.4" x2="1043.6" y2="38.1" stroke="#fff" stroke-width="1.2" /><line x1="1043.6" y1="114" x2="1043.6" y2="110.3" stroke="#fff" stroke-width="1.2" /><line x1="1073.4" y1="34.4" x2="1073.4" y2="38.1" stroke="#fff" stroke-width="1.2" /><line x1="1073.4" y1="114" x2="1073.4" y2="110.3" stroke="#fff" stroke-width="1.2" /><line x1="954.3" y1="52.6" x2="958.6" y2="52.6" stroke="#fff" stroke-width="1.2" /><line x1="1080.9" y1="52.6" x2="1076.6" y2="52.6" stroke="#fff" stroke-width="1.2" /><line x1="954.3" y1="71.3" x2="958.6" y2="71.3" stroke="#fff" stroke-width="1.2" /><line x1="1080.9" y1="71.3" x2="1076.6" y2="71.3" stroke="#fff" stroke-width="1.2" /><line x1="954.3" y1="90.3" x2="958.6" y2="90.3" stroke="#fff" stroke-width="1.2" /><line x1="1080.9" y1="90.3" x2="1076.6" y2="90.3" stroke="#fff" stroke-width="1.2" /><line x1="954.3" y1="108.8" x2="958.6" y2="108.8" stroke="#fff" stroke-width="1.2" /><line x1="1080.9" y1="108.8" x2="1076.6" y2="108.8" stroke="#fff" stroke-width="1.2" /><rect x="953.8" y="33.9" width="127.6" height="80.6" fill="none" stroke="#0c0c0c" stroke-width="1.5"/>
<line x1="985.5" y1="126.2" x2="985.5" y2="129.9" stroke="#fff" stroke-width="1.2" /><line x1="985.5" y1="205.8" x2="985.5" y2="202.1" stroke="#fff" stroke-width="1.2" /><line x1="1017.1" y1="126.2" x2="1017.1" y2="129.9" stroke="#fff" stroke-width="1.2" /><line x1="1017.1" y1="205.8" x2="1017.1" y2="202.1" stroke="#fff" stroke-width="1.2" /><line x1="1048.2" y1="126.2" x2="1048.2" y2="129.9" stroke="#fff" stroke-width="1.2" /><line x1="1048.2" y1="205.8" x2="1048.2" y2="202.1" stroke="#fff" stroke-width="1.2" /><line x1="1079.8" y1="126.2" x2="1079.8" y2="129.9" stroke="#fff" stroke-width="1.2" /><line x1="1079.8" y1="205.8" x2="1079.8" y2="202.1" stroke="#fff" stroke-width="1.2" /><line x1="954.3" y1="146.2" x2="958.6" y2="146.2" stroke="#fff" stroke-width="1.2" /><line x1="1080.9" y1="146.2" x2="1076.6" y2="146.2" stroke="#fff" stroke-width="1.2" /><line x1="954.3" y1="166" x2="958.6" y2="166" stroke="#fff" stroke-width="1.2" /><line x1="1080.9" y1="166" x2="1076.6" y2="166" stroke="#fff" stroke-width="1.2" /><line x1="954.3" y1="185.8" x2="958.6" y2="185.8" stroke="#fff" stroke-width="1.2" /><line x1="1080.9" y1="185.8" x2="1076.6" y2="185.8" stroke="#fff" stroke-width="1.2" /><line x1="954.3" y1="204.6" x2="958.6" y2="204.6" stroke="#fff" stroke-width="1.2" /><line x1="1080.9" y1="204.6" x2="1076.6" y2="204.6" stroke="#fff" stroke-width="1.2" /><rect x="953.8" y="125.7" width="127.6" height="80.6" fill="none" stroke="#0c0c0c" stroke-width="1.5"/>
<line x1="1149.1" y1="34.4" x2="1149.1" y2="38.1" stroke="#fff" stroke-width="1.2" /><line x1="1149.1" y1="114" x2="1149.1" y2="110.3" stroke="#fff" stroke-width="1.2" /><line x1="1179.1" y1="34.4" x2="1179.1" y2="38.1" stroke="#fff" stroke-width="1.2" /><line x1="1179.1" y1="114" x2="1179.1" y2="110.3" stroke="#fff" stroke-width="1.2" /><line x1="1208.9" y1="34.4" x2="1208.9" y2="38.1" stroke="#fff" stroke-width="1.2" /><line x1="1208.9" y1="114" x2="1208.9" y2="110.3" stroke="#fff" stroke-width="1.2" /><line x1="1238.7" y1="34.4" x2="1238.7" y2="38.1" stroke="#fff" stroke-width="1.2" /><line x1="1238.7" y1="114" x2="1238.7" y2="110.3" stroke="#fff" stroke-width="1.2" /><line x1="1119.6" y1="52.6" x2="1123.9" y2="52.6" stroke="#fff" stroke-width="1.2" /><line x1="1246.2" y1="52.6" x2="1241.9" y2="52.6" stroke="#fff" stroke-width="1.2" /><line x1="1119.6" y1="71.3" x2="1123.9" y2="71.3" stroke="#fff" stroke-width="1.2" /><line x1="1246.2" y1="71.3" x2="1241.9" y2="71.3" stroke="#fff" stroke-width="1.2" /><line x1="1119.6" y1="90.3" x2="1123.9" y2="90.3" stroke="#fff" stroke-width="1.2" /><line x1="1246.2" y1="90.3" x2="1241.9" y2="90.3" stroke="#fff" stroke-width="1.2" /><line x1="1119.6" y1="108.8" x2="1123.9" y2="108.8" stroke="#fff" stroke-width="1.2" /><line x1="1246.2" y1="108.8" x2="1241.9" y2="108.8" stroke="#fff" stroke-width="1.2" /><rect x="1119.1" y="33.9" width="127.6" height="80.6" fill="none" stroke="#0c0c0c" stroke-width="1.5"/>
<line x1="1150.8" y1="126.2" x2="1150.8" y2="129.9" stroke="#fff" stroke-width="1.2" /><line x1="1150.8" y1="205.8" x2="1150.8" y2="202.1" stroke="#fff" stroke-width="1.2" /><line x1="1182.4" y1="126.2" x2="1182.4" y2="129.9" stroke="#fff" stroke-width="1.2" /><line x1="1182.4" y1="205.8" x2="1182.4" y2="202.1" stroke="#fff" stroke-width="1.2" /><line x1="1213.5" y1="126.2" x2="1213.5" y2="129.9" stroke="#fff" stroke-width="1.2" /><line x1="1213.5" y1="205.8" x2="1213.5" y2="202.1" stroke="#fff" stroke-width="1.2" /><line x1="1245.1" y1="126.2" x2="1245.1" y2="129.9" stroke="#fff" stroke-width="1.2" /><line x1="1245.1" y1="205.8" x2="1245.1" y2="202.1" stroke="#fff" stroke-width="1.2" /><line x1="1119.6" y1="146.2" x2="1123.9" y2="146.2" stroke="#fff" stroke-width="1.2" /><line x1="1246.2" y1="146.2" x2="1241.9" y2="146.2" stroke="#fff" stroke-width="1.2" /><line x1="1119.6" y1="166" x2="1123.9" y2="166" stroke="#fff" stroke-width="1.2" /><line x1="1246.2" y1="166" x2="1241.9" y2="166" stroke="#fff" stroke-width="1.2" /><line x1="1119.6" y1="185.8" x2="1123.9" y2="185.8" stroke="#fff" stroke-width="1.2" /><line x1="1246.2" y1="185.8" x2="1241.9" y2="185.8" stroke="#fff" stroke-width="1.2" /><line x1="1119.6" y1="204.6" x2="1123.9" y2="204.6" stroke="#fff" stroke-width="1.2" /><line x1="1246.2" y1="204.6" x2="1241.9" y2="204.6" stroke="#fff" stroke-width="1.2" /><rect x="1119.1" y="125.7" width="127.6" height="80.6" fill="none" stroke="#0c0c0c" stroke-width="1.5"/>
<text x="597.7" y="37.4" font-size="10.8" fill="#2a2a2a" textLength="20.8" lengthAdjust="spacingAndGlyphs" stroke="#2a2a2a" stroke-width="0.22">20%</text>
<text x="597.7" y="56" font-size="10.8" fill="#2a2a2a" textLength="20.8" lengthAdjust="spacingAndGlyphs" stroke="#2a2a2a" stroke-width="0.22">10%</text>
<text x="612.9" y="74.7" font-size="10.8" fill="#2a2a2a" textLength="5.6" lengthAdjust="spacingAndGlyphs" stroke="#2a2a2a" stroke-width="0.22">0</text>
<text x="595.1" y="93.7" font-size="10.8" fill="#2a2a2a" textLength="23.4" lengthAdjust="spacingAndGlyphs" stroke="#2a2a2a" stroke-width="0.22">-10%</text>
<text x="595.1" y="112.2" font-size="10.8" fill="#2a2a2a" textLength="23.4" lengthAdjust="spacingAndGlyphs" stroke="#2a2a2a" stroke-width="0.22">-20%</text>
<text x="597.7" y="129.3" font-size="10.8" fill="#2a2a2a" textLength="20.8" lengthAdjust="spacingAndGlyphs" stroke="#2a2a2a" stroke-width="0.22">20%</text>
<text x="597.7" y="149.6" font-size="10.8" fill="#2a2a2a" textLength="20.8" lengthAdjust="spacingAndGlyphs" stroke="#2a2a2a" stroke-width="0.22">10%</text>
<text x="612.9" y="169.4" font-size="10.8" fill="#2a2a2a" textLength="5.6" lengthAdjust="spacingAndGlyphs" stroke="#2a2a2a" stroke-width="0.22">0</text>
<text x="595.1" y="189.2" font-size="10.8" fill="#2a2a2a" textLength="23.4" lengthAdjust="spacingAndGlyphs" stroke="#2a2a2a" stroke-width="0.22">-10%</text>
<text x="595.1" y="208.8" font-size="10.8" fill="#2a2a2a" textLength="23.4" lengthAdjust="spacingAndGlyphs" stroke="#2a2a2a" stroke-width="0.22">-20%</text>
<text x="612.3" y="218.7" font-size="10.8" fill="#2a2a2a" textLength="23.4" lengthAdjust="spacingAndGlyphs" stroke="#2a2a2a" stroke-width="0.22">-20%</text>
<text x="643.8" y="218.7" font-size="10.8" fill="#2a2a2a" textLength="23.4" lengthAdjust="spacingAndGlyphs" stroke="#2a2a2a" stroke-width="0.22">-10%</text>
<text x="684.3" y="218.7" font-size="10.8" fill="#2a2a2a" textLength="5.6" lengthAdjust="spacingAndGlyphs" stroke="#2a2a2a" stroke-width="0.22">0</text>
<text x="707.8" y="218.7" font-size="10.8" fill="#2a2a2a" textLength="20.8" lengthAdjust="spacingAndGlyphs" stroke="#2a2a2a" stroke-width="0.22">10%</text>
<text x="739.4" y="218.7" font-size="10.8" fill="#2a2a2a" textLength="20.8" lengthAdjust="spacingAndGlyphs" stroke="#2a2a2a" stroke-width="0.22">20%</text>
<text x="762.9" y="37.4" font-size="10.8" fill="#2a2a2a" textLength="20.8" lengthAdjust="spacingAndGlyphs" stroke="#2a2a2a" stroke-width="0.22">40%</text>
<text x="762.9" y="56" font-size="10.8" fill="#2a2a2a" textLength="20.8" lengthAdjust="spacingAndGlyphs" stroke="#2a2a2a" stroke-width="0.22">20%</text>
<text x="778.1" y="74.7" font-size="10.8" fill="#2a2a2a" textLength="5.6" lengthAdjust="spacingAndGlyphs" stroke="#2a2a2a" stroke-width="0.22">0</text>
<text x="760.3" y="93.7" font-size="10.8" fill="#2a2a2a" textLength="23.4" lengthAdjust="spacingAndGlyphs" stroke="#2a2a2a" stroke-width="0.22">-20%</text>
<text x="760.3" y="112.2" font-size="10.8" fill="#2a2a2a" textLength="23.4" lengthAdjust="spacingAndGlyphs" stroke="#2a2a2a" stroke-width="0.22">-40%</text>
<text x="762.9" y="129.3" font-size="10.8" fill="#2a2a2a" textLength="20.8" lengthAdjust="spacingAndGlyphs" stroke="#2a2a2a" stroke-width="0.22">40%</text>
<text x="762.9" y="149.6" font-size="10.8" fill="#2a2a2a" textLength="20.8" lengthAdjust="spacingAndGlyphs" stroke="#2a2a2a" stroke-width="0.22">20%</text>
<text x="778.1" y="169.4" font-size="10.8" fill="#2a2a2a" textLength="5.6" lengthAdjust="spacingAndGlyphs" stroke="#2a2a2a" stroke-width="0.22">0</text>
<text x="760.3" y="189.2" font-size="10.8" fill="#2a2a2a" textLength="23.4" lengthAdjust="spacingAndGlyphs" stroke="#2a2a2a" stroke-width="0.22">-20%</text>
<text x="760.3" y="208.8" font-size="10.8" fill="#2a2a2a" textLength="23.4" lengthAdjust="spacingAndGlyphs" stroke="#2a2a2a" stroke-width="0.22">-40%</text>
<text x="777.5" y="218.7" font-size="10.8" fill="#2a2a2a" textLength="23.4" lengthAdjust="spacingAndGlyphs" stroke="#2a2a2a" stroke-width="0.22">-40%</text>
<text x="809" y="218.7" font-size="10.8" fill="#2a2a2a" textLength="23.4" lengthAdjust="spacingAndGlyphs" stroke="#2a2a2a" stroke-width="0.22">-20%</text>
<text x="849.5" y="218.7" font-size="10.8" fill="#2a2a2a" textLength="5.6" lengthAdjust="spacingAndGlyphs" stroke="#2a2a2a" stroke-width="0.22">0</text>
<text x="873" y="218.7" font-size="10.8" fill="#2a2a2a" textLength="20.8" lengthAdjust="spacingAndGlyphs" stroke="#2a2a2a" stroke-width="0.22">20%</text>
<text x="904.6" y="218.7" font-size="10.8" fill="#2a2a2a" textLength="20.8" lengthAdjust="spacingAndGlyphs" stroke="#2a2a2a" stroke-width="0.22">40%</text>
<text x="927.7" y="37.4" font-size="10.8" fill="#2a2a2a" textLength="20.8" lengthAdjust="spacingAndGlyphs" stroke="#2a2a2a" stroke-width="0.22">40%</text>
<text x="927.7" y="56" font-size="10.8" fill="#2a2a2a" textLength="20.8" lengthAdjust="spacingAndGlyphs" stroke="#2a2a2a" stroke-width="0.22">20%</text>
<text x="942.9" y="74.7" font-size="10.8" fill="#2a2a2a" textLength="5.6" lengthAdjust="spacingAndGlyphs" stroke="#2a2a2a" stroke-width="0.22">0</text>
<text x="925.1" y="93.7" font-size="10.8" fill="#2a2a2a" textLength="23.4" lengthAdjust="spacingAndGlyphs" stroke="#2a2a2a" stroke-width="0.22">-20%</text>
<text x="925.1" y="112.2" font-size="10.8" fill="#2a2a2a" textLength="23.4" lengthAdjust="spacingAndGlyphs" stroke="#2a2a2a" stroke-width="0.22">-40%</text>
<text x="927.7" y="129.3" font-size="10.8" fill="#2a2a2a" textLength="20.8" lengthAdjust="spacingAndGlyphs" stroke="#2a2a2a" stroke-width="0.22">40%</text>
<text x="927.7" y="149.6" font-size="10.8" fill="#2a2a2a" textLength="20.8" lengthAdjust="spacingAndGlyphs" stroke="#2a2a2a" stroke-width="0.22">20%</text>
<text x="942.9" y="169.4" font-size="10.8" fill="#2a2a2a" textLength="5.6" lengthAdjust="spacingAndGlyphs" stroke="#2a2a2a" stroke-width="0.22">0</text>
<text x="925.1" y="189.2" font-size="10.8" fill="#2a2a2a" textLength="23.4" lengthAdjust="spacingAndGlyphs" stroke="#2a2a2a" stroke-width="0.22">-20%</text>
<text x="925.1" y="208.8" font-size="10.8" fill="#2a2a2a" textLength="23.4" lengthAdjust="spacingAndGlyphs" stroke="#2a2a2a" stroke-width="0.22">-40%</text>
<text x="942.3" y="218.7" font-size="10.8" fill="#2a2a2a" textLength="23.4" lengthAdjust="spacingAndGlyphs" stroke="#2a2a2a" stroke-width="0.22">-40%</text>
<text x="973.8" y="218.7" font-size="10.8" fill="#2a2a2a" textLength="23.4" lengthAdjust="spacingAndGlyphs" stroke="#2a2a2a" stroke-width="0.22">-20%</text>
<text x="1014.3" y="218.7" font-size="10.8" fill="#2a2a2a" textLength="5.6" lengthAdjust="spacingAndGlyphs" stroke="#2a2a2a" stroke-width="0.22">0</text>
<text x="1037.8" y="218.7" font-size="10.8" fill="#2a2a2a" textLength="20.8" lengthAdjust="spacingAndGlyphs" stroke="#2a2a2a" stroke-width="0.22">20%</text>
<text x="1069.4" y="218.7" font-size="10.8" fill="#2a2a2a" textLength="20.8" lengthAdjust="spacingAndGlyphs" stroke="#2a2a2a" stroke-width="0.22">40%</text>
<text x="1093" y="37.4" font-size="10.8" fill="#2a2a2a" textLength="20.8" lengthAdjust="spacingAndGlyphs" stroke="#2a2a2a" stroke-width="0.22">50%</text>
<text x="1093" y="56" font-size="10.8" fill="#2a2a2a" textLength="20.8" lengthAdjust="spacingAndGlyphs" stroke="#2a2a2a" stroke-width="0.22">25%</text>
<text x="1108.2" y="74.7" font-size="10.8" fill="#2a2a2a" textLength="5.6" lengthAdjust="spacingAndGlyphs" stroke="#2a2a2a" stroke-width="0.22">0</text>
<text x="1090.4" y="93.7" font-size="10.8" fill="#2a2a2a" textLength="23.4" lengthAdjust="spacingAndGlyphs" stroke="#2a2a2a" stroke-width="0.22">-25%</text>
<text x="1090.4" y="112.2" font-size="10.8" fill="#2a2a2a" textLength="23.4" lengthAdjust="spacingAndGlyphs" stroke="#2a2a2a" stroke-width="0.22">-50%</text>
<text x="1093" y="129.3" font-size="10.8" fill="#2a2a2a" textLength="20.8" lengthAdjust="spacingAndGlyphs" stroke="#2a2a2a" stroke-width="0.22">50%</text>
<text x="1093" y="149.6" font-size="10.8" fill="#2a2a2a" textLength="20.8" lengthAdjust="spacingAndGlyphs" stroke="#2a2a2a" stroke-width="0.22">25%</text>
<text x="1108.2" y="169.4" font-size="10.8" fill="#2a2a2a" textLength="5.6" lengthAdjust="spacingAndGlyphs" stroke="#2a2a2a" stroke-width="0.22">0</text>
<text x="1090.4" y="189.2" font-size="10.8" fill="#2a2a2a" textLength="23.4" lengthAdjust="spacingAndGlyphs" stroke="#2a2a2a" stroke-width="0.22">-25%</text>
<text x="1090.4" y="208.8" font-size="10.8" fill="#2a2a2a" textLength="23.4" lengthAdjust="spacingAndGlyphs" stroke="#2a2a2a" stroke-width="0.22">-50%</text>
<text x="1107.6" y="218.7" font-size="10.8" fill="#2a2a2a" textLength="23.4" lengthAdjust="spacingAndGlyphs" stroke="#2a2a2a" stroke-width="0.22">-50%</text>
<text x="1139.1" y="218.7" font-size="10.8" fill="#2a2a2a" textLength="23.4" lengthAdjust="spacingAndGlyphs" stroke="#2a2a2a" stroke-width="0.22">-25%</text>
<text x="1179.6" y="218.7" font-size="10.8" fill="#2a2a2a" textLength="5.6" lengthAdjust="spacingAndGlyphs" stroke="#2a2a2a" stroke-width="0.22">0</text>
<text x="1203.1" y="218.7" font-size="10.8" fill="#2a2a2a" textLength="20.8" lengthAdjust="spacingAndGlyphs" stroke="#2a2a2a" stroke-width="0.22">25%</text>
<text x="1234.7" y="218.7" font-size="10.8" fill="#2a2a2a" textLength="20.8" lengthAdjust="spacingAndGlyphs" stroke="#2a2a2a" stroke-width="0.22">50%</text>
<text x="662.8" y="25.6" font-size="13.9" textLength="49.5" lengthAdjust="spacingAndGlyphs" stroke="#231f20" stroke-width="0.28">square</text>
<text x="818.6" y="26" font-size="14.3" textLength="68.2" lengthAdjust="spacingAndGlyphs" stroke="#231f20" stroke-width="0.25">CORPSE</text>
<text x="1003" y="26" font-size="14.3" textLength="29.8" lengthAdjust="spacingAndGlyphs" stroke="#231f20" stroke-width="0.25">BB1</text>
<text x="1164.6" y="26" font-size="14.3" textLength="35.6" lengthAdjust="spacingAndGlyphs" stroke="#231f20" stroke-width="0.25">ROC</text>
<text transform="translate(569.2 168.3) rotate(-90)" font-size="15.4" fill="#262626" textLength="94" lengthAdjust="spacingAndGlyphs">Rabi Error (Ω<tspan font-size="10" dy="-6">−1</tspan><tspan font-size="10" dy="9.5" dx="-11">max</tspan><tspan dy="-3.5">)</tspan></text>
<text x="570.5" y="123.6" font-size="13.4" fill="#262626" textLength="18.6" lengthAdjust="spacingAndGlyphs" stroke="#262626" stroke-width="0.12">(b)</text>
<text x="871" y="237.4" font-size="12" fill="#262626" stroke="#262626" stroke-width="0.25" textLength="128.6" lengthAdjust="spacingAndGlyphs">MW Detuning (Ω<tspan font-size="8.6" dy="-4.6">−1</tspan><tspan font-size="8.6" dy="7.6" dx="-9.5">max</tspan><tspan dy="-3">)</tspan></text>
<defs><linearGradient id="vir" x1="0" y1="1" x2="0" y2="0"><stop offset="0" stop-color="#440154"/><stop offset="0.1" stop-color="#482475"/><stop offset="0.2" stop-color="#414487"/><stop offset="0.3" stop-color="#355f8d"/><stop offset="0.4" stop-color="#2a788e"/><stop offset="0.5" stop-color="#21918c"/><stop offset="0.6" stop-color="#22a884"/><stop offset="0.7" stop-color="#44bf70"/><stop offset="0.8" stop-color="#7ad151"/><stop offset="0.9" stop-color="#bddf26"/><stop offset="1" stop-color="#fde725"/></linearGradient></defs>
<rect x="1267.6" y="83.4" width="16.6" height="73.4" fill="url(#vir)" stroke="#0c0c0c" stroke-width="1.3"/>
<line x1="1284" y1="113.6" x2="1280.5" y2="113.6" stroke="#fff" stroke-width="1.1" />
<line x1="1284" y1="142.2" x2="1280.5" y2="142.2" stroke="#fff" stroke-width="1.1" />
<text x="1252.4" y="71" font-size="12.6" fill="#262626" textLength="47.6" lengthAdjust="spacingAndGlyphs" stroke="#262626" stroke-width="0.12">Fidelity</text>
<text x="1288.8" y="88.9" font-size="11.6" fill="#262626" textLength="26.4" lengthAdjust="spacingAndGlyphs" stroke="#262626" stroke-width="0.12">1.00</text>
<text x="1288.8" y="117.8" font-size="11.6" fill="#262626" textLength="26.4" lengthAdjust="spacingAndGlyphs" stroke="#262626" stroke-width="0.12">0.98</text>
<text x="1288.8" y="146.4" font-size="11.6" fill="#262626" textLength="26.4" lengthAdjust="spacingAndGlyphs" stroke="#262626" stroke-width="0.12">0.96</text>
<text y="41.5" font-family='"Liberation Serif", serif' fill="#0a0a0a" stroke="#0a0a0a" stroke-width="0.75"><tspan x="548.2" y="39.9" font-size="17.6">(</tspan><tspan x="554.2" y="40.6" font-size="24" stroke-width="0.55"> c </tspan><tspan x="578.8" y="39.9" font-size="17.6">)</tspan></text>
</g>
<g id="panel-d">
<rect x="625.4" y="258.4" width="300.6" height="178.9" fill="#fff"/>
<line x1="639.5" y1="258.4" x2="639.5" y2="437.3" stroke="#a6a6a6" stroke-width="0.9" stroke-dasharray="2.2 1.9"/><line x1="711" y1="258.4" x2="711" y2="437.3" stroke="#a6a6a6" stroke-width="0.9" stroke-dasharray="2.2 1.9"/><line x1="782.5" y1="258.4" x2="782.5" y2="437.3" stroke="#a6a6a6" stroke-width="0.9" stroke-dasharray="2.2 1.9"/><line x1="854" y1="258.4" x2="854" y2="437.3" stroke="#a6a6a6" stroke-width="0.9" stroke-dasharray="2.2 1.9"/><line x1="625.4" y1="283.3" x2="926" y2="283.3" stroke="#a6a6a6" stroke-width="0.9" stroke-dasharray="2.2 1.9"/><line x1="625.4" y1="308.2" x2="926" y2="308.2" stroke="#a6a6a6" stroke-width="0.9" stroke-dasharray="2.2 1.9"/><line x1="625.4" y1="333.1" x2="926" y2="333.1" stroke="#a6a6a6" stroke-width="0.9" stroke-dasharray="2.2 1.9"/><line x1="625.4" y1="358" x2="926" y2="358" stroke="#a6a6a6" stroke-width="0.9" stroke-dasharray="2.2 1.9"/><line x1="625.4" y1="382.9" x2="926" y2="382.9" stroke="#a6a6a6" stroke-width="0.9" stroke-dasharray="2.2 1.9"/><line x1="625.4" y1="407.8" x2="926" y2="407.8" stroke="#a6a6a6" stroke-width="0.9" stroke-dasharray="2.2 1.9"/><line x1="625.4" y1="432.7" x2="926" y2="432.7" stroke="#a6a6a6" stroke-width="0.9" stroke-dasharray="2.2 1.9"/>
<line x1="639.5" y1="275.13" x2="911.2" y2="376.13" stroke="#111" stroke-width="1.9" />
<line x1="639.5" y1="274.73" x2="897.76" y2="355.31" stroke="#1a1aff" stroke-width="1.7" />
<line x1="639.5" y1="274.54" x2="911.2" y2="362.98" stroke="#ff1a1a" stroke-width="1.7" />
<line x1="639.5" y1="275.31" x2="639.5" y2="287.31" stroke="#111" stroke-width="1.55" /><line x1="634.7" y1="275.31" x2="644.3" y2="275.31" stroke="#111" stroke-width="1.55" /><line x1="634.7" y1="287.31" x2="644.3" y2="287.31" stroke="#111" stroke-width="1.55" /><circle cx="639.5" cy="281.31" r="1.9" fill="#111"/>
<line x1="682.4" y1="286.56" x2="682.4" y2="298.56" stroke="#111" stroke-width="1.55" /><line x1="677.6" y1="286.56" x2="687.2" y2="286.56" stroke="#111" stroke-width="1.55" /><line x1="677.6" y1="298.56" x2="687.2" y2="298.56" stroke="#111" stroke-width="1.55" /><circle cx="682.4" cy="292.56" r="1.9" fill="#111"/>
<line x1="725.3" y1="310.37" x2="725.3" y2="322.37" stroke="#111" stroke-width="1.55" /><line x1="720.5" y1="310.37" x2="730.1" y2="310.37" stroke="#111" stroke-width="1.55" /><line x1="720.5" y1="322.37" x2="730.1" y2="322.37" stroke="#111" stroke-width="1.55" /><circle cx="725.3" cy="316.37" r="1.9" fill="#111"/>
<line x1="768.2" y1="298.32" x2="768.2" y2="310.32" stroke="#111" stroke-width="1.55" /><line x1="763.4" y1="298.32" x2="773" y2="298.32" stroke="#111" stroke-width="1.55" /><line x1="763.4" y1="310.32" x2="773" y2="310.32" stroke="#111" stroke-width="1.55" /><circle cx="768.2" cy="304.32" r="1.9" fill="#111"/>
<line x1="811.1" y1="323.91" x2="811.1" y2="335.91" stroke="#111" stroke-width="1.55" /><line x1="806.3" y1="323.91" x2="815.9" y2="323.91" stroke="#111" stroke-width="1.55" /><line x1="806.3" y1="335.91" x2="815.9" y2="335.91" stroke="#111" stroke-width="1.55" /><circle cx="811.1" cy="329.91" r="1.9" fill="#111"/>
<line x1="854" y1="351.2" x2="854" y2="363.2" stroke="#111" stroke-width="1.55" /><line x1="849.2" y1="351.2" x2="858.8" y2="351.2" stroke="#111" stroke-width="1.55" /><line x1="849.2" y1="363.2" x2="858.8" y2="363.2" stroke="#111" stroke-width="1.55" /><circle cx="854" cy="357.2" r="1.9" fill="#111"/>
<line x1="653.8" y1="291.94" x2="653.8" y2="305.54" stroke="#1a1aff" stroke-width="1.55" /><line x1="649" y1="291.94" x2="658.6" y2="291.94" stroke="#1a1aff" stroke-width="1.55" /><line x1="649" y1="305.54" x2="658.6" y2="305.54" stroke="#1a1aff" stroke-width="1.55" /><path d="M653.8 295.54L656 298.74L653.8 301.94L651.6 298.74Z" fill="#1a1aff"/>
<line x1="696.7" y1="273.81" x2="696.7" y2="287.41" stroke="#1a1aff" stroke-width="1.55" /><line x1="691.9" y1="273.81" x2="701.5" y2="273.81" stroke="#1a1aff" stroke-width="1.55" /><line x1="691.9" y1="287.41" x2="701.5" y2="287.41" stroke="#1a1aff" stroke-width="1.55" /><path d="M696.7 277.41L698.9 280.61L696.7 283.81L694.5 280.61Z" fill="#1a1aff"/>
<line x1="739.6" y1="301.9" x2="739.6" y2="315.5" stroke="#1a1aff" stroke-width="1.55" /><line x1="734.8" y1="301.9" x2="744.4" y2="301.9" stroke="#1a1aff" stroke-width="1.55" /><line x1="734.8" y1="315.5" x2="744.4" y2="315.5" stroke="#1a1aff" stroke-width="1.55" /><path d="M739.6 305.5L741.8 308.7L739.6 311.9L737.4 308.7Z" fill="#1a1aff"/>
<line x1="782.5" y1="333.47" x2="782.5" y2="347.07" stroke="#1a1aff" stroke-width="1.55" /><line x1="777.7" y1="333.47" x2="787.3" y2="333.47" stroke="#1a1aff" stroke-width="1.55" /><line x1="777.7" y1="347.07" x2="787.3" y2="347.07" stroke="#1a1aff" stroke-width="1.55" /><path d="M782.5 337.07L784.7 340.27L782.5 343.47L780.3 340.27Z" fill="#1a1aff"/>
<line x1="825.4" y1="320.32" x2="825.4" y2="333.92" stroke="#1a1aff" stroke-width="1.55" /><line x1="820.6" y1="320.32" x2="830.2" y2="320.32" stroke="#1a1aff" stroke-width="1.55" /><line x1="820.6" y1="333.92" x2="830.2" y2="333.92" stroke="#1a1aff" stroke-width="1.55" /><path d="M825.4 323.92L827.6 327.12L825.4 330.32L823.2 327.12Z" fill="#1a1aff"/>
<line x1="868.3" y1="357.97" x2="868.3" y2="371.57" stroke="#1a1aff" stroke-width="1.55" /><line x1="863.5" y1="357.97" x2="873.1" y2="357.97" stroke="#1a1aff" stroke-width="1.55" /><line x1="863.5" y1="371.57" x2="873.1" y2="371.57" stroke="#1a1aff" stroke-width="1.55" /><path d="M868.3 361.57L870.5 364.77L868.3 367.97L866.1 364.77Z" fill="#1a1aff"/>
<line x1="668.1" y1="302.5" x2="668.1" y2="315.3" stroke="#ff1a1a" stroke-width="1.55" /><line x1="663.3" y1="302.5" x2="672.9" y2="302.5" stroke="#ff1a1a" stroke-width="1.55" /><line x1="663.3" y1="315.3" x2="672.9" y2="315.3" stroke="#ff1a1a" stroke-width="1.55" /><rect x="664.9" y="305.7" width="6.4" height="6.4" fill="#ff1a1a"/>
<line x1="711" y1="280.88" x2="711" y2="293.68" stroke="#ff1a1a" stroke-width="1.55" /><line x1="706.2" y1="280.88" x2="715.8" y2="280.88" stroke="#ff1a1a" stroke-width="1.55" /><line x1="706.2" y1="293.68" x2="715.8" y2="293.68" stroke="#ff1a1a" stroke-width="1.55" /><rect x="707.8" y="284.08" width="6.4" height="6.4" fill="#ff1a1a"/>
<line x1="753.9" y1="310.07" x2="753.9" y2="322.87" stroke="#ff1a1a" stroke-width="1.55" /><line x1="749.1" y1="310.07" x2="758.7" y2="310.07" stroke="#ff1a1a" stroke-width="1.55" /><line x1="749.1" y1="322.87" x2="758.7" y2="322.87" stroke="#ff1a1a" stroke-width="1.55" /><rect x="750.7" y="313.27" width="6.4" height="6.4" fill="#ff1a1a"/>
<line x1="796.8" y1="335.07" x2="796.8" y2="347.87" stroke="#ff1a1a" stroke-width="1.55" /><line x1="792" y1="335.07" x2="801.6" y2="335.07" stroke="#ff1a1a" stroke-width="1.55" /><line x1="792" y1="347.87" x2="801.6" y2="347.87" stroke="#ff1a1a" stroke-width="1.55" /><rect x="793.6" y="338.27" width="6.4" height="6.4" fill="#ff1a1a"/>
<line x1="839.7" y1="324.61" x2="839.7" y2="337.41" stroke="#ff1a1a" stroke-width="1.55" /><line x1="834.9" y1="324.61" x2="844.5" y2="324.61" stroke="#ff1a1a" stroke-width="1.55" /><line x1="834.9" y1="337.41" x2="844.5" y2="337.41" stroke="#ff1a1a" stroke-width="1.55" /><rect x="836.5" y="327.81" width="6.4" height="6.4" fill="#ff1a1a"/>
<line x1="882.6" y1="359.37" x2="882.6" y2="372.17" stroke="#ff1a1a" stroke-width="1.55" /><line x1="877.8" y1="359.37" x2="887.4" y2="359.37" stroke="#ff1a1a" stroke-width="1.55" /><line x1="877.8" y1="372.17" x2="887.4" y2="372.17" stroke="#ff1a1a" stroke-width="1.55" /><rect x="879.4" y="362.57" width="6.4" height="6.4" fill="#ff1a1a"/>
<rect x="631.2" y="382.2" width="172.6" height="50" fill="#fff" stroke="#c8c8c8" stroke-width="1" rx="1.5" fill-opacity="0.85"/><line x1="650.6" y1="387.1" x2="650.6" y2="397.5" stroke="#1a1aff" stroke-width="1.3" /><line x1="645.85" y1="387.1" x2="655.35" y2="387.1" stroke="#1a1aff" stroke-width="1.3" /><line x1="645.85" y1="397.5" x2="655.35" y2="397.5" stroke="#1a1aff" stroke-width="1.3" /><path d="M650.6 389.1L652.8 392.3L650.6 395.5L648.4 392.3Z" fill="#1a1aff"/><text x="664" y="396" font-size="10" font-family='"DejaVu Sans", "Liberation Sans", sans-serif' fill="#303030" textLength="108.6" lengthAdjust="spacingAndGlyphs" stroke="#303030" stroke-width="0.16">ROC: 0.99948(5)</text><line x1="650.6" y1="402.4" x2="650.6" y2="412.8" stroke="#ff1a1a" stroke-width="1.3" /><line x1="645.85" y1="402.4" x2="655.35" y2="402.4" stroke="#ff1a1a" stroke-width="1.3" /><line x1="645.85" y1="412.8" x2="655.35" y2="412.8" stroke="#ff1a1a" stroke-width="1.3" /><rect x="647.4" y="404.4" width="6.4" height="6.4" fill="#ff1a1a"/><text x="664" y="411.3" font-size="10" font-family='"DejaVu Sans", "Liberation Sans", sans-serif' fill="#303030" textLength="106.4" lengthAdjust="spacingAndGlyphs" stroke="#303030" stroke-width="0.16">BB1: 0.99946(6)</text><line x1="650.6" y1="417.5" x2="650.6" y2="427.9" stroke="#111" stroke-width="1.3" /><line x1="645.85" y1="417.5" x2="655.35" y2="417.5" stroke="#111" stroke-width="1.3" /><line x1="645.85" y1="427.9" x2="655.35" y2="427.9" stroke="#111" stroke-width="1.3" /><circle cx="650.6" cy="422.7" r="1.9" fill="#111"/><text x="664" y="426.4" font-size="10" font-family='"DejaVu Sans", "Liberation Sans", sans-serif' fill="#303030" textLength="134.6" lengthAdjust="spacingAndGlyphs" stroke="#303030" stroke-width="0.16">SQUARE: 0.99938(5)</text>
<rect x="672.8" y="236.6" width="163.4" height="23" fill="#e4e4e4"/><rect x="672" y="235.4" width="163.4" height="23" fill="#fff" stroke="#dedede" stroke-width="1"/><text x="682.4" y="252.3" font-size="15.4" font-family='"Liberation Sans", "Noto Sans CJK SC", sans-serif' fill="#1a1a1a" textLength="135" lengthAdjust="spacingAndGlyphs" stroke="#1a1a1a" stroke-width="0.35">共振条件，无噪声</text>
<path d="M653.8 437.3v-2M653.8 258.4v2M668.1 437.3v-2M668.1 258.4v2M682.4 437.3v-2M682.4 258.4v2M696.7 437.3v-2M696.7 258.4v2M725.3 437.3v-2M725.3 258.4v2M739.6 437.3v-2M739.6 258.4v2M753.9 437.3v-2M753.9 258.4v2M768.2 437.3v-2M768.2 258.4v2M796.8 437.3v-2M796.8 258.4v2M811.1 437.3v-2M811.1 258.4v2M825.4 437.3v-2M825.4 258.4v2M839.7 437.3v-2M839.7 258.4v2M868.3 437.3v-2M868.3 258.4v2M882.6 437.3v-2M882.6 258.4v2M896.9 437.3v-2M896.9 258.4v2M911.2 437.3v-2M911.2 258.4v2M639.5 437.3v-3.4M639.5 258.4v3.4M711 437.3v-3.4M711 258.4v3.4M782.5 437.3v-3.4M782.5 258.4v3.4M854 437.3v-3.4M854 258.4v3.4M625.4 263.38h2M926 263.38h-2M625.4 268.36h2M926 268.36h-2M625.4 273.34h2M926 273.34h-2M625.4 278.32h2M926 278.32h-2M625.4 288.28h2M926 288.28h-2M625.4 293.26h2M926 293.26h-2M625.4 298.24h2M926 298.24h-2M625.4 303.22h2M926 303.22h-2M625.4 313.18h2M926 313.18h-2M625.4 318.16h2M926 318.16h-2M625.4 323.14h2M926 323.14h-2M625.4 328.12h2M926 328.12h-2M625.4 338.08h2M926 338.08h-2M625.4 343.06h2M926 343.06h-2M625.4 348.04h2M926 348.04h-2M625.4 353.02h2M926 353.02h-2M625.4 362.98h2M926 362.98h-2M625.4 367.96h2M926 367.96h-2M625.4 372.94h2M926 372.94h-2M625.4 377.92h2M926 377.92h-2M625.4 387.88h2M926 387.88h-2M625.4 392.86h2M926 392.86h-2M625.4 397.84h2M926 397.84h-2M625.4 402.82h2M926 402.82h-2M625.4 412.78h2M926 412.78h-2M625.4 417.76h2M926 417.76h-2M625.4 422.74h2M926 422.74h-2M625.4 427.72h2M926 427.72h-2M625.4 283.3h3.4M926 283.3h-3.4M625.4 308.2h3.4M926 308.2h-3.4M625.4 333.1h3.4M926 333.1h-3.4M625.4 358h3.4M926 358h-3.4M625.4 382.9h3.4M926 382.9h-3.4M625.4 407.8h3.4M926 407.8h-3.4M625.4 432.7h3.4M926 432.7h-3.4" stroke="#3a3a3a" stroke-width="0.9" fill="none"/><rect x="625.4" y="258.4" width="300.6" height="178.9" fill="none" stroke="#3a3a3a" stroke-width="1.2"/>
<rect x="631.6" y="381.3" width="147.4" height="20.6" fill="none" stroke="#f3161e" stroke-width="3.3" rx="0.8"/>
<text x="583.4" y="262.9" font-size="10.4" font-family='"DejaVu Sans", "Liberation Sans", sans-serif' fill="#303030" textLength="36.4" lengthAdjust="spacingAndGlyphs" stroke="#303030" stroke-width="0.16">1.000</text>
<text x="583.4" y="287.8" font-size="10.4" font-family='"DejaVu Sans", "Liberation Sans", sans-serif' fill="#303030" textLength="36.4" lengthAdjust="spacingAndGlyphs" stroke="#303030" stroke-width="0.16">0.975</text>
<text x="583.4" y="312.7" font-size="10.4" font-family='"DejaVu Sans", "Liberation Sans", sans-serif' fill="#303030" textLength="36.4" lengthAdjust="spacingAndGlyphs" stroke="#303030" stroke-width="0.16">0.950</text>
<text x="583.4" y="337.6" font-size="10.4" font-family='"DejaVu Sans", "Liberation Sans", sans-serif' fill="#303030" textLength="36.4" lengthAdjust="spacingAndGlyphs" stroke="#303030" stroke-width="0.16">0.925</text>
<text x="583.4" y="362.5" font-size="10.4" font-family='"DejaVu Sans", "Liberation Sans", sans-serif' fill="#303030" textLength="36.4" lengthAdjust="spacingAndGlyphs" stroke="#303030" stroke-width="0.16">0.900</text>
<text x="583.4" y="387.4" font-size="10.4" font-family='"DejaVu Sans", "Liberation Sans", sans-serif' fill="#303030" textLength="36.4" lengthAdjust="spacingAndGlyphs" stroke="#303030" stroke-width="0.16">0.875</text>
<text x="583.4" y="412.3" font-size="10.4" font-family='"DejaVu Sans", "Liberation Sans", sans-serif' fill="#303030" textLength="36.4" lengthAdjust="spacingAndGlyphs" stroke="#303030" stroke-width="0.16">0.850</text>
<text x="583.4" y="437.2" font-size="10.4" font-family='"DejaVu Sans", "Liberation Sans", sans-serif' fill="#303030" textLength="36.4" lengthAdjust="spacingAndGlyphs" stroke="#303030" stroke-width="0.16">0.825</text>
<text x="635.4" y="450.4" font-size="10" font-family='"DejaVu Sans", "Liberation Sans", sans-serif' fill="#303030" textLength="8.2" lengthAdjust="spacingAndGlyphs" stroke="#303030" stroke-width="0.16">0</text>
<text x="702.8" y="450.4" font-size="10" font-family='"DejaVu Sans", "Liberation Sans", sans-serif' fill="#303030" textLength="16.4" lengthAdjust="spacingAndGlyphs" stroke="#303030" stroke-width="0.16">50</text>
<text x="770.2" y="450.4" font-size="10" font-family='"DejaVu Sans", "Liberation Sans", sans-serif' fill="#303030" textLength="24.6" lengthAdjust="spacingAndGlyphs" stroke="#303030" stroke-width="0.16">100</text>
<text x="841.7" y="450.4" font-size="10" font-family='"DejaVu Sans", "Liberation Sans", sans-serif' fill="#303030" textLength="24.6" lengthAdjust="spacingAndGlyphs" stroke="#303030" stroke-width="0.16">150</text>
<text x="721.4" y="465.4" font-size="10" font-family='"DejaVu Sans", "Liberation Sans", sans-serif' fill="#303030" textLength="107" lengthAdjust="spacingAndGlyphs" stroke="#303030" stroke-width="0.16">Number of Pulse</text>
<text transform="translate(575 367.6) rotate(-90)" x="0" y="0" font-size="12.2" font-family='"DejaVu Sans", "Liberation Sans", sans-serif' fill="#303030" textLength="37" lengthAdjust="spacingAndGlyphs" stroke="#303030" stroke-width="0.16">Fidelity</text>
<text y="266.6" font-family='"Liberation Serif", serif' fill="#0a0a0a" stroke="#0a0a0a" stroke-width="0.75"><tspan x="541.6" y="265" font-size="17.6">(</tspan><tspan x="547.6" y="265.7" font-size="24" stroke-width="0.55"> d </tspan><tspan x="572.2" y="265" font-size="17.6">)</tspan></text>
</g>
<g id="panel-e">
<rect x="1020.5" y="268.1" width="301.3" height="170.6" fill="#fff"/>
<line x1="1034.5" y1="268.1" x2="1034.5" y2="438.7" stroke="#a6a6a6" stroke-width="0.9" stroke-dasharray="2.2 1.9"/><line x1="1102.85" y1="268.1" x2="1102.85" y2="438.7" stroke="#a6a6a6" stroke-width="0.9" stroke-dasharray="2.2 1.9"/><line x1="1171.2" y1="268.1" x2="1171.2" y2="438.7" stroke="#a6a6a6" stroke-width="0.9" stroke-dasharray="2.2 1.9"/><line x1="1239.55" y1="268.1" x2="1239.55" y2="438.7" stroke="#a6a6a6" stroke-width="0.9" stroke-dasharray="2.2 1.9"/><line x1="1307.9" y1="268.1" x2="1307.9" y2="438.7" stroke="#a6a6a6" stroke-width="0.9" stroke-dasharray="2.2 1.9"/><line x1="1020.5" y1="302.28" x2="1321.8" y2="302.28" stroke="#a6a6a6" stroke-width="0.9" stroke-dasharray="2.2 1.9"/><line x1="1020.5" y1="336.36" x2="1321.8" y2="336.36" stroke="#a6a6a6" stroke-width="0.9" stroke-dasharray="2.2 1.9"/><line x1="1020.5" y1="370.44" x2="1321.8" y2="370.44" stroke="#a6a6a6" stroke-width="0.9" stroke-dasharray="2.2 1.9"/><line x1="1020.5" y1="404.52" x2="1321.8" y2="404.52" stroke="#a6a6a6" stroke-width="0.9" stroke-dasharray="2.2 1.9"/>
<line x1="1034.5" y1="273.58" x2="1307.9" y2="276.55" stroke="#1a1aff" stroke-width="1.9" />
<line x1="1034.5" y1="273.14" x2="1307.9" y2="302.96" stroke="#ff1a1a" stroke-width="1.9" />
<path d="M1034.5 281.49 L1102.85 330.91 L1171.2 365.46 L1239.55 388.84 L1307.9 406.22" fill="none" stroke="#111" stroke-width="1.6" stroke-linejoin="round"/>
<line x1="1034.5" y1="278.89" x2="1034.5" y2="284.09" stroke="#111" stroke-width="1.55" /><line x1="1029.7" y1="278.89" x2="1039.3" y2="278.89" stroke="#111" stroke-width="1.55" /><line x1="1029.7" y1="284.09" x2="1039.3" y2="284.09" stroke="#111" stroke-width="1.55" /><circle cx="1034.5" cy="281.49" r="1.9" fill="#111"/>
<line x1="1102.85" y1="338.53" x2="1102.85" y2="343.73" stroke="#111" stroke-width="1.55" /><line x1="1098.05" y1="338.53" x2="1107.65" y2="338.53" stroke="#111" stroke-width="1.55" /><line x1="1098.05" y1="343.73" x2="1107.65" y2="343.73" stroke="#111" stroke-width="1.55" /><circle cx="1102.85" cy="341.13" r="1.9" fill="#111"/>
<line x1="1171.2" y1="375.2" x2="1171.2" y2="380.4" stroke="#111" stroke-width="1.55" /><line x1="1166.4" y1="375.2" x2="1176" y2="375.2" stroke="#111" stroke-width="1.55" /><line x1="1166.4" y1="380.4" x2="1176" y2="380.4" stroke="#111" stroke-width="1.55" /><circle cx="1171.2" cy="377.8" r="1.9" fill="#111"/>
<line x1="1239.55" y1="382.15" x2="1239.55" y2="387.35" stroke="#111" stroke-width="1.55" /><line x1="1234.75" y1="382.15" x2="1244.35" y2="382.15" stroke="#111" stroke-width="1.55" /><line x1="1234.75" y1="387.35" x2="1244.35" y2="387.35" stroke="#111" stroke-width="1.55" /><circle cx="1239.55" cy="384.75" r="1.9" fill="#111"/>
<line x1="1307.9" y1="390.33" x2="1307.9" y2="395.53" stroke="#111" stroke-width="1.55" /><line x1="1303.1" y1="390.33" x2="1312.7" y2="390.33" stroke="#111" stroke-width="1.55" /><line x1="1303.1" y1="395.53" x2="1312.7" y2="395.53" stroke="#111" stroke-width="1.55" /><circle cx="1307.9" cy="392.93" r="1.9" fill="#111"/>
<line x1="1034.5" y1="270.44" x2="1034.5" y2="275.84" stroke="#1a1aff" stroke-width="1.55" /><line x1="1029.7" y1="270.44" x2="1039.3" y2="270.44" stroke="#1a1aff" stroke-width="1.55" /><line x1="1029.7" y1="275.84" x2="1039.3" y2="275.84" stroke="#1a1aff" stroke-width="1.55" /><path d="M1034.5 269.94L1036.7 273.14L1034.5 276.34L1032.3 273.14Z" fill="#1a1aff"/>
<line x1="1102.85" y1="271.98" x2="1102.85" y2="277.38" stroke="#1a1aff" stroke-width="1.55" /><line x1="1098.05" y1="271.98" x2="1107.65" y2="271.98" stroke="#1a1aff" stroke-width="1.55" /><line x1="1098.05" y1="277.38" x2="1107.65" y2="277.38" stroke="#1a1aff" stroke-width="1.55" /><path d="M1102.85 271.48L1105.05 274.68L1102.85 277.88L1100.65 274.68Z" fill="#1a1aff"/>
<line x1="1171.2" y1="271.19" x2="1171.2" y2="276.59" stroke="#1a1aff" stroke-width="1.55" /><line x1="1166.4" y1="271.19" x2="1176" y2="271.19" stroke="#1a1aff" stroke-width="1.55" /><line x1="1166.4" y1="276.59" x2="1176" y2="276.59" stroke="#1a1aff" stroke-width="1.55" /><path d="M1171.2 270.69L1173.4 273.89L1171.2 277.09L1169 273.89Z" fill="#1a1aff"/>
<line x1="1239.55" y1="271.98" x2="1239.55" y2="277.38" stroke="#1a1aff" stroke-width="1.55" /><line x1="1234.75" y1="271.98" x2="1244.35" y2="271.98" stroke="#1a1aff" stroke-width="1.55" /><line x1="1234.75" y1="277.38" x2="1244.35" y2="277.38" stroke="#1a1aff" stroke-width="1.55" /><path d="M1239.55 271.48L1241.75 274.68L1239.55 277.88L1237.35 274.68Z" fill="#1a1aff"/>
<line x1="1307.9" y1="275.28" x2="1307.9" y2="280.68" stroke="#1a1aff" stroke-width="1.55" /><line x1="1303.1" y1="275.28" x2="1312.7" y2="275.28" stroke="#1a1aff" stroke-width="1.55" /><line x1="1303.1" y1="280.68" x2="1312.7" y2="280.68" stroke="#1a1aff" stroke-width="1.55" /><path d="M1307.9 274.78L1310.1 277.98L1307.9 281.18L1305.7 277.98Z" fill="#1a1aff"/>
<line x1="1034.5" y1="270.54" x2="1034.5" y2="275.74" stroke="#ff1a1a" stroke-width="1.55" /><line x1="1029.7" y1="270.54" x2="1039.3" y2="270.54" stroke="#ff1a1a" stroke-width="1.55" /><line x1="1029.7" y1="275.74" x2="1039.3" y2="275.74" stroke="#ff1a1a" stroke-width="1.55" /><rect x="1031.3" y="269.94" width="6.4" height="6.4" fill="#ff1a1a"/>
<line x1="1102.85" y1="279.57" x2="1102.85" y2="284.77" stroke="#ff1a1a" stroke-width="1.55" /><line x1="1098.05" y1="279.57" x2="1107.65" y2="279.57" stroke="#ff1a1a" stroke-width="1.55" /><line x1="1098.05" y1="284.77" x2="1107.65" y2="284.77" stroke="#ff1a1a" stroke-width="1.55" /><rect x="1099.65" y="278.97" width="6.4" height="6.4" fill="#ff1a1a"/>
<line x1="1171.2" y1="285.26" x2="1171.2" y2="290.46" stroke="#ff1a1a" stroke-width="1.55" /><line x1="1166.4" y1="285.26" x2="1176" y2="285.26" stroke="#ff1a1a" stroke-width="1.55" /><line x1="1166.4" y1="290.46" x2="1176" y2="290.46" stroke="#ff1a1a" stroke-width="1.55" /><rect x="1168" y="284.66" width="6.4" height="6.4" fill="#ff1a1a"/>
<line x1="1239.55" y1="288.02" x2="1239.55" y2="293.22" stroke="#ff1a1a" stroke-width="1.55" /><line x1="1234.75" y1="288.02" x2="1244.35" y2="288.02" stroke="#ff1a1a" stroke-width="1.55" /><line x1="1234.75" y1="293.22" x2="1244.35" y2="293.22" stroke="#ff1a1a" stroke-width="1.55" /><rect x="1236.35" y="287.42" width="6.4" height="6.4" fill="#ff1a1a"/>
<line x1="1307.9" y1="304.45" x2="1307.9" y2="309.65" stroke="#ff1a1a" stroke-width="1.55" /><line x1="1303.1" y1="304.45" x2="1312.7" y2="304.45" stroke="#ff1a1a" stroke-width="1.55" /><line x1="1303.1" y1="309.65" x2="1312.7" y2="309.65" stroke="#ff1a1a" stroke-width="1.55" /><rect x="1304.7" y="303.85" width="6.4" height="6.4" fill="#ff1a1a"/>
<rect x="1027.4" y="386.8" width="155" height="46.2" fill="#fff" stroke="#c8c8c8" stroke-width="1" rx="1.5" fill-opacity="0.85"/><line x1="1045.5" y1="390" x2="1045.5" y2="400.4" stroke="#1a1aff" stroke-width="1.3" /><line x1="1040.75" y1="390" x2="1050.25" y2="390" stroke="#1a1aff" stroke-width="1.3" /><line x1="1040.75" y1="400.4" x2="1050.25" y2="400.4" stroke="#1a1aff" stroke-width="1.3" /><path d="M1045.5 392L1047.7 395.2L1045.5 398.4L1043.3 395.2Z" fill="#1a1aff"/><text x="1059" y="398.9" font-size="10" font-family='"DejaVu Sans", "Liberation Sans", sans-serif' fill="#303030" textLength="100" lengthAdjust="spacingAndGlyphs" stroke="#303030" stroke-width="0.16">ROC: 0.9997(1)</text><line x1="1045.5" y1="405.1" x2="1045.5" y2="415.5" stroke="#ff1a1a" stroke-width="1.3" /><line x1="1040.75" y1="405.1" x2="1050.25" y2="405.1" stroke="#ff1a1a" stroke-width="1.3" /><line x1="1040.75" y1="415.5" x2="1050.25" y2="415.5" stroke="#ff1a1a" stroke-width="1.3" /><circle cx="1045.5" cy="410.3" r="2.9" fill="#ff1a1a"/><text x="1059" y="414" font-size="10" font-family='"DejaVu Sans", "Liberation Sans", sans-serif' fill="#303030" textLength="100" lengthAdjust="spacingAndGlyphs" stroke="#303030" stroke-width="0.16">BB1: 0.9977(3)</text><line x1="1045.5" y1="419.4" x2="1045.5" y2="429.8" stroke="#111" stroke-width="1.3" /><line x1="1040.75" y1="419.4" x2="1050.25" y2="419.4" stroke="#111" stroke-width="1.3" /><line x1="1040.75" y1="429.8" x2="1050.25" y2="429.8" stroke="#111" stroke-width="1.3" /><circle cx="1045.5" cy="424.6" r="1.9" fill="#111"/><text x="1059" y="428.3" font-size="10" font-family='"DejaVu Sans", "Liberation Sans", sans-serif' fill="#303030" textLength="118" lengthAdjust="spacingAndGlyphs" stroke="#303030" stroke-width="0.16">SQUARE: 0.982(2)</text>
<rect x="1056.8" y="244.4" width="212" height="24.6" fill="#e4e4e4"/><rect x="1056" y="243.2" width="212" height="24.6" fill="#fff" stroke="#dedede" stroke-width="1"/><text x="1067" y="260.8" font-size="15.4" font-family='"Liberation Sans", "Noto Sans CJK SC", sans-serif' fill="#1a1a1a" textLength="183.4" lengthAdjust="spacingAndGlyphs" stroke="#1a1a1a" stroke-width="0.35">偏共振，有微波操控噪声</text>
<path d="M1048.17 438.7v-2M1048.17 268.1v2M1061.84 438.7v-2M1061.84 268.1v2M1075.51 438.7v-2M1075.51 268.1v2M1089.18 438.7v-2M1089.18 268.1v2M1116.52 438.7v-2M1116.52 268.1v2M1130.19 438.7v-2M1130.19 268.1v2M1143.86 438.7v-2M1143.86 268.1v2M1157.53 438.7v-2M1157.53 268.1v2M1184.87 438.7v-2M1184.87 268.1v2M1198.54 438.7v-2M1198.54 268.1v2M1212.21 438.7v-2M1212.21 268.1v2M1225.88 438.7v-2M1225.88 268.1v2M1253.22 438.7v-2M1253.22 268.1v2M1266.89 438.7v-2M1266.89 268.1v2M1280.56 438.7v-2M1280.56 268.1v2M1294.23 438.7v-2M1294.23 268.1v2M1034.5 438.7v-3.4M1034.5 268.1v3.4M1102.85 438.7v-3.4M1102.85 268.1v3.4M1171.2 438.7v-3.4M1171.2 268.1v3.4M1239.55 438.7v-3.4M1239.55 268.1v3.4M1307.9 438.7v-3.4M1307.9 268.1v3.4M1020.5 275.02h2M1321.8 275.02h-2M1020.5 281.83h2M1321.8 281.83h-2M1020.5 288.65h2M1321.8 288.65h-2M1020.5 295.46h2M1321.8 295.46h-2M1020.5 309.1h2M1321.8 309.1h-2M1020.5 315.91h2M1321.8 315.91h-2M1020.5 322.73h2M1321.8 322.73h-2M1020.5 329.54h2M1321.8 329.54h-2M1020.5 343.18h2M1321.8 343.18h-2M1020.5 349.99h2M1321.8 349.99h-2M1020.5 356.81h2M1321.8 356.81h-2M1020.5 363.62h2M1321.8 363.62h-2M1020.5 377.26h2M1321.8 377.26h-2M1020.5 384.07h2M1321.8 384.07h-2M1020.5 390.89h2M1321.8 390.89h-2M1020.5 397.7h2M1321.8 397.7h-2M1020.5 411.34h2M1321.8 411.34h-2M1020.5 418.15h2M1321.8 418.15h-2M1020.5 424.97h2M1321.8 424.97h-2M1020.5 431.78h2M1321.8 431.78h-2M1020.5 302.28h3.4M1321.8 302.28h-3.4M1020.5 336.36h3.4M1321.8 336.36h-3.4M1020.5 370.44h3.4M1321.8 370.44h-3.4M1020.5 404.52h3.4M1321.8 404.52h-3.4" stroke="#3a3a3a" stroke-width="0.9" fill="none"/><rect x="1020.5" y="268.1" width="301.3" height="170.6" fill="none" stroke="#3a3a3a" stroke-width="1.2"/>
<rect x="1030.9" y="381.8" width="139.1" height="22" fill="none" stroke="#f3161e" stroke-width="3.3" rx="0.8"/>
<text x="995" y="271.9" font-size="10" font-family='"DejaVu Sans", "Liberation Sans", sans-serif' fill="#303030" textLength="20.6" lengthAdjust="spacingAndGlyphs" stroke="#303030" stroke-width="0.16">1.0</text>
<text x="995" y="305.98" font-size="10" font-family='"DejaVu Sans", "Liberation Sans", sans-serif' fill="#303030" textLength="20.6" lengthAdjust="spacingAndGlyphs" stroke="#303030" stroke-width="0.16">0.9</text>
<text x="995" y="340.06" font-size="10" font-family='"DejaVu Sans", "Liberation Sans", sans-serif' fill="#303030" textLength="20.6" lengthAdjust="spacingAndGlyphs" stroke="#303030" stroke-width="0.16">0.8</text>
<text x="995" y="374.14" font-size="10" font-family='"DejaVu Sans", "Liberation Sans", sans-serif' fill="#303030" textLength="20.6" lengthAdjust="spacingAndGlyphs" stroke="#303030" stroke-width="0.16">0.7</text>
<text x="995" y="408.22" font-size="10" font-family='"DejaVu Sans", "Liberation Sans", sans-serif' fill="#303030" textLength="20.6" lengthAdjust="spacingAndGlyphs" stroke="#303030" stroke-width="0.16">0.6</text>
<text x="995" y="442.3" font-size="10" font-family='"DejaVu Sans", "Liberation Sans", sans-serif' fill="#303030" textLength="20.6" lengthAdjust="spacingAndGlyphs" stroke="#303030" stroke-width="0.16">0.5</text>
<text x="1030.4" y="451" font-size="10" font-family='"DejaVu Sans", "Liberation Sans", sans-serif' fill="#303030" textLength="8.2" lengthAdjust="spacingAndGlyphs" stroke="#303030" stroke-width="0.16">0</text>
<text x="1094.65" y="451" font-size="10" font-family='"DejaVu Sans", "Liberation Sans", sans-serif' fill="#303030" textLength="16.4" lengthAdjust="spacingAndGlyphs" stroke="#303030" stroke-width="0.16">10</text>
<text x="1163" y="451" font-size="10" font-family='"DejaVu Sans", "Liberation Sans", sans-serif' fill="#303030" textLength="16.4" lengthAdjust="spacingAndGlyphs" stroke="#303030" stroke-width="0.16">20</text>
<text x="1231.35" y="451" font-size="10" font-family='"DejaVu Sans", "Liberation Sans", sans-serif' fill="#303030" textLength="16.4" lengthAdjust="spacingAndGlyphs" stroke="#303030" stroke-width="0.16">30</text>
<text x="1299.7" y="451" font-size="10" font-family='"DejaVu Sans", "Liberation Sans", sans-serif' fill="#303030" textLength="16.4" lengthAdjust="spacingAndGlyphs" stroke="#303030" stroke-width="0.16">40</text>
<text x="1116.6" y="465.6" font-size="10" font-family='"DejaVu Sans", "Liberation Sans", sans-serif' fill="#303030" textLength="108" lengthAdjust="spacingAndGlyphs" stroke="#303030" stroke-width="0.16">Number of Pulse</text>
<text transform="translate(985.6 372.6) rotate(-90)" x="0" y="0" font-size="12.2" font-family='"DejaVu Sans", "Liberation Sans", sans-serif' fill="#303030" textLength="37" lengthAdjust="spacingAndGlyphs" stroke="#303030" stroke-width="0.16">Fidelity</text>
<text y="273.6" font-family='"Liberation Serif", serif' fill="#0a0a0a" stroke="#0a0a0a" stroke-width="0.75"><tspan x="947.8" y="272" font-size="17.6">(</tspan><tspan x="953.8" y="272.7" font-size="24" stroke-width="0.55"> e </tspan><tspan x="978.4" y="272" font-size="17.6">)</tspan></text>
</g>
</svg>
</body>
</html>
